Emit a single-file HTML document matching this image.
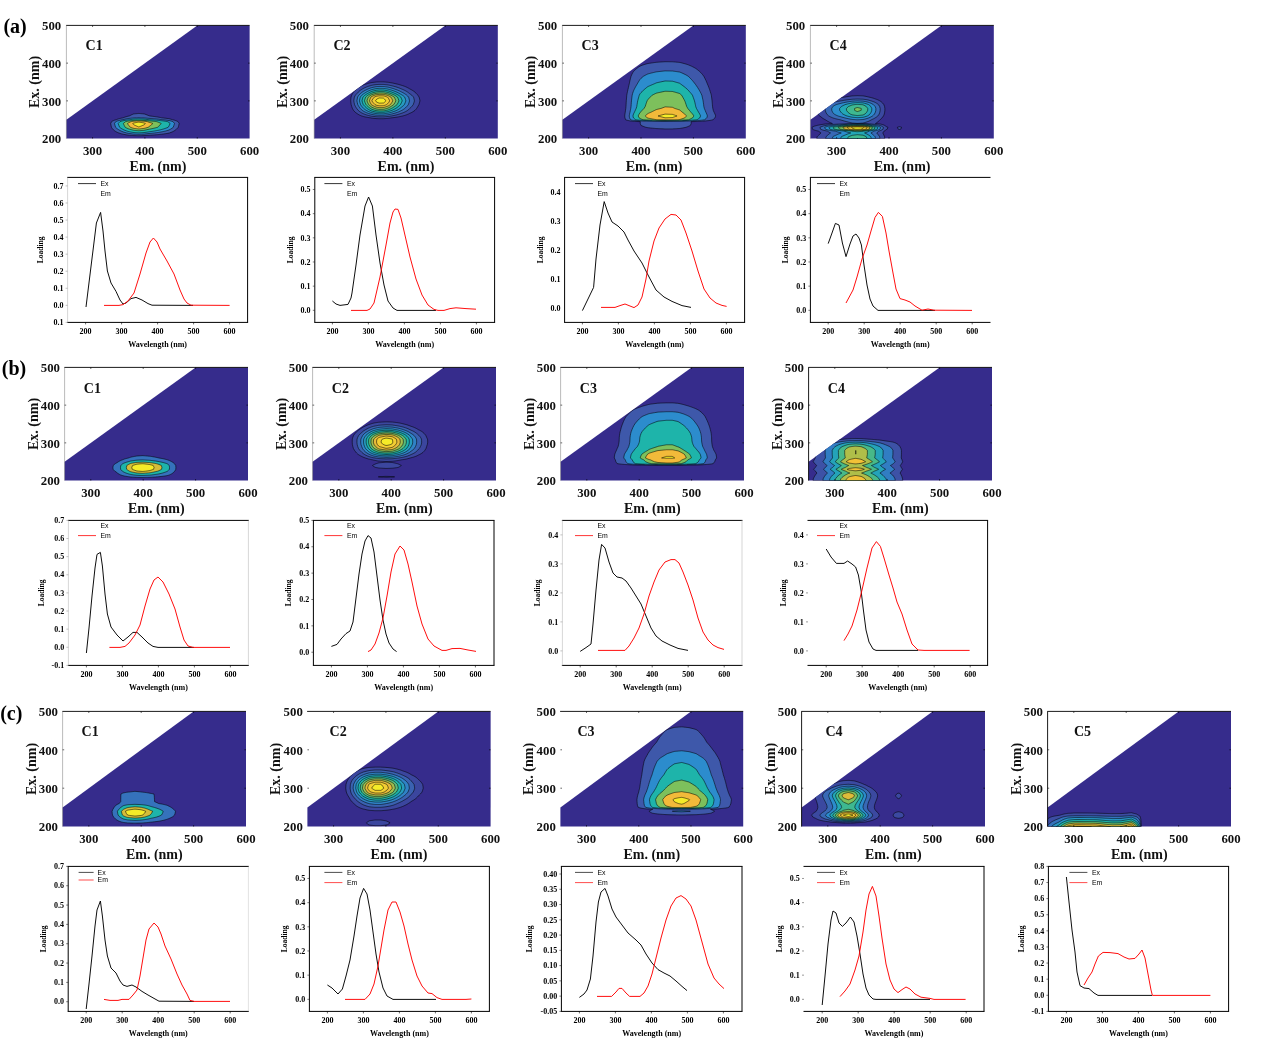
<!DOCTYPE html><html><head><meta charset="utf-8"><title>PARAFAC components</title><style>html,body{margin:0;padding:0;background:#fff}svg{display:block}</style></head><body><svg width="1265" height="1045" viewBox="0 0 1265 1045"><g>
<clipPath id="cca1"><polygon points="66.4,119.73 197.26,25.4 249.6,25.4 249.6,138.6 66.4,138.6"/></clipPath>
<polygon points="66.4,119.73 197.26,25.4 249.6,25.4 249.6,138.6 66.4,138.6" fill="#362c8c"/>
<g clip-path="url(#cca1)">
<path d="M126.35,134.83 L127.12,134.94 L128.16,135.08 L129.21,135.19 L130.26,135.29 L131.31,135.38 L132.35,135.46 L133.4,135.54 L134.45,135.59 L135.49,135.62 L136.54,135.65 L137.59,135.68 L138.63,135.71 L139.68,135.69 L140.73,135.67 L141.77,135.64 L142.82,135.61 L143.87,135.58 L144.91,135.52 L145.96,135.45 L147.01,135.38 L148.05,135.3 L149.1,135.24 L150.15,135.17 L151.2,135.11 L152.24,135.04 L153.29,134.97 L154.34,134.9 L155.26,134.83 L155.38,134.82 L156.43,134.73 L157.48,134.65 L158.52,134.55 L159.57,134.45 L160.62,134.34 L161.66,134.22 L162.71,134.09 L163.76,133.95 L164.8,133.8 L165.85,133.64 L166.9,133.47 L167.95,133.29 L168.99,133.07 L169.41,132.94 L170.04,132.74 L171.09,132.37 L172.13,131.94 L173.18,131.45 L173.9,131.05 L174.23,130.86 L175.27,130.15 L176.32,129.3 L176.46,129.17 L177.37,128.23 L178.24,127.28 L178.41,126.6 L178.71,125.39 L179.15,123.51 L178.41,122.26 L178,121.62 L177.37,121.32 L176.32,120.84 L175.27,120.46 L174.23,120.14 L173.18,119.88 L172.52,119.73 L172.13,119.6 L171.09,119.27 L170.04,118.98 L168.99,118.73 L167.95,118.56 L166.9,118.41 L165.85,118.28 L164.8,118.16 L163.76,118.04 L162.71,117.94 L161.78,117.85 L161.66,117.82 L160.62,117.59 L159.57,117.38 L158.52,117.18 L157.48,117 L156.43,116.84 L155.38,116.68 L154.34,116.53 L153.29,116.39 L152.24,116.26 L151.2,116.13 L150.15,116 L149.76,115.96 L149.1,115.74 L148.05,115.36 L147.01,114.93 L145.96,114.52 L144.91,114.13 L144.73,114.07 L143.87,113.91 L142.82,113.81 L141.77,113.71 L140.73,113.61 L139.68,113.52 L138.63,113.46 L137.59,113.55 L136.54,113.66 L135.49,113.76 L134.45,113.86 L133.4,114.04 L133.27,114.07 L132.35,114.47 L131.31,114.95 L130.26,115.47 L129.32,115.96 L129.21,115.98 L128.16,116.18 L127.12,116.45 L126.07,116.75 L125.02,117.09 L123.98,117.46 L123.03,117.85 L122.93,117.86 L121.88,118.06 L120.84,118.29 L119.79,118.55 L118.74,118.83 L117.7,119.15 L116.65,119.53 L116.16,119.73 L115.6,119.88 L114.56,120.2 L113.51,120.59 L112.46,121.1 L111.62,121.62 L111.41,122.04 L110.71,123.51 L111.06,125.39 L111.41,127.13 L111.44,127.28 L112.46,128.73 L112.84,129.17 L113.51,129.85 L114.56,130.74 L115,131.05 L115.6,131.45 L116.65,132.03 L117.7,132.52 L118.74,132.93 L118.77,132.94 L119.79,133.3 L120.84,133.63 L121.88,133.93 L122.93,134.18 L123.98,134.4 L125.02,134.6 L126.07,134.78 Z" fill="#3e58aa" fill-rule="evenodd" stroke="#000" stroke-width="0.6" stroke-opacity="0.9"/>
<path d="M126.74,132.94 L127.12,133.03 L128.16,133.26 L129.21,133.43 L130.26,133.59 L131.31,133.74 L132.35,133.88 L133.4,134.01 L134.45,134.09 L135.49,134.14 L136.54,134.19 L137.59,134.24 L138.63,134.29 L139.68,134.26 L140.73,134.21 L141.77,134.17 L142.82,134.12 L143.87,134.07 L144.91,133.98 L145.96,133.86 L147.01,133.75 L148.05,133.62 L149.1,133.51 L150.15,133.41 L151.2,133.31 L152.24,133.2 L153.29,133.08 L154.34,132.96 L154.48,132.94 L155.38,132.83 L156.43,132.69 L157.48,132.55 L158.52,132.4 L159.57,132.23 L160.62,132.04 L161.66,131.85 L162.71,131.64 L163.76,131.41 L164.8,131.17 L165.3,131.05 L165.85,130.91 L166.9,130.64 L167.95,130.33 L168.99,129.97 L170.04,129.44 L170.53,129.17 L171.09,128.84 L172.13,128.14 L173.18,127.33 L173.24,127.28 L173.9,125.39 L174.23,124.37 L174.49,123.51 L174.23,123.16 L173.18,121.92 L172.9,121.62 L172.13,121.36 L171.09,121.05 L170.04,120.78 L168.99,120.54 L167.95,120.38 L166.9,120.24 L165.85,120.12 L164.8,120 L163.76,119.89 L162.71,119.79 L162.08,119.73 L161.66,119.67 L160.62,119.52 L159.57,119.38 L158.52,119.24 L157.48,119.13 L156.43,119.02 L155.38,118.91 L154.34,118.81 L153.29,118.72 L152.24,118.63 L151.2,118.54 L150.15,118.46 L149.1,118.38 L148.05,118.3 L147.01,118.2 L145.96,118.11 L144.91,118.02 L143.87,117.95 L142.82,117.91 L141.77,117.87 L140.99,117.85 L140.73,117.83 L139.68,117.74 L138.63,117.69 L137.59,117.77 L136.75,117.85 L136.54,117.85 L135.49,117.89 L134.45,117.93 L133.4,118 L132.35,118.1 L131.31,118.2 L130.26,118.32 L129.21,118.44 L128.16,118.57 L127.12,118.75 L126.07,118.96 L125.02,119.18 L123.98,119.43 L122.93,119.72 L122.87,119.73 L121.88,119.91 L120.84,120.12 L119.79,120.37 L118.74,120.64 L117.7,120.94 L116.65,121.3 L115.84,121.62 L115.6,121.92 L114.56,123.42 L114.5,123.51 L114.56,123.73 L115,125.39 L115.55,127.28 L115.6,127.33 L116.65,128.28 L117.7,129.07 L117.83,129.17 L118.74,129.75 L119.79,130.35 L120.84,130.9 L121.16,131.05 L121.88,131.37 L122.93,131.79 L123.98,132.16 L125.02,132.48 L126.07,132.77 Z" fill="#2c8ccd" fill-rule="evenodd" stroke="#000" stroke-width="0.6" stroke-opacity="0.9"/>
<path d="M126.91,131.05 L127.12,131.12 L128.16,131.44 L129.21,131.68 L130.26,131.9 L131.31,132.11 L132.35,132.3 L133.4,132.48 L134.45,132.59 L135.49,132.66 L136.54,132.73 L137.59,132.8 L138.63,132.86 L139.68,132.82 L140.73,132.76 L141.77,132.7 L142.82,132.63 L143.87,132.56 L144.91,132.43 L145.96,132.28 L147.01,132.11 L148.05,131.94 L149.1,131.79 L150.15,131.65 L151.2,131.5 L152.24,131.35 L153.29,131.19 L154.12,131.05 L154.34,131.02 L155.38,130.84 L156.43,130.65 L157.48,130.45 L158.52,130.25 L159.57,130.01 L160.62,129.75 L161.66,129.48 L162.71,129.19 L162.79,129.17 L163.76,128.88 L164.8,128.54 L165.85,128.19 L166.9,127.8 L167.95,127.38 L168.16,127.28 L168.99,125.99 L169.27,125.39 L170.04,123.64 L170.09,123.51 L170.04,123.45 L168.99,122.51 L167.95,121.86 L167.5,121.62 L166.9,121.51 L165.85,121.34 L164.8,121.18 L163.76,121.03 L162.71,120.89 L161.66,120.76 L160.62,120.64 L159.57,120.52 L158.52,120.42 L157.48,120.32 L156.43,120.23 L155.38,120.15 L154.34,120.07 L153.29,119.99 L152.24,119.92 L151.2,119.85 L150.15,119.79 L149.28,119.73 L149.1,119.72 L148.05,119.6 L147.01,119.47 L145.96,119.34 L144.91,119.22 L143.87,119.12 L142.82,119.06 L141.77,119.01 L140.73,118.96 L139.68,118.91 L138.63,118.88 L137.59,118.93 L136.54,118.99 L135.49,119.04 L134.45,119.09 L133.4,119.18 L132.35,119.32 L131.31,119.47 L130.26,119.63 L129.62,119.73 L129.21,119.77 L128.16,119.88 L127.12,120.02 L126.07,120.18 L125.02,120.37 L123.98,120.57 L122.93,120.8 L121.88,121.05 L120.84,121.35 L119.99,121.62 L119.79,121.82 L118.74,122.91 L118.2,123.51 L118.74,124.99 L118.89,125.39 L119.62,127.28 L119.79,127.4 L120.84,128.16 L121.88,128.82 L122.49,129.17 L122.93,129.4 L123.98,129.91 L125.02,130.36 L126.07,130.76 Z" fill="#1eb4aa" fill-rule="evenodd" stroke="#000" stroke-width="0.6" stroke-opacity="0.9"/>
<path d="M129.6,129.17 L130.26,129.36 L131.31,129.65 L132.35,129.92 L133.4,130.18 L134.45,130.34 L135.49,130.44 L136.54,130.54 L137.59,130.64 L138.63,130.73 L139.68,130.67 L140.73,130.58 L141.77,130.49 L142.82,130.4 L143.87,130.3 L144.91,130.11 L145.96,129.89 L147.01,129.66 L148.05,129.42 L149.1,129.21 L149.31,129.17 L150.15,129.01 L151.2,128.8 L152.24,128.58 L153.29,128.35 L154.34,128.11 L155.38,127.86 L156.43,127.59 L157.48,127.31 L157.59,127.28 L158.52,126.43 L159.53,125.39 L159.57,125.35 L160.62,124.19 L161.2,123.51 L160.62,123.23 L159.57,122.76 L158.52,122.33 L157.48,121.94 L156.54,121.62 L156.43,121.61 L155.38,121.49 L154.34,121.37 L153.29,121.27 L152.24,121.16 L151.2,121.07 L150.15,120.97 L149.1,120.88 L148.05,120.79 L147.01,120.68 L145.96,120.57 L144.91,120.47 L143.87,120.39 L142.82,120.35 L141.77,120.31 L140.73,120.26 L139.68,120.22 L138.63,120.2 L137.59,120.24 L136.54,120.28 L135.49,120.33 L134.45,120.37 L133.4,120.45 L132.35,120.56 L131.31,120.68 L130.26,120.81 L129.21,120.95 L128.16,121.1 L127.12,121.31 L126.07,121.54 L125.72,121.62 L125.02,122.12 L123.98,122.95 L123.33,123.51 L123.98,124.89 L124.22,125.39 L125.02,126.94 L125.21,127.28 L126.07,127.74 L127.12,128.26 L128.16,128.71 L129.21,129.05 Z" fill="#7dc05c" fill-rule="evenodd" stroke="#000" stroke-width="0.6" stroke-opacity="0.9"/>
<path d="M130.36,127.28 L131.31,127.61 L132.35,127.95 L133.4,128.26 L134.45,128.47 L135.49,128.59 L136.54,128.72 L137.59,128.83 L138.63,128.95 L139.68,128.88 L140.73,128.77 L141.77,128.65 L142.82,128.54 L143.87,128.42 L144.91,128.18 L145.96,127.91 L147.01,127.62 L148.05,127.32 L148.2,127.28 L149.1,126.55 L150.15,125.75 L150.61,125.39 L151.2,124.92 L152.24,124.05 L152.87,123.51 L152.24,123.29 L151.2,122.94 L150.15,122.6 L149.1,122.28 L148.05,121.94 L147.22,121.62 L147.01,121.59 L145.96,121.46 L144.91,121.34 L143.87,121.24 L142.82,121.18 L141.77,121.13 L140.73,121.08 L139.68,121.03 L138.63,121 L137.59,121.05 L136.54,121.1 L135.49,121.16 L134.45,121.21 L133.4,121.3 L132.35,121.45 L131.31,121.6 L131.17,121.62 L130.26,122.03 L129.21,122.53 L128.16,123.07 L127.53,123.51 L128.16,124.58 L128.79,125.39 L129.21,125.92 L130.26,127.17 Z" fill="#f2ba3a" fill-rule="evenodd" stroke="#000" stroke-width="0.6" stroke-opacity="0.9"/>
<path d="M135.11,125.39 L135.49,125.57 L136.54,126.03 L137.59,126.48 L138.63,126.92 L139.68,126.65 L140.73,126.23 L141.77,125.8 L142.72,125.39 L142.82,125.35 L143.87,124.9 L144.91,123.99 L145.41,123.51 L144.91,123.31 L143.87,122.95 L142.82,122.76 L141.77,122.58 L140.73,122.41 L139.68,122.24 L138.63,122.13 L137.59,122.3 L136.54,122.49 L135.49,122.68 L134.45,122.87 L133.4,123.19 L132.71,123.51 L133.4,124.3 L134.45,125.09 Z" fill="#f5eb28" fill-rule="evenodd" stroke="#000" stroke-width="0.6" stroke-opacity="0.9"/>
</g>
<line x1="66.1" y1="25.4" x2="249.6" y2="25.4" stroke="#000" stroke-width="0.9"/>
<line x1="66.4" y1="25.4" x2="66.4" y2="138.6" stroke="#777" stroke-width="0.5"/>
<line x1="92.57" y1="25.4" x2="92.57" y2="27" stroke="#000" stroke-width="0.6"/>
<line x1="92.57" y1="138.6" x2="92.57" y2="137" stroke="#000" stroke-width="0.6"/>
<line x1="144.91" y1="25.4" x2="144.91" y2="27" stroke="#000" stroke-width="0.6"/>
<line x1="144.91" y1="138.6" x2="144.91" y2="137" stroke="#000" stroke-width="0.6"/>
<line x1="197.26" y1="25.4" x2="197.26" y2="27" stroke="#000" stroke-width="0.6"/>
<line x1="197.26" y1="138.6" x2="197.26" y2="137" stroke="#000" stroke-width="0.6"/>
<line x1="66.4" y1="100.87" x2="68" y2="100.87" stroke="#000" stroke-width="0.6"/>
<line x1="249.6" y1="100.87" x2="248" y2="100.87" stroke="#000" stroke-width="0.6"/>
<line x1="66.4" y1="63.13" x2="68" y2="63.13" stroke="#000" stroke-width="0.6"/>
<line x1="249.6" y1="63.13" x2="248" y2="63.13" stroke="#000" stroke-width="0.6"/>
<g font-family='"Liberation Serif", serif' font-weight="bold" font-size="12.8" fill="#111">
<text x="92.57" y="154.5" text-anchor="middle">300</text>
<text x="144.91" y="154.5" text-anchor="middle">400</text>
<text x="197.26" y="154.5" text-anchor="middle">500</text>
<text x="249.6" y="154.5" text-anchor="middle">600</text>
<text x="61.2" y="143.3" text-anchor="end">200</text>
<text x="61.2" y="105.57" text-anchor="end">300</text>
<text x="61.2" y="67.83" text-anchor="end">400</text>
<text x="61.2" y="30.1" text-anchor="end">500</text>
<text x="158" y="171" text-anchor="middle" font-size="14">Em. (nm)</text>
<text transform="translate(39.4,82) rotate(-90)" text-anchor="middle" font-size="14">Ex. (nm)</text>
<text x="85.6" y="50" font-size="14">C1</text>
</g>
</g>
<g>
<clipPath id="cca2"><polygon points="314.2,119.73 445.34,25.4 497.8,25.4 497.8,138.6 314.2,138.6"/></clipPath>
<polygon points="314.2,119.73 445.34,25.4 497.8,25.4 497.8,138.6 314.2,138.6" fill="#362c8c"/>
<g clip-path="url(#cca2)">
<path d="M370.61,117.85 L370.85,117.9 L371.9,118.1 L372.95,118.23 L374,118.35 L375.05,118.46 L376.1,118.57 L377.15,118.62 L378.2,118.67 L379.25,118.7 L380.3,118.7 L381.35,118.7 L382.39,118.69 L383.44,118.69 L384.49,118.62 L385.54,118.54 L386.59,118.45 L387.64,118.36 L388.69,118.24 L389.74,118.08 L390.79,117.92 L391.25,117.85 L391.84,117.79 L392.89,117.67 L393.93,117.55 L394.98,117.41 L396.03,117.26 L397.08,117.1 L398.13,116.92 L399.18,116.72 L400.23,116.5 L401.28,116.27 L402.33,116.04 L402.65,115.96 L403.38,115.78 L404.43,115.49 L405.48,115.17 L406.52,114.8 L407.57,114.39 L408.27,114.07 L408.62,113.91 L409.67,113.38 L410.72,112.92 L411.77,112.41 L412.19,112.19 L412.82,111.83 L413.87,111.16 L414.92,110.36 L414.99,110.3 L415.97,109.26 L416.65,108.41 L417.02,107.87 L417.81,106.53 L418.07,106.04 L418.9,104.64 L419.11,103.85 L419.47,102.75 L419.96,100.87 L419.61,98.98 L419.11,97.12 L419.11,97.09 L418.07,95.57 L417.84,95.21 L417.02,94.2 L416.17,93.32 L415.97,93.11 L414.92,92.14 L414.03,91.43 L413.87,91.31 L412.82,90.59 L411.77,89.97 L410.97,89.55 L410.72,89.41 L409.67,88.85 L408.62,88.21 L407.57,87.66 L407.57,87.66 L406.52,87.13 L405.48,86.66 L404.43,86.25 L403.38,85.89 L403.02,85.77 L402.33,85.54 L401.28,85.22 L400.23,84.89 L399.18,84.58 L398.13,84.3 L397.08,84.05 L396.33,83.89 L396.03,83.81 L394.98,83.55 L393.93,83.31 L392.89,83.09 L391.84,82.89 L390.79,82.71 L389.74,82.53 L388.69,82.37 L387.64,82.23 L386.59,82.14 L385.54,82.05 L384.95,82 L384.49,81.96 L383.44,81.88 L382.39,81.87 L381.35,81.87 L380.3,81.87 L379.25,81.86 L378.2,81.91 L377.15,81.95 L376.33,82 L376.1,82.01 L375.05,82.13 L374,82.25 L372.95,82.38 L371.9,82.51 L370.85,82.73 L369.8,82.97 L368.76,83.24 L367.71,83.54 L366.66,83.87 L366.61,83.89 L365.61,84.17 L364.56,84.49 L363.51,84.87 L362.46,85.29 L361.44,85.77 L361.41,85.79 L360.36,86.31 L359.31,86.94 L358.31,87.66 L358.26,87.69 L357.21,88.51 L356.17,89.34 L355.93,89.55 L355.12,90.27 L354.07,91.41 L354.05,91.43 L353.02,92.85 L352.73,93.32 L351.97,94.66 L351.7,95.21 L351.06,97.09 L350.92,98.43 L350.87,98.98 L350.73,100.87 L350.92,102.75 L350.92,102.77 L351.16,104.64 L351.72,106.53 L351.97,107.23 L352.43,108.41 L353.02,109.56 L353.45,110.3 L354.07,111.06 L355.12,112.13 L355.18,112.19 L356.17,112.98 L357.21,113.67 L357.82,114.07 L358.26,114.36 L359.31,114.95 L360.36,115.45 L361.41,115.86 L361.69,115.96 L362.46,116.21 L363.51,116.52 L364.56,116.78 L365.61,117.02 L366.66,117.23 L367.71,117.42 L368.76,117.59 L369.8,117.74 Z" fill="#3b469e" fill-rule="evenodd" stroke="#000" stroke-width="0.6" stroke-opacity="0.9"/>
<path d="M370.58,115.96 L370.85,116.02 L371.9,116.23 L372.95,116.36 L374,116.48 L375.05,116.6 L376.1,116.71 L377.15,116.76 L378.2,116.8 L379.25,116.84 L380.3,116.84 L381.35,116.83 L382.39,116.83 L383.44,116.82 L384.49,116.75 L385.54,116.67 L386.59,116.58 L387.64,116.49 L388.69,116.36 L389.74,116.21 L390.79,116.04 L391.29,115.96 L391.84,115.87 L392.89,115.67 L393.93,115.47 L394.98,115.24 L396.03,114.99 L397.08,114.72 L398.13,114.42 L399.18,114.09 L399.23,114.07 L400.23,113.75 L401.28,113.37 L402.33,113.01 L403.38,112.61 L404.36,112.19 L404.43,112.16 L405.48,111.65 L406.52,111.08 L407.57,110.43 L407.77,110.3 L408.62,109.57 L409.67,108.53 L409.82,108.41 L410.72,107.55 L411.71,106.53 L411.77,106.46 L412.82,105.2 L413.24,104.64 L413.87,102.84 L413.9,102.75 L414.41,100.87 L414.04,98.98 L413.87,98.35 L413.52,97.09 L412.82,96.29 L411.77,95.22 L411.76,95.21 L410.72,94.43 L409.67,93.71 L409.19,93.32 L408.62,92.85 L407.57,92.07 L406.6,91.43 L406.52,91.39 L405.48,90.78 L404.43,90.24 L403.38,89.76 L402.87,89.55 L402.33,89.3 L401.28,88.86 L400.23,88.41 L399.18,88 L398.24,87.66 L398.13,87.62 L397.08,87.24 L396.03,86.89 L394.98,86.58 L393.93,86.29 L392.89,86.02 L391.84,85.78 L391.81,85.77 L390.79,85.53 L389.74,85.3 L388.69,85.08 L387.64,84.9 L386.59,84.77 L385.54,84.65 L384.49,84.54 L383.44,84.44 L382.39,84.43 L381.35,84.43 L380.3,84.42 L379.25,84.42 L378.2,84.47 L377.15,84.53 L376.1,84.6 L375.05,84.76 L374,84.92 L372.95,85.09 L371.9,85.27 L370.85,85.57 L370.17,85.77 L369.8,85.88 L368.76,86.2 L367.71,86.56 L366.66,86.97 L365.61,87.41 L365.07,87.66 L364.56,87.88 L363.51,88.39 L362.46,88.96 L361.54,89.55 L361.41,89.62 L360.36,90.32 L359.31,91.14 L358.98,91.43 L358.26,92.11 L357.21,93.27 L357.17,93.32 L356.17,94.34 L355.45,95.21 L355.12,95.73 L354.36,97.09 L354.07,98.83 L354.04,98.98 L353.81,100.87 L354.07,102.39 L354.13,102.75 L354.53,104.64 L355.12,105.85 L355.48,106.53 L356.17,107.67 L356.66,108.41 L357.21,109.09 L358.17,110.3 L358.26,110.39 L359.31,111.32 L360.36,112.08 L360.52,112.19 L361.41,112.73 L362.46,113.29 L363.51,113.77 L364.27,114.07 L364.56,114.19 L365.61,114.58 L366.66,114.93 L367.71,115.25 L368.76,115.53 L369.8,115.79 Z" fill="#3a62b1" fill-rule="evenodd" stroke="#000" stroke-width="0.6" stroke-opacity="0.9"/>
<path d="M370.57,114.07 L370.85,114.16 L371.9,114.45 L372.95,114.64 L374,114.81 L375.05,114.97 L376.1,115.12 L377.15,115.2 L378.2,115.26 L379.25,115.31 L380.3,115.3 L381.35,115.3 L382.39,115.29 L383.44,115.29 L384.49,115.19 L385.54,115.07 L386.59,114.95 L387.64,114.83 L388.69,114.64 L389.74,114.43 L390.79,114.2 L391.31,114.07 L391.84,113.95 L392.89,113.7 L393.93,113.43 L394.98,113.13 L396.03,112.8 L397.08,112.44 L397.78,112.19 L398.13,112.05 L399.18,111.62 L400.23,111.14 L401.28,110.62 L401.96,110.3 L402.33,110.08 L403.38,109.42 L404.43,108.68 L404.78,108.41 L405.48,107.8 L406.52,106.76 L406.75,106.53 L407.57,105.58 L408.32,104.64 L408.62,103.79 L408.98,102.75 L409.51,100.87 L409.12,98.98 L408.62,97.19 L408.59,97.09 L407.57,95.96 L406.8,95.21 L406.52,94.99 L405.48,94.25 L404.43,93.59 L403.95,93.32 L403.38,92.97 L402.33,92.39 L401.28,91.87 L400.44,91.43 L400.23,91.33 L399.18,90.81 L398.13,90.35 L397.08,89.93 L396.03,89.55 L396.01,89.55 L394.98,89.16 L393.93,88.8 L392.89,88.47 L391.84,88.16 L390.79,87.88 L389.92,87.66 L389.74,87.61 L388.69,87.34 L387.64,87.1 L386.59,86.94 L385.54,86.79 L384.49,86.64 L383.44,86.51 L382.39,86.51 L381.35,86.5 L380.3,86.49 L379.25,86.49 L378.2,86.56 L377.15,86.63 L376.1,86.73 L375.05,86.92 L374,87.13 L372.95,87.35 L371.9,87.58 L371.66,87.66 L370.85,87.92 L369.8,88.29 L368.76,88.69 L367.71,89.14 L366.86,89.55 L366.66,89.64 L365.61,90.13 L364.56,90.67 L363.51,91.3 L363.3,91.43 L362.46,91.99 L361.41,92.79 L360.8,93.32 L360.36,93.69 L359.31,94.69 L358.84,95.21 L358.26,96.03 L357.59,97.09 L357.22,98.98 L357.21,99.01 L356.9,100.87 L357.21,102.22 L357.32,102.75 L357.79,104.64 L358.26,105.51 L358.88,106.53 L359.31,107.19 L360.23,108.41 L360.36,108.56 L361.41,109.63 L362.17,110.3 L362.46,110.5 L363.51,111.17 L364.56,111.75 L365.45,112.19 L365.61,112.26 L366.66,112.72 L367.71,113.14 L368.76,113.51 L369.8,113.85 Z" fill="#3082c6" fill-rule="evenodd" stroke="#000" stroke-width="0.6" stroke-opacity="0.9"/>
<path d="M370.25,112.19 L370.85,112.41 L371.9,112.76 L372.95,112.98 L374,113.19 L375.05,113.39 L376.1,113.57 L377.15,113.66 L378.2,113.73 L379.25,113.8 L380.3,113.79 L381.35,113.78 L382.39,113.78 L383.44,113.77 L384.49,113.65 L385.54,113.51 L386.59,113.36 L387.64,113.21 L388.69,112.99 L389.74,112.73 L390.79,112.45 L391.71,112.19 L391.84,112.15 L392.89,111.82 L393.93,111.47 L394.98,111.09 L396.03,110.68 L396.9,110.3 L397.08,110.2 L398.13,109.61 L399.18,108.96 L399.98,108.41 L400.23,108.21 L401.28,107.35 L402.31,106.53 L402.33,106.51 L403.38,105.58 L404.33,104.64 L404.43,104.43 L405.18,102.75 L405.48,101.95 L405.86,100.87 L405.48,99.38 L405.37,98.98 L404.69,97.09 L404.43,96.86 L403.38,95.97 L402.38,95.21 L402.33,95.17 L401.28,94.57 L400.23,93.95 L399.18,93.38 L399.07,93.32 L398.13,92.81 L397.08,92.28 L396.03,91.81 L395.12,91.43 L394.98,91.38 L393.93,90.97 L392.89,90.59 L391.84,90.25 L390.79,89.93 L389.74,89.63 L389.44,89.55 L388.69,89.32 L387.64,89.06 L386.59,88.87 L385.54,88.7 L384.49,88.53 L383.44,88.38 L382.39,88.37 L381.35,88.37 L380.3,88.36 L379.25,88.35 L378.2,88.43 L377.15,88.52 L376.1,88.62 L375.05,88.85 L374,89.08 L372.95,89.33 L372.11,89.55 L371.9,89.59 L370.85,89.97 L369.8,90.39 L368.76,90.85 L367.71,91.36 L367.57,91.43 L366.66,91.92 L365.61,92.53 L364.56,93.21 L364.4,93.32 L363.51,93.91 L362.46,94.71 L361.88,95.21 L361.41,95.71 L360.36,97 L360.29,97.09 L359.82,98.98 L359.49,100.87 L359.95,102.75 L360.36,104.09 L360.54,104.64 L361.41,105.87 L361.93,106.53 L362.46,107.16 L363.51,108.26 L363.66,108.41 L364.56,109.16 L365.61,109.93 L366.15,110.3 L366.66,110.58 L367.71,111.11 L368.76,111.59 L369.8,112.02 Z" fill="#269cbf" fill-rule="evenodd" stroke="#000" stroke-width="0.6" stroke-opacity="0.9"/>
<path d="M377.1,112.19 L377.15,112.19 L378.2,112.28 L379.25,112.36 L380.3,112.35 L381.35,112.34 L382.39,112.34 L383.44,112.33 L384.45,112.19 L384.49,112.18 L385.54,112.01 L386.59,111.83 L387.64,111.65 L388.69,111.38 L389.74,111.06 L390.79,110.72 L391.84,110.36 L391.99,110.3 L392.89,109.9 L393.93,109.39 L394.98,108.84 L395.75,108.41 L396.03,108.23 L397.08,107.51 L398.13,106.71 L398.36,106.53 L399.18,105.83 L400.23,104.86 L400.46,104.64 L401.28,102.95 L401.38,102.75 L402.22,100.87 L401.61,98.98 L401.28,98.21 L400.84,97.09 L400.23,96.58 L399.18,95.75 L398.43,95.21 L398.13,95.03 L397.08,94.46 L396.03,93.94 L394.98,93.47 L394.64,93.32 L393.93,93 L392.89,92.55 L391.84,92.14 L390.79,91.76 L389.81,91.43 L389.74,91.41 L388.69,91.07 L387.64,90.78 L386.59,90.58 L385.54,90.39 L384.49,90.21 L383.44,90.05 L382.39,90.05 L381.35,90.04 L380.3,90.03 L379.25,90.02 L378.2,90.11 L377.15,90.2 L376.1,90.32 L375.05,90.56 L374,90.81 L372.95,91.08 L371.9,91.37 L371.75,91.43 L370.85,91.82 L369.8,92.31 L368.76,92.86 L367.94,93.32 L367.71,93.45 L366.66,94.05 L365.61,94.73 L364.92,95.21 L364.56,95.52 L363.51,96.53 L362.98,97.09 L362.46,98.79 L362.41,98.98 L361.99,100.87 L362.46,102.42 L362.56,102.75 L363.28,104.64 L363.51,104.92 L364.56,106.1 L364.98,106.53 L365.61,107.14 L366.66,108.07 L367.07,108.41 L367.71,108.87 L368.76,109.56 L369.8,110.17 L370.03,110.3 L370.85,110.67 L371.9,111.1 L372.95,111.37 L374,111.62 L375.05,111.86 L376.1,112.08 Z" fill="#1eb4aa" fill-rule="evenodd" stroke="#000" stroke-width="0.6" stroke-opacity="0.9"/>
<path d="M374.9,110.3 L375.05,110.34 L376.1,110.6 L377.15,110.73 L378.2,110.84 L379.25,110.93 L380.3,110.92 L381.35,110.91 L382.39,110.9 L383.44,110.89 L384.49,110.72 L385.54,110.52 L386.59,110.31 L386.64,110.3 L387.64,110.05 L388.69,109.68 L389.74,109.24 L390.79,108.76 L391.52,108.41 L391.84,108.24 L392.89,107.63 L393.93,106.98 L394.61,106.53 L394.98,106.26 L396.03,105.49 L397.08,104.64 L397.08,104.63 L398.12,102.75 L398.13,102.72 L398.95,100.87 L398.35,98.98 L398.13,98.47 L397.51,97.09 L397.08,96.77 L396.03,96.05 L394.98,95.38 L394.69,95.21 L393.93,94.84 L392.89,94.37 L391.84,93.93 L390.79,93.53 L390.21,93.32 L389.74,93.14 L388.69,92.75 L387.64,92.42 L386.59,92.19 L385.54,91.97 L384.49,91.76 L383.44,91.58 L382.39,91.58 L381.35,91.57 L380.3,91.56 L379.25,91.55 L378.2,91.65 L377.15,91.75 L376.1,91.89 L375.05,92.16 L374,92.45 L372.95,92.76 L371.9,93.09 L371.43,93.32 L370.85,93.59 L369.8,94.11 L368.76,94.69 L367.9,95.21 L367.71,95.35 L366.66,96.2 L365.66,97.09 L365.61,97.25 L364.99,98.98 L364.56,100.63 L364.5,100.87 L364.56,101.04 L365.17,102.75 L365.61,103.74 L366.01,104.64 L366.66,105.3 L367.71,106.3 L367.97,106.53 L368.76,107.19 L369.8,107.99 L370.4,108.41 L370.85,108.69 L371.9,109.29 L372.95,109.66 L374,110.01 Z" fill="#57bb7b" fill-rule="evenodd" stroke="#000" stroke-width="0.6" stroke-opacity="0.9"/>
<path d="M374.65,108.41 L375.05,108.56 L376.1,108.92 L377.15,109.09 L378.2,109.23 L379.25,109.36 L380.3,109.35 L381.35,109.34 L382.39,109.32 L383.44,109.31 L384.49,109.08 L385.54,108.8 L386.59,108.52 L386.96,108.41 L387.64,108.2 L388.69,107.73 L389.74,107.17 L390.79,106.57 L390.86,106.53 L391.84,105.92 L392.89,105.22 L393.7,104.64 L393.93,104.29 L394.91,102.75 L394.98,102.6 L395.87,100.87 L395.17,98.98 L394.98,98.6 L394.21,97.09 L393.93,96.92 L392.89,96.27 L391.84,95.67 L390.95,95.21 L390.79,95.14 L389.74,94.7 L388.69,94.3 L387.64,93.96 L386.59,93.72 L385.54,93.5 L384.68,93.32 L384.49,93.28 L383.44,93.07 L382.39,93.06 L381.35,93.05 L380.3,93.04 L379.25,93.03 L378.2,93.14 L377.15,93.26 L376.76,93.32 L376.1,93.41 L375.05,93.69 L374,94 L372.95,94.32 L371.9,94.65 L370.85,95.2 L370.85,95.21 L369.8,95.92 L368.76,96.71 L368.28,97.09 L367.71,98.51 L367.52,98.98 L366.98,100.87 L367.71,102.69 L367.73,102.75 L368.68,104.64 L368.76,104.71 L369.8,105.64 L370.85,106.47 L370.92,106.53 L371.9,107.24 L372.95,107.71 L374,108.15 Z" fill="#a0be4e" fill-rule="evenodd" stroke="#000" stroke-width="0.6" stroke-opacity="0.9"/>
<path d="M374.87,106.53 L375.05,106.61 L376.1,107.06 L377.15,107.28 L378.2,107.45 L379.25,107.61 L380.3,107.59 L381.35,107.58 L382.39,107.56 L383.44,107.55 L384.49,107.25 L385.54,106.91 L386.59,106.56 L386.68,106.53 L387.64,106.18 L388.69,105.65 L389.74,105.02 L390.33,104.64 L390.79,104.02 L391.69,102.75 L391.84,102.51 L392.78,100.87 L391.99,98.98 L391.84,98.7 L390.9,97.09 L390.79,97.03 L389.74,96.45 L388.69,95.91 L387.64,95.45 L386.84,95.21 L386.59,95.14 L385.54,94.89 L384.49,94.64 L383.44,94.43 L382.39,94.42 L381.35,94.41 L380.3,94.4 L379.25,94.39 L378.2,94.5 L377.15,94.63 L376.1,94.78 L375.05,95.11 L374.74,95.21 L374,95.5 L372.95,95.92 L371.9,96.38 L370.89,97.09 L370.85,97.17 L370.03,98.98 L369.8,99.64 L369.41,100.87 L369.8,101.76 L370.26,102.75 L370.85,103.81 L371.34,104.64 L371.9,105.09 L372.95,105.63 L374,106.13 Z" fill="#e6bb3a" fill-rule="evenodd" stroke="#000" stroke-width="0.6" stroke-opacity="0.9"/>
<path d="M375.05,104.64 L375.05,104.64 L376.1,105.15 L377.15,105.39 L378.2,105.58 L379.25,105.76 L380.3,105.74 L381.35,105.73 L382.39,105.71 L383.44,105.69 L384.49,105.37 L385.54,104.98 L386.45,104.64 L386.59,104.53 L387.64,103.69 L388.46,102.75 L388.69,102.44 L389.7,100.87 L388.82,98.98 L388.69,98.78 L387.64,97.31 L387.42,97.09 L386.59,96.81 L385.54,96.47 L384.49,96.15 L383.44,95.87 L382.39,95.85 L381.35,95.84 L380.3,95.83 L379.25,95.81 L378.2,95.96 L377.15,96.13 L376.1,96.34 L375.05,96.77 L374.29,97.09 L374,97.46 L372.95,98.83 L372.84,98.98 L371.9,100.68 L371.84,100.87 L371.9,101 L372.95,102.38 L373.24,102.75 L374,103.57 Z" fill="#f3ce33" fill-rule="evenodd" stroke="#000" stroke-width="0.6" stroke-opacity="0.9"/>
<path d="M378.15,102.75 L378.2,102.77 L379.25,103.17 L380.3,103.13 L381.35,103.1 L382.39,103.06 L383.44,103.02 L383.83,102.75 L384.49,102.22 L385.54,101.24 L385.93,100.87 L385.54,100.35 L384.49,99.01 L384.46,98.98 L383.44,98.12 L382.39,98.07 L381.35,98.03 L380.3,97.98 L379.25,97.94 L378.2,98.42 L377.15,98.94 L377.09,98.98 L376.1,99.79 L375.45,100.87 L376.1,101.65 L377.15,102.28 Z" fill="#f5eb28" fill-rule="evenodd" stroke="#000" stroke-width="0.6" stroke-opacity="0.9"/>
</g>
<line x1="313.9" y1="25.4" x2="497.8" y2="25.4" stroke="#000" stroke-width="0.9"/>
<line x1="314.2" y1="25.4" x2="314.2" y2="138.6" stroke="#777" stroke-width="0.5"/>
<line x1="340.43" y1="25.4" x2="340.43" y2="27" stroke="#000" stroke-width="0.6"/>
<line x1="340.43" y1="138.6" x2="340.43" y2="137" stroke="#000" stroke-width="0.6"/>
<line x1="392.89" y1="25.4" x2="392.89" y2="27" stroke="#000" stroke-width="0.6"/>
<line x1="392.89" y1="138.6" x2="392.89" y2="137" stroke="#000" stroke-width="0.6"/>
<line x1="445.34" y1="25.4" x2="445.34" y2="27" stroke="#000" stroke-width="0.6"/>
<line x1="445.34" y1="138.6" x2="445.34" y2="137" stroke="#000" stroke-width="0.6"/>
<line x1="314.2" y1="100.87" x2="315.8" y2="100.87" stroke="#000" stroke-width="0.6"/>
<line x1="497.8" y1="100.87" x2="496.2" y2="100.87" stroke="#000" stroke-width="0.6"/>
<line x1="314.2" y1="63.13" x2="315.8" y2="63.13" stroke="#000" stroke-width="0.6"/>
<line x1="497.8" y1="63.13" x2="496.2" y2="63.13" stroke="#000" stroke-width="0.6"/>
<g font-family='"Liberation Serif", serif' font-weight="bold" font-size="12.8" fill="#111">
<text x="340.43" y="154.5" text-anchor="middle">300</text>
<text x="392.89" y="154.5" text-anchor="middle">400</text>
<text x="445.34" y="154.5" text-anchor="middle">500</text>
<text x="497.8" y="154.5" text-anchor="middle">600</text>
<text x="309" y="143.3" text-anchor="end">200</text>
<text x="309" y="105.57" text-anchor="end">300</text>
<text x="309" y="67.83" text-anchor="end">400</text>
<text x="309" y="30.1" text-anchor="end">500</text>
<text x="406" y="171" text-anchor="middle" font-size="14">Em. (nm)</text>
<text transform="translate(287.2,82) rotate(-90)" text-anchor="middle" font-size="14">Ex. (nm)</text>
<text x="333.4" y="50" font-size="14">C2</text>
</g>
</g>
<g>
<clipPath id="cca3"><polygon points="562.4,119.73 693.4,25.4 745.8,25.4 745.8,138.6 562.4,138.6"/></clipPath>
<polygon points="562.4,119.73 693.4,25.4 745.8,25.4 745.8,138.6 562.4,138.6" fill="#362c8c"/>
<g clip-path="url(#cca3)">
<path d="M645.8,127.28 L646.24,127.37 L647.29,127.59 L648.34,127.74 L649.38,127.86 L650.43,127.97 L651.48,128.08 L652.53,128.19 L653.58,128.29 L654.62,128.39 L655.67,128.49 L656.72,128.57 L657.77,128.62 L658.82,128.67 L659.86,128.72 L660.91,128.77 L661.96,128.81 L663.01,128.86 L664.06,128.9 L665.1,128.95 L666.15,128.94 L667.2,128.94 L668.25,128.93 L669.3,128.92 L670.34,128.92 L671.39,128.91 L672.44,128.9 L673.49,128.84 L674.54,128.78 L675.58,128.72 L676.63,128.66 L677.68,128.6 L678.73,128.53 L679.78,128.46 L680.82,128.29 L681.87,128.1 L682.92,127.91 L683.97,127.71 L685.02,127.5 L686.06,127.29 L686.09,127.28 L687.11,126.91 L688.16,126.46 L689.21,125.99 L690.26,125.48 L690.43,125.39 L691.16,123.51 L691.16,121.62 L691.3,121.62 L692.35,121.59 L693.4,121.56 L694.45,121.53 L695.5,121.5 L696.54,121.46 L697.59,121.42 L698.64,121.37 L699.69,121.32 L700.74,121.27 L701.78,121.2 L702.83,121.13 L703.88,121.05 L704.93,120.97 L705.98,120.88 L707.02,120.77 L708.07,120.65 L709.12,120.52 L710.17,120.36 L711.22,120.16 L712.26,119.93 L713.07,119.73 L713.31,119.36 L714.36,118.45 L714.99,117.85 L715.41,116.69 L715.66,115.96 L715.41,115.23 L714.99,114.07 L714.36,112.78 L714.06,112.19 L713.31,110.48 L713.27,110.3 L712.82,108.41 L712.53,106.53 L712.38,104.64 L712.26,103.23 L712.23,102.75 L712.06,100.87 L711.83,98.98 L711.58,97.09 L711.33,95.21 L711.22,94.78 L710.81,93.32 L710.21,91.43 L710.17,91.3 L709.58,89.55 L709.12,88.23 L708.91,87.66 L708.16,85.77 L708.07,85.56 L707.37,83.89 L707.02,83.01 L706.61,82 L705.98,80.56 L705.77,80.11 L704.93,78.41 L704.84,78.23 L703.88,76.39 L703.85,76.34 L702.83,74.94 L702.45,74.45 L701.78,73.68 L700.74,72.57 L700.74,72.57 L699.69,71.56 L698.67,70.68 L698.64,70.66 L697.59,69.8 L696.54,69.03 L696.21,68.79 L695.5,68.31 L694.45,67.7 L693.4,67.13 L692.96,66.91 L692.35,66.6 L691.3,66.11 L690.26,65.64 L689.21,65.21 L688.74,65.02 L688.16,64.8 L687.11,64.41 L686.06,64.09 L685.02,63.79 L683.97,63.5 L682.92,63.22 L682.56,63.13 L681.87,62.95 L680.82,62.68 L679.78,62.43 L678.73,62.33 L677.68,62.23 L676.63,62.14 L675.58,62.05 L674.54,61.96 L673.49,61.87 L672.44,61.79 L671.39,61.78 L670.34,61.77 L669.3,61.75 L668.25,61.74 L667.2,61.73 L666.15,61.72 L665.1,61.72 L664.06,61.78 L663.01,61.85 L661.96,61.92 L660.91,61.98 L659.86,62.05 L658.82,62.12 L657.77,62.19 L656.72,62.26 L655.67,62.39 L654.62,62.53 L653.58,62.68 L652.53,62.83 L651.48,62.99 L650.53,63.13 L650.43,63.15 L649.38,63.3 L648.34,63.46 L647.29,63.67 L646.24,63.97 L645.19,64.28 L644.14,64.6 L643.1,64.95 L642.88,65.02 L642.05,65.31 L641,65.69 L639.95,66.2 L638.9,66.87 L638.85,66.91 L637.86,67.61 L636.81,68.43 L636.38,68.79 L635.76,69.32 L634.71,70.3 L634.33,70.68 L633.66,71.36 L632.82,72.57 L632.62,72.87 L631.83,74.45 L631.57,75.06 L631.05,76.34 L630.53,78.23 L630.52,78.26 L630.06,80.11 L629.64,82 L629.47,82.81 L629.24,83.89 L628.81,85.77 L628.42,87.56 L628.4,87.66 L627.95,89.55 L627.53,91.43 L627.38,92.12 L627.13,93.32 L626.78,95.21 L626.61,97.09 L626.45,98.98 L626.33,100.46 L626.3,100.87 L626.18,102.75 L626.09,104.64 L625.99,106.53 L625.81,108.41 L625.53,110.3 L625.28,111.98 L625.25,112.19 L624.94,114.07 L624.72,115.96 L624.94,117.85 L625.28,118.8 L625.65,119.73 L626.33,119.99 L627.38,120.31 L628.42,120.55 L629.47,120.78 L630.52,120.97 L631.57,121.13 L632.62,121.25 L633.66,121.33 L634.71,121.39 L635.76,121.45 L636.81,121.49 L637.86,121.54 L638.9,121.58 L639.95,121.61 L640.27,121.62 L640.27,123.51 L640.95,125.39 L641,125.42 L642.05,125.87 L643.1,126.29 L644.14,126.69 L645.19,127.07 Z" fill="#3e58aa" fill-rule="evenodd" stroke="#000" stroke-width="0.6" stroke-opacity="0.9"/>
<path d="M630.57,119.73 L631.57,120 L632.62,120.23 L633.66,120.4 L634.71,120.51 L635.76,120.61 L636.81,120.7 L637.86,120.78 L638.9,120.85 L639.95,120.92 L641,120.97 L642.05,121.01 L643.1,121.05 L644.14,121.08 L645.19,121.11 L646.24,121.14 L647.29,121.17 L648.34,121.19 L649.38,121.21 L650.43,121.22 L651.48,121.24 L652.53,121.25 L653.58,121.27 L654.62,121.28 L655.67,121.3 L656.72,121.31 L657.77,121.31 L658.82,121.32 L659.86,121.33 L660.91,121.33 L661.96,121.34 L663.01,121.35 L664.06,121.35 L665.1,121.36 L666.15,121.36 L667.2,121.36 L668.25,121.36 L669.3,121.36 L670.34,121.35 L671.39,121.35 L672.44,121.35 L673.49,121.34 L674.54,121.34 L675.58,121.33 L676.63,121.32 L677.68,121.31 L678.73,121.3 L679.78,121.29 L680.82,121.27 L681.87,121.24 L682.92,121.22 L683.97,121.19 L685.02,121.16 L686.06,121.13 L687.11,121.1 L688.16,121.06 L689.21,121.02 L690.26,120.98 L691.3,120.93 L692.35,120.88 L693.4,120.83 L694.45,120.77 L695.5,120.71 L696.54,120.64 L697.59,120.56 L698.64,120.47 L699.69,120.37 L700.74,120.27 L701.78,120.15 L702.83,120.02 L703.88,119.87 L704.76,119.73 L704.93,119.58 L705.98,118.64 L706.76,117.85 L707.02,117.09 L707.4,115.96 L707.02,114.83 L706.76,114.07 L705.98,112.37 L705.89,112.19 L705.11,110.3 L704.93,109.87 L704.34,108.41 L703.88,106.63 L703.85,106.53 L703.61,104.64 L703.37,102.75 L703.09,100.87 L702.83,99.64 L702.69,98.98 L702.28,97.09 L701.85,95.21 L701.78,95.07 L700.97,93.32 L700.74,92.87 L699.95,91.43 L699.69,90.95 L698.88,89.55 L698.64,89.13 L697.73,87.66 L697.59,87.44 L696.54,85.89 L696.46,85.77 L695.5,84.42 L695.06,83.89 L694.45,83.06 L693.62,82 L693.4,81.72 L692.35,80.47 L692.04,80.11 L691.3,79.3 L690.27,78.23 L690.26,78.21 L689.21,77.18 L688.3,76.34 L688.16,76.24 L687.11,75.54 L686.06,74.96 L685.11,74.45 L685.02,74.41 L683.97,73.9 L682.92,73.41 L681.87,72.95 L680.97,72.57 L680.82,72.51 L679.78,72.08 L678.73,71.91 L677.68,71.75 L676.63,71.6 L675.58,71.45 L674.54,71.3 L673.49,71.16 L672.44,71.01 L671.39,71 L670.34,70.98 L669.3,70.96 L668.25,70.94 L667.2,70.93 L666.15,70.91 L665.1,70.9 L664.06,71.01 L663.01,71.12 L661.96,71.23 L660.91,71.34 L659.86,71.46 L658.82,71.57 L657.77,71.69 L656.72,71.81 L655.67,72.01 L654.62,72.25 L653.58,72.5 L653.29,72.57 L652.53,72.75 L651.48,73.01 L650.43,73.28 L649.38,73.55 L648.34,73.83 L647.29,74.21 L646.78,74.45 L646.24,74.74 L645.19,75.3 L644.14,75.89 L643.39,76.34 L643.1,76.57 L642.05,77.43 L641.11,78.23 L641,78.33 L639.95,79.51 L639.55,80.11 L638.9,81.11 L638.36,82 L637.86,82.86 L637.28,83.89 L636.81,84.67 L636.17,85.77 L635.76,86.48 L635.11,87.66 L634.71,88.42 L634.15,89.55 L633.66,90.56 L633.34,91.43 L632.66,93.32 L632.62,93.46 L632.17,95.21 L631.93,97.09 L631.7,98.98 L631.57,100.08 L631.48,100.87 L631.32,102.75 L631.19,104.64 L631.05,106.53 L630.79,108.41 L630.52,109.68 L630.39,110.3 L630,112.19 L629.56,114.07 L629.47,114.6 L629.22,115.96 L629.47,117.32 L629.56,117.85 L630.52,119.65 Z" fill="#2c8ccd" fill-rule="evenodd" stroke="#000" stroke-width="0.6" stroke-opacity="0.9"/>
<path d="M635.69,119.73 L635.76,119.74 L636.81,119.88 L637.86,120 L638.9,120.11 L639.95,120.21 L641,120.28 L642.05,120.34 L643.1,120.39 L644.14,120.44 L645.19,120.49 L646.24,120.54 L647.29,120.58 L648.34,120.61 L649.38,120.64 L650.43,120.66 L651.48,120.68 L652.53,120.7 L653.58,120.72 L654.62,120.75 L655.67,120.77 L656.72,120.78 L657.77,120.79 L658.82,120.8 L659.86,120.81 L660.91,120.82 L661.96,120.83 L663.01,120.84 L664.06,120.85 L665.1,120.86 L666.15,120.86 L667.2,120.86 L668.25,120.85 L669.3,120.85 L670.34,120.85 L671.39,120.85 L672.44,120.85 L673.49,120.84 L674.54,120.82 L675.58,120.81 L676.63,120.8 L677.68,120.79 L678.73,120.77 L679.78,120.76 L680.82,120.72 L681.87,120.69 L682.92,120.65 L683.97,120.61 L685.02,120.56 L686.06,120.52 L687.11,120.47 L688.16,120.41 L689.21,120.35 L690.26,120.29 L691.3,120.22 L692.35,120.15 L693.4,120.07 L694.45,119.98 L695.5,119.89 L696.54,119.79 L697.03,119.73 L697.59,119.38 L698.64,118.66 L699.69,117.88 L699.72,117.85 L700.58,115.96 L699.72,114.07 L699.69,114.01 L698.64,112.32 L698.55,112.19 L697.59,110.44 L697.51,110.3 L696.54,108.58 L696.44,108.41 L695.73,106.53 L695.5,105.32 L695.35,104.64 L694.95,102.75 L694.48,100.87 L694.45,100.76 L693.83,98.98 L693.4,97.77 L693.15,97.09 L692.44,95.21 L692.35,95.09 L691.3,93.71 L690.99,93.32 L690.26,92.47 L689.31,91.43 L689.21,91.32 L688.16,90.18 L687.54,89.55 L687.11,89.1 L686.06,88.17 L685.45,87.66 L685.02,87.31 L683.97,86.49 L683.02,85.77 L682.92,85.7 L681.87,84.9 L680.82,84.13 L680.48,83.89 L679.78,83.33 L678.73,82.99 L677.68,82.68 L676.63,82.38 L675.58,82.08 L675.31,82 L674.54,81.78 L673.49,81.49 L672.44,81.21 L671.39,81.18 L670.34,81.14 L669.3,81.11 L668.25,81.07 L667.2,81.04 L666.15,81.01 L665.1,80.99 L664.06,81.2 L663.01,81.42 L661.96,81.64 L660.91,81.86 L660.28,82 L659.86,82.09 L658.82,82.32 L657.77,82.55 L656.72,82.78 L655.67,83.19 L654.62,83.66 L654.14,83.89 L653.58,84.12 L652.53,84.56 L651.48,85 L650.43,85.46 L649.74,85.77 L649.38,85.92 L648.34,86.38 L647.29,86.98 L646.45,87.66 L646.24,87.83 L645.19,88.72 L644.26,89.55 L644.14,89.65 L643.1,90.61 L642.23,91.43 L642.05,91.6 L641,92.61 L640.42,93.32 L639.95,93.96 L639.25,95.21 L638.9,96.41 L638.71,97.09 L638.2,98.98 L637.86,100.31 L637.71,100.87 L637.36,102.75 L637.06,104.64 L636.81,106.25 L636.77,106.53 L636.18,108.41 L635.76,109.29 L635.3,110.3 L634.71,111.55 L634.43,112.19 L633.66,113.64 L633.49,114.07 L632.92,115.96 L633.49,117.85 L633.66,118.05 L634.71,118.97 Z" fill="#1eb4aa" fill-rule="evenodd" stroke="#000" stroke-width="0.6" stroke-opacity="0.9"/>
<path d="M643,119.73 L643.1,119.74 L644.14,119.81 L645.19,119.87 L646.24,119.93 L647.29,119.99 L648.34,120.03 L649.38,120.06 L650.43,120.09 L651.48,120.12 L652.53,120.15 L653.58,120.18 L654.62,120.21 L655.67,120.23 L656.72,120.26 L657.77,120.27 L658.82,120.28 L659.86,120.3 L660.91,120.31 L661.96,120.32 L663.01,120.33 L664.06,120.35 L665.1,120.36 L666.15,120.36 L667.2,120.35 L668.25,120.35 L669.3,120.35 L670.34,120.35 L671.39,120.35 L672.44,120.35 L673.49,120.33 L674.54,120.31 L675.58,120.3 L676.63,120.28 L677.68,120.26 L678.73,120.25 L679.78,120.23 L680.82,120.18 L681.87,120.13 L682.92,120.08 L683.97,120.02 L685.02,119.97 L686.06,119.91 L687.11,119.85 L688.16,119.77 L688.64,119.73 L689.21,119.49 L690.26,119.02 L691.3,118.52 L692.35,117.98 L692.6,117.85 L693.4,116.67 L693.86,115.96 L693.4,115.25 L692.6,114.07 L692.35,113.79 L691.3,112.63 L690.88,112.19 L690.26,111.4 L689.34,110.3 L689.21,110.14 L688.16,108.87 L687.77,108.41 L687.11,107.2 L686.69,106.53 L686.1,104.64 L686.06,104.54 L685.48,102.75 L685.02,101.53 L684.76,100.87 L683.97,99.35 L683.77,98.98 L682.92,97.44 L682.72,97.09 L681.87,95.61 L681.63,95.21 L680.82,94.5 L679.78,93.61 L678.92,93.32 L678.73,93.26 L677.68,92.95 L676.63,92.65 L675.58,92.35 L674.54,92.06 L673.49,91.77 L672.44,91.49 L671.39,91.45 L670.74,91.43 L670.34,91.42 L669.3,91.38 L668.25,91.35 L667.2,91.31 L666.15,91.28 L665.1,91.26 L664.29,91.43 L664.06,91.48 L663.01,91.7 L661.96,91.92 L660.91,92.14 L659.86,92.36 L658.82,92.59 L657.77,92.82 L656.72,93.05 L656.02,93.32 L655.67,93.46 L654.62,93.97 L653.58,94.48 L652.53,95.01 L652.14,95.21 L651.48,95.86 L650.43,96.91 L650.25,97.09 L649.38,97.98 L648.44,98.98 L648.34,99.09 L647.29,100.56 L647.13,100.87 L646.42,102.75 L646.24,103.28 L645.8,104.64 L645.19,106.53 L645.19,106.53 L644.14,108.19 L644.01,108.41 L643.1,109.34 L642.19,110.3 L642.05,110.45 L641,111.55 L640.53,112.19 L639.95,112.84 L639.12,114.07 L638.9,114.5 L638.18,115.96 L638.9,117.42 L639.12,117.85 L639.95,118.42 L641,118.96 L642.05,119.38 Z" fill="#7dc05c" fill-rule="evenodd" stroke="#000" stroke-width="0.6" stroke-opacity="0.9"/>
<path d="M656.84,119.73 L657.77,119.75 L658.82,119.76 L659.86,119.78 L660.91,119.8 L661.96,119.81 L663.01,119.83 L664.06,119.84 L665.1,119.86 L666.15,119.86 L667.2,119.85 L668.25,119.85 L669.3,119.85 L670.34,119.85 L671.39,119.84 L672.44,119.84 L673.49,119.82 L674.54,119.8 L675.58,119.78 L676.63,119.76 L677.68,119.74 L677.95,119.73 L678.73,119.64 L679.78,119.51 L680.82,119.19 L681.87,118.85 L682.92,118.5 L683.97,118.13 L684.74,117.85 L685.02,117.57 L686.06,116.48 L686.53,115.96 L686.06,115.44 L685.02,114.35 L684.74,114.07 L683.97,113.47 L682.92,112.67 L682.26,112.19 L681.87,111.85 L680.82,110.95 L680.04,110.3 L679.78,110.07 L678.73,109.69 L677.68,109.35 L676.63,109.02 L675.58,108.69 L674.69,108.41 L674.54,108.33 L673.49,107.81 L672.44,107.3 L671.39,107.23 L670.34,107.17 L669.3,107.11 L668.25,107.05 L667.2,106.99 L666.15,106.93 L665.1,106.89 L664.06,107.28 L663.01,107.68 L661.96,108.08 L661.09,108.41 L660.91,108.45 L659.86,108.7 L658.82,108.96 L657.77,109.21 L656.72,109.47 L655.67,109.91 L654.9,110.3 L654.62,110.43 L653.58,110.93 L652.53,111.44 L651.48,111.97 L651.06,112.19 L650.43,112.45 L649.38,112.9 L648.34,113.36 L647.29,113.97 L647.15,114.07 L646.24,115.01 L645.35,115.96 L646.24,116.91 L647.15,117.85 L647.29,117.9 L648.34,118.18 L649.38,118.39 L650.43,118.6 L651.48,118.81 L652.53,119 L653.58,119.2 L654.62,119.38 L655.67,119.57 L656.72,119.72 Z" fill="#f2ba3a" fill-rule="evenodd" stroke="#000" stroke-width="0.6" stroke-opacity="0.9"/>
<path d="M658.01,115.96 L658.82,116.18 L659.86,116.46 L660.91,116.74 L661.96,117.01 L663.01,117.28 L664.06,117.55 L665.1,117.81 L666.15,117.78 L667.2,117.74 L668.25,117.7 L669.3,117.66 L670.34,117.62 L671.39,117.58 L672.44,117.54 L673.49,117.19 L674.54,116.83 L675.58,116.47 L676.63,116.11 L677.05,115.96 L676.63,115.81 L675.58,115.45 L674.54,115.09 L673.49,114.73 L672.44,114.38 L671.39,114.34 L670.34,114.3 L669.3,114.26 L668.25,114.22 L667.2,114.18 L666.15,114.14 L665.1,114.11 L664.06,114.37 L663.01,114.64 L661.96,114.91 L660.91,115.18 L659.86,115.46 L658.82,115.74 Z" fill="#f5eb28" fill-rule="evenodd" stroke="#000" stroke-width="0.6" stroke-opacity="0.9"/>
</g>
<line x1="562.1" y1="25.4" x2="745.8" y2="25.4" stroke="#000" stroke-width="0.9"/>
<line x1="562.4" y1="25.4" x2="562.4" y2="138.6" stroke="#777" stroke-width="0.5"/>
<line x1="588.6" y1="25.4" x2="588.6" y2="27" stroke="#000" stroke-width="0.6"/>
<line x1="588.6" y1="138.6" x2="588.6" y2="137" stroke="#000" stroke-width="0.6"/>
<line x1="641" y1="25.4" x2="641" y2="27" stroke="#000" stroke-width="0.6"/>
<line x1="641" y1="138.6" x2="641" y2="137" stroke="#000" stroke-width="0.6"/>
<line x1="693.4" y1="25.4" x2="693.4" y2="27" stroke="#000" stroke-width="0.6"/>
<line x1="693.4" y1="138.6" x2="693.4" y2="137" stroke="#000" stroke-width="0.6"/>
<line x1="562.4" y1="100.87" x2="564" y2="100.87" stroke="#000" stroke-width="0.6"/>
<line x1="745.8" y1="100.87" x2="744.2" y2="100.87" stroke="#000" stroke-width="0.6"/>
<line x1="562.4" y1="63.13" x2="564" y2="63.13" stroke="#000" stroke-width="0.6"/>
<line x1="745.8" y1="63.13" x2="744.2" y2="63.13" stroke="#000" stroke-width="0.6"/>
<g font-family='"Liberation Serif", serif' font-weight="bold" font-size="12.8" fill="#111">
<text x="588.6" y="154.5" text-anchor="middle">300</text>
<text x="641" y="154.5" text-anchor="middle">400</text>
<text x="693.4" y="154.5" text-anchor="middle">500</text>
<text x="745.8" y="154.5" text-anchor="middle">600</text>
<text x="557.2" y="143.3" text-anchor="end">200</text>
<text x="557.2" y="105.57" text-anchor="end">300</text>
<text x="557.2" y="67.83" text-anchor="end">400</text>
<text x="557.2" y="30.1" text-anchor="end">500</text>
<text x="654.1" y="171" text-anchor="middle" font-size="14">Em. (nm)</text>
<text transform="translate(535.4,82) rotate(-90)" text-anchor="middle" font-size="14">Ex. (nm)</text>
<text x="581.6" y="50" font-size="14">C3</text>
</g>
</g>
<g>
<clipPath id="cca4"><polygon points="810.4,119.73 941.4,25.4 993.8,25.4 993.8,138.6 810.4,138.6"/></clipPath>
<polygon points="810.4,119.73 941.4,25.4 993.8,25.4 993.8,138.6 810.4,138.6" fill="#362c8c"/>
<g clip-path="url(#cca4)">
<path d="M816.73,138.6 L817.74,138.6 L818.78,138.6 L819.83,138.6 L820.88,138.6 L821.93,138.6 L822.98,138.6 L824.02,138.6 L825.07,138.6 L826.12,138.6 L827.17,138.6 L828.22,138.6 L829.26,138.6 L830.31,138.6 L831.36,138.6 L832.41,138.6 L833.46,138.6 L834.5,138.6 L835.55,138.6 L836.6,138.6 L837.65,138.6 L838.7,138.6 L839.74,138.6 L840.79,138.6 L841.84,138.6 L842.89,138.6 L843.94,138.6 L844.98,138.6 L846.03,138.6 L847.08,138.6 L848.13,138.6 L849.18,138.6 L850.22,138.6 L851.27,138.6 L852.32,138.6 L853.37,138.6 L854.42,138.6 L855.46,138.6 L856.51,138.6 L857.56,138.6 L858.61,138.6 L859.66,138.6 L860.7,138.6 L861.75,138.6 L862.8,138.6 L863.85,138.6 L864.9,138.6 L865.94,138.6 L866.99,138.6 L868.04,138.6 L869.09,138.6 L870.14,138.6 L871.18,138.6 L872.23,138.6 L873.28,138.6 L874.33,138.6 L875.38,138.6 L876.42,138.6 L877.47,138.6 L878.52,138.6 L879.57,138.6 L880.62,138.6 L881.66,138.6 L882.71,138.6 L883.76,138.6 L884.75,138.6 L884.57,136.71 L883.76,134.88 L883.73,134.83 L882.79,132.94 L883.76,131.57 L884.07,131.05 L884.81,130.69 L885.86,129.94 L886.9,129.26 L887.23,129.17 L887.95,127.34 L887.97,127.28 L887.95,127.27 L886.9,126.95 L885.86,126.27 L884.81,125.52 L884.57,125.39 L883.76,125.03 L882.71,124.66 L881.66,124.35 L880.62,124.12 L879.57,123.94 L878.52,123.8 L877.47,123.68 L876.42,123.58 L875.47,123.51 L876.42,122.9 L877.47,122.12 L878.05,121.62 L878.52,121.25 L879.57,120.3 L880.1,119.73 L880.62,119.32 L881.66,118.29 L882.04,117.85 L882.71,117 L883.49,115.96 L883.76,115.36 L884.28,114.07 L884.66,112.19 L884.81,110.87 L884.87,110.3 L884.87,108.41 L884.81,108.01 L884.57,106.53 L883.85,104.64 L883.76,104.51 L882.71,103.18 L882.35,102.75 L881.66,102.11 L880.62,101.33 L879.81,100.87 L879.57,100.71 L878.52,100.15 L877.47,99.67 L876.42,99.28 L875.47,98.98 L875.38,98.94 L874.33,98.54 L873.28,98.2 L872.23,97.89 L871.18,97.61 L870.14,97.36 L869.09,97.14 L868.84,97.09 L868.04,96.85 L866.99,96.61 L865.94,96.39 L864.9,96.19 L863.85,96 L862.8,95.86 L861.75,95.82 L860.7,95.78 L859.66,95.75 L858.61,95.71 L857.56,95.68 L856.51,95.71 L855.46,95.76 L854.42,95.81 L853.37,95.87 L852.32,95.92 L851.27,96.06 L850.22,96.2 L849.18,96.35 L848.13,96.51 L847.08,96.67 L846.03,96.86 L844.98,97.05 L844.77,97.09 L843.94,97.19 L842.89,97.32 L841.84,97.46 L840.79,97.6 L839.74,97.74 L838.7,97.87 L837.65,98.02 L836.6,98.17 L835.55,98.34 L834.5,98.52 L833.46,98.71 L832.41,98.98 L832.4,98.98 L831.36,99.19 L830.31,99.43 L829.26,99.69 L828.22,100 L827.17,100.34 L826.12,100.74 L825.79,100.87 L825.07,101.11 L824.02,101.51 L822.98,101.99 L821.93,102.56 L821.62,102.75 L820.88,103.3 L819.83,104.05 L818.82,104.64 L818.78,104.68 L817.74,105.8 L817.14,106.53 L816.69,107.71 L816.44,108.41 L816.44,110.3 L816.69,111.28 L816.93,112.19 L817.74,113.92 L817.81,114.07 L818.78,115.11 L819.69,115.96 L819.83,116.05 L820.88,116.86 L821.93,117.7 L822.14,117.85 L822.98,118.44 L824.02,119.08 L825.07,119.62 L825.32,119.73 L826.12,120.26 L827.17,120.92 L828.22,121.5 L828.45,121.62 L829.26,122.08 L830.31,122.61 L831.36,123.09 L832.4,123.51 L831.36,123.56 L830.31,123.62 L829.26,123.68 L828.22,123.76 L827.17,123.85 L826.12,123.95 L825.07,124.05 L824.02,124.17 L822.98,124.32 L821.93,124.49 L820.88,124.7 L819.83,124.9 L818.78,125.07 L817.74,125.27 L817.14,125.39 L816.69,125.5 L815.64,125.77 L814.59,126.1 L813.54,126.5 L812.5,127.01 L812.03,127.28 L812.44,129.17 L812.5,129.2 L813.54,129.71 L814.59,130.11 L815.64,130.44 L816.69,130.71 L817.74,130.94 L818.3,131.05 L818.78,131.4 L819.83,132.08 L820.88,132.9 L820.92,132.94 L820.88,133 L819.83,134.17 L819.1,134.83 L818.78,135.1 L817.74,136.08 L817.14,136.71 Z M898.17,129.17 L898.43,129.24 L899.48,129.5 L900.53,129.24 L900.79,129.17 L901.58,127.34 L901.6,127.28 L901.58,127.27 L900.53,126.97 L899.48,126.71 L898.43,126.97 L897.38,127.27 L897.36,127.28 L897.38,127.34 Z" fill="#3b49a0" fill-rule="evenodd" stroke="#000" stroke-width="0.6" stroke-opacity="0.9"/>
<path d="M825.58,138.6 L826.12,138.6 L827.17,138.6 L828.22,138.6 L829.26,138.6 L830.31,138.6 L831.36,138.6 L832.41,138.6 L833.46,138.6 L834.5,138.6 L835.55,138.6 L836.6,138.6 L837.65,138.6 L838.7,138.6 L839.74,138.6 L840.79,138.6 L841.84,138.6 L842.89,138.6 L843.94,138.6 L844.98,138.6 L846.03,138.6 L847.08,138.6 L848.13,138.6 L849.18,138.6 L850.22,138.6 L851.27,138.6 L852.32,138.6 L853.37,138.6 L854.42,138.6 L855.46,138.6 L856.51,138.6 L857.56,138.6 L858.61,138.6 L859.66,138.6 L860.7,138.6 L861.75,138.6 L862.8,138.6 L863.85,138.6 L864.9,138.6 L865.94,138.6 L866.99,138.6 L868.04,138.6 L869.09,138.6 L870.14,138.6 L871.18,138.6 L872.23,138.6 L873.28,138.6 L874.33,138.6 L875.38,138.6 L876.42,138.6 L877.47,138.6 L878.52,138.6 L879.57,138.6 L879.94,138.6 L879.65,136.71 L879.57,136.59 L878.52,135.15 L878.26,134.83 L877.47,133.81 L876.69,132.94 L877.47,132.33 L878.52,131.36 L878.82,131.05 L879.57,130.84 L880.62,130.48 L881.66,130.01 L882.71,129.37 L883.03,129.17 L883.37,127.28 L882.71,126.84 L881.66,126.2 L880.62,125.73 L879.65,125.39 L879.57,125.37 L878.52,125.08 L877.47,124.84 L876.42,124.64 L875.38,124.47 L874.33,124.33 L873.28,124.21 L872.23,124.1 L871.18,124 L870.14,123.91 L869.09,123.83 L868.04,123.76 L866.99,123.71 L865.94,123.67 L864.9,123.63 L863.85,123.59 L862.8,123.56 L861.75,123.55 L860.7,123.55 L859.66,123.54 L858.61,123.53 L857.56,123.52 L856.51,123.53 L855.46,123.54 L854.42,123.55 L853.37,123.56 L852.32,123.57 L851.27,123.6 L850.22,123.63 L849.18,123.66 L848.13,123.69 L847.08,123.73 L846.03,123.76 L844.98,123.8 L843.94,123.85 L842.89,123.89 L841.84,123.94 L840.79,123.99 L839.74,124.04 L838.7,124.09 L837.65,124.14 L836.6,124.2 L835.55,124.26 L834.5,124.32 L833.46,124.39 L832.41,124.48 L831.36,124.59 L830.31,124.71 L829.26,124.85 L828.22,125 L827.17,125.18 L826.12,125.38 L826.06,125.39 L825.07,125.59 L824.02,125.84 L822.98,126.13 L821.93,126.48 L820.88,126.91 L819.94,127.28 L820.52,129.17 L820.88,129.3 L821.93,129.73 L822.98,130.08 L824.02,130.37 L825.07,130.62 L826.12,130.83 L827.17,131.03 L827.29,131.05 L828.22,131.67 L829.26,132.29 L830.31,132.83 L830.54,132.94 L830.31,133.1 L829.26,133.87 L828.22,134.75 L828.13,134.83 L827.17,135.64 L826.12,136.66 L826.06,136.71 Z M846.64,121.62 L847.08,121.74 L848.13,122.02 L849.18,122.27 L850.22,122.52 L851.27,122.75 L852.32,122.97 L853.37,123.06 L854.42,123.15 L855.46,123.24 L856.51,123.32 L857.56,123.37 L858.61,123.31 L859.66,123.25 L860.7,123.19 L861.75,123.13 L862.8,123.07 L863.85,122.84 L864.9,122.54 L865.94,122.2 L866.99,121.84 L867.6,121.62 L868.04,121.48 L869.09,121.04 L870.14,120.52 L871.18,119.93 L871.51,119.73 L872.23,119.42 L873.28,118.92 L874.33,118.38 L875.22,117.85 L875.38,117.76 L876.42,117.09 L877.47,116.29 L877.86,115.96 L878.52,115.06 L879.17,114.07 L879.57,112.91 L879.8,112.19 L880.15,110.3 L880.15,108.41 L879.65,106.53 L879.57,106.38 L878.52,104.74 L878.45,104.64 L877.47,103.82 L876.42,103.1 L875.85,102.75 L875.38,102.51 L874.33,102.04 L873.28,101.63 L872.23,101.26 L871.18,100.92 L870.99,100.87 L870.14,100.58 L869.09,100.27 L868.04,100.01 L866.99,99.81 L865.94,99.63 L864.9,99.47 L863.85,99.31 L862.8,99.2 L861.75,99.17 L860.7,99.14 L859.66,99.11 L858.61,99.08 L857.56,99.05 L856.51,99.07 L855.46,99.12 L854.42,99.16 L853.37,99.2 L852.32,99.25 L851.27,99.36 L850.22,99.47 L849.18,99.6 L848.13,99.73 L847.08,99.86 L846.03,100.01 L844.98,100.17 L843.94,100.34 L842.89,100.52 L841.84,100.72 L841.11,100.87 L840.79,100.92 L839.74,101.08 L838.7,101.24 L837.65,101.41 L836.6,101.6 L835.55,101.79 L834.5,102.01 L833.46,102.24 L832.41,102.56 L831.82,102.75 L831.36,102.93 L830.31,103.37 L829.26,103.86 L828.22,104.42 L827.84,104.64 L827.17,105.3 L826.12,106.46 L826.06,106.53 L825.24,108.41 L825.24,110.3 L825.82,112.19 L826.12,112.77 L826.77,114.07 L827.17,114.49 L828.22,115.5 L828.75,115.96 L829.26,116.25 L830.31,116.79 L831.36,117.28 L832.41,117.71 L832.78,117.85 L833.46,118.12 L834.5,118.42 L835.55,118.71 L836.6,118.97 L837.65,119.22 L838.7,119.45 L839.74,119.66 L840.1,119.73 L840.79,119.94 L841.84,120.29 L842.89,120.62 L843.94,120.92 L844.98,121.21 L846.03,121.47 Z" fill="#3869b6" fill-rule="evenodd" stroke="#000" stroke-width="0.6" stroke-opacity="0.9"/>
<path d="M832.24,138.6 L832.41,138.6 L833.46,138.6 L834.5,138.6 L835.55,138.6 L836.6,138.6 L837.65,138.6 L838.7,138.6 L839.74,138.6 L840.79,138.6 L841.84,138.6 L842.89,138.6 L843.94,138.6 L844.98,138.6 L846.03,138.6 L847.08,138.6 L848.13,138.6 L849.18,138.6 L850.22,138.6 L851.27,138.6 L852.32,138.6 L853.37,138.6 L854.42,138.6 L855.46,138.6 L856.51,138.6 L857.56,138.6 L858.61,138.6 L859.66,138.6 L860.7,138.6 L861.75,138.6 L862.8,138.6 L863.85,138.6 L864.9,138.6 L865.94,138.6 L866.99,138.6 L868.04,138.6 L869.09,138.6 L870.14,138.6 L871.18,138.6 L872.23,138.6 L873.28,138.6 L874.33,138.6 L875.38,138.6 L875.57,138.6 L875.38,137.73 L875.14,136.71 L874.33,135.89 L873.28,134.97 L873.11,134.83 L872.23,134.04 L871.18,133.17 L870.89,132.94 L871.18,132.78 L872.23,132.17 L873.28,131.5 L873.94,131.05 L874.33,130.98 L875.38,130.77 L876.42,130.51 L877.47,130.21 L878.52,129.85 L879.57,129.41 L880.07,129.17 L880.5,127.28 L879.57,126.8 L878.52,126.36 L877.47,126 L876.42,125.7 L875.38,125.44 L875.14,125.39 L874.33,125.23 L873.28,125.04 L872.23,124.88 L871.18,124.73 L870.14,124.59 L869.09,124.47 L868.04,124.37 L866.99,124.3 L865.94,124.23 L864.9,124.17 L863.85,124.11 L862.8,124.07 L861.75,124.06 L860.7,124.05 L859.66,124.04 L858.61,124.02 L857.56,124.01 L856.51,124.02 L855.46,124.04 L854.42,124.05 L853.37,124.07 L852.32,124.09 L851.27,124.13 L850.22,124.17 L849.18,124.22 L848.13,124.27 L847.08,124.32 L846.03,124.38 L844.98,124.44 L843.94,124.5 L842.89,124.57 L841.84,124.64 L840.79,124.72 L839.74,124.79 L838.7,124.87 L837.65,124.95 L836.6,125.03 L835.55,125.12 L834.5,125.22 L833.46,125.32 L832.9,125.39 L832.41,125.46 L831.36,125.63 L830.31,125.81 L829.26,126.01 L828.22,126.24 L827.17,126.51 L826.12,126.82 L825.07,127.14 L824.66,127.28 L825.07,128.41 L825.36,129.17 L826.12,129.39 L827.17,129.7 L828.22,129.97 L829.26,130.2 L830.31,130.4 L831.36,130.58 L832.41,130.75 L833.46,130.89 L834.5,131 L835.12,131.05 L835.55,131.21 L836.6,131.57 L837.65,131.9 L838.7,132.21 L839.74,132.51 L840.79,132.79 L841.28,132.94 L840.79,133.16 L839.74,133.56 L838.7,133.98 L837.65,134.42 L836.76,134.83 L836.6,134.89 L835.55,135.34 L834.5,135.82 L833.46,136.34 L832.9,136.71 L832.41,138.12 Z M856.29,119.73 L856.51,119.76 L857.56,119.81 L858.61,119.74 L858.71,119.73 L859.66,119.69 L860.7,119.64 L861.75,119.59 L862.8,119.54 L863.85,119.35 L864.9,119.09 L865.94,118.81 L866.99,118.51 L868.04,118.18 L868.85,117.85 L869.09,117.75 L870.14,117.28 L871.18,116.75 L872.23,116.14 L872.52,115.96 L873.28,115.26 L874.33,114.2 L874.44,114.07 L875.36,112.19 L875.38,112.13 L875.87,110.3 L875.87,108.41 L875.38,107.11 L875.14,106.53 L874.33,105.59 L873.39,104.64 L873.28,104.57 L872.23,103.97 L871.18,103.41 L870.14,102.93 L869.73,102.75 L869.09,102.52 L868.04,102.19 L866.99,101.94 L865.94,101.72 L864.9,101.51 L863.85,101.31 L862.8,101.17 L861.75,101.13 L860.7,101.09 L859.66,101.06 L858.61,101.02 L857.56,100.98 L856.51,101.01 L855.46,101.07 L854.42,101.12 L853.37,101.18 L852.32,101.23 L851.27,101.37 L850.22,101.52 L849.18,101.67 L848.13,101.83 L847.08,102.01 L846.03,102.19 L844.98,102.39 L843.94,102.61 L843.26,102.75 L842.89,102.85 L841.84,103.12 L840.79,103.41 L839.74,103.66 L838.7,103.93 L837.65,104.21 L836.6,104.52 L836.19,104.64 L835.55,104.96 L834.5,105.51 L833.46,106.1 L832.9,106.53 L832.41,107.33 L831.78,108.41 L831.78,110.3 L832.41,111.82 L832.57,112.19 L833.46,113.4 L834.12,114.07 L834.5,114.28 L835.55,114.83 L836.6,115.35 L837.65,115.82 L837.96,115.96 L838.7,116.18 L839.74,116.47 L840.79,116.75 L841.84,117.07 L842.89,117.37 L843.94,117.64 L844.75,117.85 L844.98,117.91 L846.03,118.18 L847.08,118.42 L848.13,118.65 L849.18,118.87 L850.22,119.08 L851.27,119.27 L852.32,119.45 L853.37,119.53 L854.42,119.6 L855.46,119.68 Z" fill="#2c8ccd" fill-rule="evenodd" stroke="#000" stroke-width="0.6" stroke-opacity="0.9"/>
<path d="M840.4,138.6 L840.79,138.6 L841.84,138.6 L842.89,138.6 L843.94,138.6 L844.98,138.6 L846.03,138.6 L847.08,138.6 L848.13,138.6 L849.18,138.6 L850.22,138.6 L851.27,138.6 L852.32,138.6 L853.37,138.6 L854.42,138.6 L855.46,138.6 L856.51,138.6 L857.56,138.6 L858.61,138.6 L859.66,138.6 L860.7,138.6 L861.75,138.6 L862.8,138.6 L863.85,138.6 L864.9,138.6 L865.94,138.6 L866.99,138.6 L868.04,138.6 L869.09,138.6 L870.14,138.6 L871.18,138.6 L871.36,138.6 L871.18,137.94 L870.84,136.71 L870.14,136.13 L869.09,135.34 L868.29,134.83 L868.04,134.66 L866.99,134.09 L865.94,133.57 L864.9,133.09 L864.55,132.94 L864.9,132.83 L865.94,132.5 L866.99,132.13 L868.04,131.74 L869.09,131.21 L869.36,131.05 L870.14,130.93 L871.18,130.76 L872.23,130.55 L873.28,130.33 L874.33,130.08 L875.38,129.79 L876.42,129.46 L877.2,129.17 L877.47,128.28 L877.76,127.28 L877.47,127.16 L876.42,126.75 L875.38,126.42 L874.33,126.13 L873.28,125.88 L872.23,125.66 L871.18,125.45 L870.84,125.39 L870.14,125.28 L869.09,125.12 L868.04,124.99 L866.99,124.89 L865.94,124.8 L864.9,124.71 L863.85,124.63 L862.8,124.58 L861.75,124.56 L860.7,124.55 L859.66,124.53 L858.61,124.52 L857.56,124.5 L856.51,124.51 L855.46,124.54 L854.42,124.56 L853.37,124.58 L852.32,124.6 L851.27,124.66 L850.22,124.72 L849.18,124.78 L848.13,124.84 L847.08,124.91 L846.03,124.99 L844.98,125.07 L843.94,125.15 L842.89,125.25 L841.84,125.35 L841.37,125.39 L840.79,125.45 L839.74,125.55 L838.7,125.64 L837.65,125.75 L836.6,125.86 L835.55,125.98 L834.5,126.11 L833.46,126.25 L832.41,126.44 L831.36,126.66 L830.31,126.9 L829.26,127.18 L828.9,127.28 L829.26,128.11 L829.75,129.17 L830.31,129.31 L831.36,129.55 L832.41,129.77 L833.46,129.96 L834.5,130.1 L835.55,130.23 L836.6,130.35 L837.65,130.46 L838.7,130.57 L839.74,130.66 L840.79,130.76 L841.84,130.86 L842.89,130.96 L843.9,131.05 L843.94,131.07 L844.98,131.41 L846.03,131.73 L847.08,132.03 L848.13,132.31 L849.18,132.57 L850.22,132.82 L850.77,132.94 L850.22,133.12 L849.18,133.47 L848.13,133.84 L847.08,134.24 L846.03,134.66 L845.65,134.83 L844.98,135.09 L843.94,135.52 L842.89,135.98 L841.84,136.48 L841.37,136.71 L840.79,137.9 Z M846.95,115.96 L847.08,116 L848.13,116.27 L849.18,116.53 L850.22,116.78 L851.27,117.01 L852.32,117.23 L853.37,117.33 L854.42,117.42 L855.46,117.5 L856.51,117.59 L857.56,117.63 L858.61,117.58 L859.66,117.52 L860.7,117.46 L861.75,117.4 L862.8,117.34 L863.85,117.11 L864.9,116.8 L865.94,116.46 L866.99,116.1 L867.37,115.96 L868.04,115.59 L869.09,114.84 L869.98,114.07 L870.14,113.83 L871.11,112.19 L871.18,111.96 L871.74,110.3 L871.74,108.41 L871.18,107.23 L870.84,106.53 L870.14,105.86 L869.09,104.95 L868.67,104.64 L868.04,104.36 L866.99,104 L865.94,103.67 L864.9,103.36 L863.85,103.08 L862.8,102.87 L861.75,102.82 L860.7,102.76 L860.52,102.75 L859.66,102.71 L858.61,102.66 L857.56,102.62 L856.51,102.65 L855.46,102.73 L855.06,102.75 L854.42,102.8 L853.37,102.88 L852.32,102.97 L851.27,103.17 L850.22,103.38 L849.18,103.6 L848.13,103.84 L847.08,104.09 L846.03,104.36 L845.04,104.64 L844.98,104.67 L843.94,105.16 L842.89,105.69 L841.84,106.26 L841.37,106.53 L840.79,107.21 L839.74,108.28 L839.62,108.41 L839.62,110.3 L839.74,110.48 L840.79,111.99 L840.91,112.19 L841.84,113.13 L842.83,114.07 L842.89,114.1 L843.94,114.63 L844.98,115.12 L846.03,115.59 Z" fill="#23a7b6" fill-rule="evenodd" stroke="#000" stroke-width="0.6" stroke-opacity="0.9"/>
<path d="M847.29,138.6 L848.13,138.6 L849.18,138.6 L850.22,138.6 L851.27,138.6 L852.32,138.6 L853.37,138.6 L854.42,138.6 L855.46,138.6 L856.51,138.6 L857.56,138.6 L858.61,138.6 L859.66,138.6 L860.7,138.6 L861.75,138.6 L862.8,138.6 L863.85,138.6 L864.9,138.6 L865.94,138.6 L866.99,138.6 L867.12,138.6 L866.99,138.32 L866.26,136.71 L865.94,136.55 L864.9,136.02 L863.85,135.53 L862.8,135.17 L861.75,135.08 L860.7,134.98 L859.66,134.89 L858.93,134.83 L858.61,134.79 L857.56,134.69 L856.51,134.77 L856.14,134.83 L855.46,134.91 L854.42,135.05 L853.37,135.19 L852.32,135.34 L851.27,135.68 L850.22,136.05 L849.18,136.43 L848.45,136.71 L848.13,137.22 Z M851.71,131.05 L852.32,131.21 L853.37,131.33 L854.42,131.44 L855.46,131.55 L856.51,131.66 L857.56,131.71 L858.61,131.64 L859.66,131.57 L860.7,131.49 L861.75,131.42 L862.8,131.34 L863.85,131.06 L863.85,131.05 L864.9,130.96 L865.94,130.85 L866.99,130.74 L868.04,130.61 L869.09,130.45 L870.14,130.25 L871.18,130.03 L872.23,129.77 L873.28,129.49 L874.33,129.18 L874.38,129.17 L875.08,127.28 L874.33,127.03 L873.28,126.72 L872.23,126.44 L871.18,126.18 L870.14,125.96 L869.09,125.76 L868.04,125.6 L866.99,125.47 L866.26,125.39 L865.94,125.36 L864.9,125.25 L863.85,125.16 L862.8,125.09 L861.75,125.07 L860.7,125.05 L859.66,125.03 L858.61,125.01 L857.56,124.99 L856.51,125.01 L855.46,125.03 L854.42,125.06 L853.37,125.09 L852.32,125.12 L851.27,125.19 L850.22,125.26 L849.18,125.34 L848.45,125.39 L848.13,125.42 L847.08,125.51 L846.03,125.6 L844.98,125.7 L843.94,125.81 L842.89,125.92 L841.84,126.05 L840.79,126.18 L839.74,126.3 L838.7,126.42 L837.65,126.55 L836.6,126.69 L835.55,126.84 L834.5,127 L833.46,127.18 L833,127.28 L833.46,128.09 L834.26,129.17 L834.5,129.21 L835.55,129.37 L836.6,129.52 L837.65,129.66 L838.7,129.79 L839.74,129.91 L840.79,130.03 L841.84,130.16 L842.89,130.29 L843.94,130.4 L844.98,130.51 L846.03,130.61 L847.08,130.71 L848.13,130.79 L849.18,130.87 L850.22,130.95 L851.27,131.02 Z M850.34,114.07 L851.27,114.44 L852.32,114.84 L853.37,115 L854.42,115.16 L855.46,115.32 L856.51,115.48 L857.56,115.56 L858.61,115.45 L859.66,115.35 L860.7,115.24 L861.75,115.13 L862.8,115.02 L863.85,114.62 L864.87,114.07 L864.9,114.05 L865.94,112.99 L866.7,112.19 L866.99,111.66 L867.72,110.3 L867.72,108.41 L866.99,107.44 L866.26,106.53 L865.94,106.34 L864.9,105.73 L863.85,105.18 L862.8,104.77 L861.75,104.66 L861.59,104.64 L860.7,104.58 L859.66,104.51 L858.61,104.45 L857.56,104.38 L856.51,104.43 L855.46,104.53 L854.42,104.63 L854.33,104.64 L853.37,104.79 L852.32,104.95 L851.27,105.35 L850.22,105.76 L849.18,106.21 L848.45,106.53 L848.13,106.82 L847.08,107.81 L846.48,108.41 L846.48,110.3 L847.08,111.15 L847.86,112.19 L848.13,112.4 L849.18,113.22 L850.22,113.99 Z" fill="#3eb890" fill-rule="evenodd" stroke="#000" stroke-width="0.6" stroke-opacity="0.9"/>
<path d="M857.19,138.6 L857.56,138.6 L857.85,138.6 L857.56,138.48 Z M839.8,129.17 L840.79,129.3 L841.84,129.46 L842.89,129.61 L843.94,129.75 L844.98,129.88 L846.03,130 L847.08,130.11 L848.13,130.22 L849.18,130.31 L850.22,130.41 L851.27,130.5 L852.32,130.58 L853.37,130.61 L854.42,130.65 L855.46,130.68 L856.51,130.71 L857.56,130.73 L858.61,130.71 L859.66,130.69 L860.7,130.66 L861.75,130.64 L862.8,130.62 L863.85,130.53 L864.9,130.41 L865.94,130.29 L866.99,130.15 L868.04,130 L869.09,129.8 L870.14,129.57 L871.18,129.3 L871.65,129.17 L872.23,127.76 L872.43,127.28 L872.23,127.22 L871.18,126.91 L870.14,126.64 L869.09,126.41 L868.04,126.21 L866.99,126.06 L865.94,125.92 L864.9,125.8 L863.85,125.68 L862.8,125.59 L861.75,125.57 L860.7,125.55 L859.66,125.53 L858.61,125.5 L857.56,125.48 L856.51,125.5 L855.46,125.53 L854.42,125.56 L853.37,125.6 L852.32,125.63 L851.27,125.72 L850.22,125.8 L849.18,125.9 L848.13,125.99 L847.08,126.1 L846.03,126.21 L844.98,126.33 L843.94,126.46 L842.89,126.6 L841.84,126.75 L840.79,126.91 L839.74,127.05 L838.7,127.2 L838.15,127.28 L838.7,127.92 L839.74,129.1 Z M854.6,110.3 L855.46,110.74 L856.51,111.25 L857.56,111.53 L858.61,111.18 L859.66,110.83 L860.7,110.47 L861.2,110.3 L861.2,108.41 L860.7,108.29 L859.66,108.04 L858.61,107.78 L857.56,107.54 L856.51,107.73 L855.46,108.1 L854.6,108.41 Z" fill="#7dc05c" fill-rule="evenodd" stroke="#000" stroke-width="0.6" stroke-opacity="0.9"/>
<path d="M844.42,129.17 L844.98,129.25 L846.03,129.39 L847.08,129.52 L848.13,129.64 L849.18,129.76 L850.22,129.86 L851.27,129.97 L852.32,130.06 L853.37,130.1 L854.42,130.14 L855.46,130.18 L856.51,130.22 L857.56,130.24 L858.61,130.21 L859.66,130.19 L860.7,130.16 L861.75,130.14 L862.8,130.11 L863.85,130.01 L864.9,129.87 L865.94,129.72 L866.99,129.56 L868.04,129.39 L869.06,129.17 L869.09,129.11 L869.96,127.28 L869.09,127.05 L868.04,126.82 L866.99,126.65 L865.94,126.49 L864.9,126.34 L863.85,126.2 L862.8,126.1 L861.75,126.07 L860.7,126.05 L859.66,126.02 L858.61,126 L857.56,125.97 L856.51,125.99 L855.46,126.03 L854.42,126.07 L853.37,126.11 L852.32,126.15 L851.27,126.24 L850.22,126.35 L849.18,126.45 L848.13,126.57 L847.08,126.69 L846.03,126.82 L844.98,126.96 L843.94,127.12 L842.89,127.28 L842.87,127.28 L842.89,127.3 L843.94,128.6 Z" fill="#debb3a" fill-rule="evenodd" stroke="#000" stroke-width="0.6" stroke-opacity="0.9"/>
<path d="M848.93,129.17 L849.18,129.2 L850.22,129.32 L851.27,129.44 L852.32,129.55 L853.37,129.6 L854.42,129.64 L855.46,129.68 L856.51,129.73 L857.56,129.75 L858.61,129.72 L859.66,129.69 L860.7,129.66 L861.75,129.63 L862.8,129.6 L863.85,129.49 L864.9,129.33 L865.91,129.17 L865.94,129.12 L866.99,127.66 L867.25,127.28 L866.99,127.23 L865.94,127.05 L864.9,126.88 L863.85,126.72 L862.8,126.61 L861.75,126.58 L860.7,126.55 L859.66,126.52 L858.61,126.49 L857.56,126.46 L856.51,126.48 L855.46,126.53 L854.42,126.57 L853.37,126.62 L852.32,126.66 L851.27,126.77 L850.22,126.89 L849.18,127.01 L848.13,127.14 L847.11,127.28 L848.13,128.36 Z" fill="#f3ca34" fill-rule="evenodd" stroke="#000" stroke-width="0.6" stroke-opacity="0.9"/>
<path d="M855.03,129.17 L855.46,129.19 L856.51,129.24 L857.56,129.26 L858.61,129.23 L859.66,129.2 L860.55,129.17 L860.7,129.13 L861.75,128.86 L862.8,128.58 L863.85,127.54 L864.05,127.28 L863.85,127.25 L862.8,127.12 L861.75,127.08 L860.7,127.05 L859.66,127.02 L858.61,126.98 L857.56,126.95 L856.51,126.98 L855.46,127.02 L854.42,127.07 L853.37,127.12 L852.32,127.18 L851.45,127.28 L852.32,128.11 L853.37,128.52 L854.42,128.93 Z" fill="#f5eb28" fill-rule="evenodd" stroke="#000" stroke-width="0.6" stroke-opacity="0.9"/>
</g>
<line x1="810.1" y1="25.4" x2="993.8" y2="25.4" stroke="#000" stroke-width="0.9"/>
<line x1="810.4" y1="25.4" x2="810.4" y2="138.6" stroke="#777" stroke-width="0.5"/>
<line x1="836.6" y1="25.4" x2="836.6" y2="27" stroke="#000" stroke-width="0.6"/>
<line x1="836.6" y1="138.6" x2="836.6" y2="137" stroke="#000" stroke-width="0.6"/>
<line x1="889" y1="25.4" x2="889" y2="27" stroke="#000" stroke-width="0.6"/>
<line x1="889" y1="138.6" x2="889" y2="137" stroke="#000" stroke-width="0.6"/>
<line x1="941.4" y1="25.4" x2="941.4" y2="27" stroke="#000" stroke-width="0.6"/>
<line x1="941.4" y1="138.6" x2="941.4" y2="137" stroke="#000" stroke-width="0.6"/>
<line x1="810.4" y1="100.87" x2="812" y2="100.87" stroke="#000" stroke-width="0.6"/>
<line x1="993.8" y1="100.87" x2="992.2" y2="100.87" stroke="#000" stroke-width="0.6"/>
<line x1="810.4" y1="63.13" x2="812" y2="63.13" stroke="#000" stroke-width="0.6"/>
<line x1="993.8" y1="63.13" x2="992.2" y2="63.13" stroke="#000" stroke-width="0.6"/>
<g font-family='"Liberation Serif", serif' font-weight="bold" font-size="12.8" fill="#111">
<text x="836.6" y="154.5" text-anchor="middle">300</text>
<text x="889" y="154.5" text-anchor="middle">400</text>
<text x="941.4" y="154.5" text-anchor="middle">500</text>
<text x="993.8" y="154.5" text-anchor="middle">600</text>
<text x="805.2" y="143.3" text-anchor="end">200</text>
<text x="805.2" y="105.57" text-anchor="end">300</text>
<text x="805.2" y="67.83" text-anchor="end">400</text>
<text x="805.2" y="30.1" text-anchor="end">500</text>
<text x="902.1" y="171" text-anchor="middle" font-size="14">Em. (nm)</text>
<text transform="translate(783.4,82) rotate(-90)" text-anchor="middle" font-size="14">Ex. (nm)</text>
<text x="829.6" y="50" font-size="14">C4</text>
</g>
</g>
<g>
<clipPath id="ccb1"><polygon points="64.6,461.73 195.6,367.4 248,367.4 248,480.6 64.6,480.6"/></clipPath>
<polygon points="64.6,461.73 195.6,367.4 248,367.4 248,480.6 64.6,480.6" fill="#362c8c"/>
<g clip-path="url(#ccb1)">
<path d="M129.57,476.83 L129.58,476.83 L130.62,476.96 L131.67,477.05 L132.72,477.13 L133.77,477.2 L134.82,477.27 L135.86,477.33 L136.91,477.39 L137.96,477.41 L139.01,477.43 L140.06,477.45 L141.1,477.47 L142.15,477.49 L143.2,477.48 L144.25,477.46 L145.3,477.43 L146.34,477.4 L147.39,477.38 L148.44,477.35 L149.49,477.32 L150.54,477.28 L151.58,477.22 L152.63,477.15 L153.68,477.09 L154.73,477.02 L155.78,476.94 L156.82,476.87 L157.38,476.83 L157.87,476.79 L158.92,476.7 L159.97,476.59 L161.02,476.48 L162.06,476.35 L163.11,476.22 L164.16,476.07 L165.21,475.91 L166.26,475.74 L167.3,475.55 L168.35,475.25 L169.29,474.94 L169.4,474.9 L170.45,474.43 L171.5,473.88 L172.54,473.22 L172.78,473.05 L173.59,472.36 L174.64,471.26 L174.73,471.17 L175.69,469.48 L175.79,469.28 L175.88,467.39 L175.72,465.51 L175.69,465.46 L174.64,463.92 L174.42,463.62 L173.59,462.93 L172.54,462.21 L171.69,461.73 L171.5,461.62 L170.45,461.05 L169.4,460.57 L168.35,460.15 L167.44,459.85 L167.3,459.79 L166.26,459.49 L165.21,459.22 L164.16,458.97 L163.11,458.74 L162.06,458.53 L161.02,458.33 L159.97,458.15 L158.92,457.97 L158.81,457.96 L157.87,457.73 L156.82,457.5 L155.78,457.29 L154.73,457.08 L153.68,456.89 L152.63,456.7 L151.58,456.52 L150.54,456.35 L149.49,456.22 L148.44,456.14 L147.51,456.07 L147.39,456.06 L146.34,455.97 L145.3,455.87 L144.25,455.78 L143.2,455.69 L142.15,455.67 L141.1,455.74 L140.06,455.81 L139.01,455.88 L137.96,455.95 L136.91,456.02 L136.62,456.07 L135.86,456.19 L134.82,456.37 L133.77,456.57 L132.72,456.77 L131.67,456.98 L130.62,457.25 L129.58,457.62 L128.69,457.96 L128.53,457.99 L127.48,458.23 L126.43,458.49 L125.38,458.78 L124.34,459.11 L123.29,459.49 L122.46,459.85 L122.24,459.92 L121.19,460.32 L120.14,460.78 L119.1,461.34 L118.44,461.73 L118.05,461.96 L117,462.65 L115.95,463.33 L115.35,463.62 L114.9,463.97 L113.86,464.88 L113.21,465.51 L112.95,467.39 L113.09,469.28 L113.86,470.17 L114.82,471.17 L114.9,471.22 L115.95,471.87 L117,472.7 L117.41,473.05 L118.05,473.51 L119.1,474.15 L120.14,474.68 L120.72,474.94 L121.19,475.11 L122.24,475.45 L123.29,475.74 L124.34,475.99 L125.38,476.19 L126.43,476.37 L127.48,476.54 L128.53,476.69 Z" fill="#3572bc" fill-rule="evenodd" stroke="#000" stroke-width="0.6" stroke-opacity="0.9"/>
<path d="M134.03,474.94 L134.82,475.03 L135.86,475.15 L136.91,475.25 L137.96,475.29 L139.01,475.32 L140.06,475.36 L141.1,475.39 L142.15,475.43 L143.2,475.42 L144.25,475.37 L145.3,475.32 L146.34,475.28 L147.39,475.23 L148.44,475.18 L149.49,475.13 L150.54,475.04 L151.55,474.94 L151.58,474.94 L152.63,474.81 L153.68,474.68 L154.73,474.54 L155.78,474.39 L156.82,474.23 L157.87,474.07 L158.92,473.89 L159.97,473.66 L161.02,473.41 L162.06,473.15 L162.42,473.05 L163.11,472.85 L164.16,472.51 L165.21,472.15 L166.26,471.76 L167.3,471.32 L167.56,471.17 L168.35,470.41 L169.38,469.28 L169.4,469 L169.53,467.39 L169.4,466.5 L169.25,465.51 L168.35,464.68 L167.3,463.84 L166.87,463.62 L166.26,463.42 L165.21,463.1 L164.16,462.8 L163.11,462.53 L162.06,462.28 L161.02,462.05 L159.97,461.83 L159.47,461.73 L158.92,461.61 L157.87,461.42 L156.82,461.25 L155.78,461.09 L154.73,460.94 L153.68,460.79 L152.63,460.65 L151.58,460.52 L150.54,460.4 L149.49,460.3 L148.44,460.24 L147.39,460.18 L146.34,460.13 L145.3,460.07 L144.25,460.02 L143.2,459.96 L142.15,459.95 L141.1,459.99 L140.06,460.03 L139.01,460.07 L137.96,460.11 L136.91,460.16 L135.86,460.28 L134.82,460.41 L133.77,460.56 L132.72,460.71 L131.67,460.86 L130.62,461.06 L129.58,461.34 L128.53,461.64 L128.21,461.73 L127.48,461.93 L126.43,462.24 L125.38,462.58 L124.34,462.96 L123.29,463.41 L122.87,463.62 L122.24,464.13 L121.19,465.07 L120.75,465.51 L120.49,467.39 L120.64,469.28 L121.19,469.94 L122.24,471.06 L122.35,471.17 L123.29,471.76 L124.34,472.32 L125.38,472.78 L126.04,473.05 L126.43,473.19 L127.48,473.54 L128.53,473.86 L129.58,474.15 L130.62,474.42 L131.67,474.61 L132.72,474.76 L133.77,474.91 Z" fill="#1eb4aa" fill-rule="evenodd" stroke="#000" stroke-width="0.6" stroke-opacity="0.9"/>
<path d="M137.53,473.05 L137.96,473.08 L139.01,473.14 L140.06,473.19 L141.1,473.25 L142.15,473.3 L143.2,473.29 L144.25,473.21 L145.3,473.14 L146.34,473.06 L146.44,473.05 L147.39,472.98 L148.44,472.89 L149.49,472.8 L150.54,472.65 L151.58,472.46 L152.63,472.26 L153.68,472.06 L154.73,471.84 L155.78,471.61 L156.82,471.37 L157.65,471.17 L157.87,471.09 L158.92,470.67 L159.97,470.16 L161.02,469.61 L161.6,469.28 L161.92,467.39 L161.35,465.51 L161.02,465.35 L159.97,464.89 L158.92,464.45 L157.87,464.1 L156.82,463.8 L156.2,463.62 L155.78,463.54 L154.73,463.35 L153.68,463.18 L152.63,463.01 L151.58,462.84 L150.54,462.69 L149.49,462.57 L148.44,462.5 L147.39,462.43 L146.34,462.36 L145.3,462.29 L144.25,462.22 L143.2,462.16 L142.15,462.14 L141.1,462.19 L140.06,462.24 L139.01,462.29 L137.96,462.34 L136.91,462.39 L135.86,462.54 L134.82,462.71 L133.77,462.88 L132.72,463.07 L131.67,463.26 L130.62,463.51 L130.26,463.62 L129.58,463.95 L128.53,464.5 L127.48,465.1 L126.83,465.51 L126.43,467.31 L126.41,467.39 L126.43,467.55 L126.65,469.28 L127.48,469.9 L128.53,470.61 L129.41,471.17 L129.58,471.24 L130.62,471.65 L131.67,471.95 L132.72,472.19 L133.77,472.41 L134.82,472.63 L135.86,472.84 L136.91,473.02 Z" fill="#d4bc3a" fill-rule="evenodd" stroke="#000" stroke-width="0.6" stroke-opacity="0.9"/>
<path d="M138.75,471.17 L139.01,471.19 L140.06,471.26 L141.1,471.34 L142.15,471.41 L143.2,471.39 L144.25,471.29 L145.3,471.19 L145.52,471.17 L146.34,471.05 L147.39,470.9 L148.44,470.74 L149.49,470.58 L150.54,470.32 L151.58,469.98 L152.63,469.62 L153.58,469.28 L153.68,468.91 L154.08,467.39 L153.68,466.54 L153.19,465.51 L152.63,465.34 L151.58,465.04 L150.54,464.75 L149.49,464.53 L148.44,464.4 L147.39,464.26 L146.34,464.14 L145.3,464.01 L144.25,463.89 L143.2,463.77 L142.15,463.74 L141.1,463.83 L140.06,463.92 L139.01,464.01 L137.96,464.11 L136.91,464.2 L135.86,464.48 L134.82,464.79 L133.77,465.11 L132.72,465.46 L132.58,465.51 L131.79,467.39 L132.22,469.28 L132.72,469.48 L133.77,469.89 L134.82,470.28 L135.86,470.64 L136.91,470.97 L137.96,471.08 Z" fill="#f5eb28" fill-rule="evenodd" stroke="#000" stroke-width="0.6" stroke-opacity="0.9"/>
</g>
<line x1="64.3" y1="367.4" x2="248" y2="367.4" stroke="#000" stroke-width="0.9"/>
<line x1="64.6" y1="367.4" x2="64.6" y2="480.6" stroke="#777" stroke-width="0.5"/>
<line x1="90.8" y1="367.4" x2="90.8" y2="369" stroke="#000" stroke-width="0.6"/>
<line x1="90.8" y1="480.6" x2="90.8" y2="479" stroke="#000" stroke-width="0.6"/>
<line x1="143.2" y1="367.4" x2="143.2" y2="369" stroke="#000" stroke-width="0.6"/>
<line x1="143.2" y1="480.6" x2="143.2" y2="479" stroke="#000" stroke-width="0.6"/>
<line x1="195.6" y1="367.4" x2="195.6" y2="369" stroke="#000" stroke-width="0.6"/>
<line x1="195.6" y1="480.6" x2="195.6" y2="479" stroke="#000" stroke-width="0.6"/>
<line x1="64.6" y1="442.87" x2="66.2" y2="442.87" stroke="#000" stroke-width="0.6"/>
<line x1="248" y1="442.87" x2="246.4" y2="442.87" stroke="#000" stroke-width="0.6"/>
<line x1="64.6" y1="405.13" x2="66.2" y2="405.13" stroke="#000" stroke-width="0.6"/>
<line x1="248" y1="405.13" x2="246.4" y2="405.13" stroke="#000" stroke-width="0.6"/>
<g font-family='"Liberation Serif", serif' font-weight="bold" font-size="12.8" fill="#111">
<text x="90.8" y="496.5" text-anchor="middle">300</text>
<text x="143.2" y="496.5" text-anchor="middle">400</text>
<text x="195.6" y="496.5" text-anchor="middle">500</text>
<text x="248" y="496.5" text-anchor="middle">600</text>
<text x="60" y="485.3" text-anchor="end">200</text>
<text x="60" y="447.57" text-anchor="end">300</text>
<text x="60" y="409.83" text-anchor="end">400</text>
<text x="60" y="372.1" text-anchor="end">500</text>
<text x="156.3" y="513" text-anchor="middle" font-size="14">Em. (nm)</text>
<text transform="translate(37.6,424) rotate(-90)" text-anchor="middle" font-size="14">Ex. (nm)</text>
<text x="83.8" y="392.8" font-size="14">C1</text>
</g>
</g>
<g>
<clipPath id="ccb2"><polygon points="312.6,461.73 443.6,367.4 496,367.4 496,480.6 312.6,480.6"/></clipPath>
<polygon points="312.6,461.73 443.6,367.4 496,367.4 496,480.6 312.6,480.6" fill="#362c8c"/>
<g clip-path="url(#ccb2)">
<path d="M378.29,476.83 L378.62,476.88 L379.67,476.96 L380.72,477.02 L381.77,477.07 L382.82,477.12 L383.86,477.17 L384.91,477.22 L385.96,477.27 L387.01,477.26 L388.06,477.23 L389.1,477.2 L390.15,477.17 L391.2,477.14 L392.25,477.09 L393.3,476.98 L394.34,476.86 L394.61,476.83 L394.34,476.8 L393.3,476.68 L392.25,476.56 L391.2,476.52 L390.15,476.49 L389.1,476.46 L388.06,476.43 L387.01,476.4 L385.96,476.39 L384.91,476.43 L383.86,476.48 L382.82,476.53 L381.77,476.58 L380.72,476.64 L379.67,476.69 L378.62,476.78 Z M375.38,467.39 L375.48,467.41 L376.53,467.62 L377.58,467.81 L378.62,468 L379.67,468.09 L380.72,468.15 L381.77,468.21 L382.82,468.27 L383.86,468.32 L384.91,468.37 L385.96,468.43 L387.01,468.42 L388.06,468.39 L389.1,468.35 L390.15,468.32 L391.2,468.28 L392.25,468.23 L393.3,468.11 L394.34,467.97 L395.39,467.83 L396.44,467.69 L397.49,467.53 L398.23,467.39 L398.54,467.24 L399.58,466.65 L400.63,466 L401.39,465.51 L400.63,465.11 L399.58,464.6 L398.54,464.12 L397.49,463.71 L397.19,463.62 L396.44,463.44 L395.39,463.19 L394.34,462.96 L393.3,462.74 L392.25,462.53 L391.2,462.45 L390.15,462.39 L389.1,462.33 L388.06,462.28 L387.01,462.22 L385.96,462.21 L384.91,462.3 L383.86,462.38 L382.82,462.48 L381.77,462.57 L380.72,462.66 L379.67,462.76 L378.62,462.92 L377.58,463.22 L376.53,463.54 L376.29,463.62 L375.48,463.95 L374.43,464.42 L373.38,464.92 L372.48,465.51 L373.38,466.24 L374.43,466.87 Z M372.67,459.85 L373.38,460.06 L374.43,460.29 L375.48,460.5 L376.53,460.7 L377.58,460.88 L378.62,461.05 L379.67,461.14 L380.72,461.2 L381.77,461.25 L382.82,461.31 L383.86,461.36 L384.91,461.41 L385.96,461.46 L387.01,461.45 L388.06,461.42 L389.1,461.39 L390.15,461.36 L391.2,461.33 L392.25,461.28 L393.3,461.16 L394.34,461.03 L395.39,460.9 L396.44,460.76 L397.49,460.61 L398.54,460.42 L399.58,460.21 L400.63,459.97 L401.15,459.85 L401.68,459.78 L402.73,459.64 L403.78,459.49 L404.82,459.31 L405.87,459.11 L406.92,458.88 L407.97,458.63 L409.02,458.35 L410.06,458.03 L410.27,457.96 L411.11,457.73 L412.16,457.48 L413.21,457.19 L414.26,456.87 L415.3,456.5 L416.35,456.08 L416.36,456.07 L417.4,455.58 L418.45,455.02 L419.5,454.55 L420.2,454.19 L420.54,454 L421.59,453.37 L422.64,452.62 L423.05,452.3 L423.69,451.67 L424.74,450.47 L424.78,450.41 L425.78,448.88 L425.99,448.53 L426.63,446.64 L426.83,445.83 L427.28,444.75 L427.67,442.87 L427.68,440.98 L427.51,439.09 L426.83,437.86 L426.62,437.21 L425.78,435.42 L425.73,435.32 L424.74,434.07 L424.14,433.43 L423.69,433 L422.64,432.11 L421.86,431.55 L421.59,431.37 L420.54,430.74 L419.5,430.19 L418.45,429.72 L418.35,429.66 L417.4,429.06 L416.35,428.46 L415.3,427.95 L414.91,427.77 L414.26,427.48 L413.21,427.05 L412.16,426.67 L411.11,426.34 L410.06,425.96 L409.86,425.89 L409.02,425.54 L407.97,425.15 L406.92,424.81 L405.87,424.51 L404.82,424.24 L403.81,424 L403.78,423.99 L402.73,423.72 L401.68,423.47 L400.63,423.24 L399.58,423.02 L398.54,422.83 L397.49,422.66 L396.44,422.53 L395.39,422.4 L394.34,422.28 L393.3,422.17 L392.77,422.11 L392.25,422.05 L391.2,422 L390.15,421.97 L389.1,421.93 L388.06,421.9 L387.01,421.86 L385.96,421.86 L384.91,421.91 L383.86,421.96 L382.82,422.02 L381.77,422.08 L381.09,422.11 L380.72,422.13 L379.67,422.18 L378.62,422.26 L377.58,422.42 L376.53,422.58 L375.48,422.76 L374.43,422.95 L373.38,423.16 L372.34,423.44 L371.29,423.78 L370.65,424 L370.24,424.12 L369.19,424.45 L368.14,424.82 L367.1,425.24 L366.05,425.7 L365.67,425.89 L365,426.16 L363.95,426.66 L362.9,427.25 L362.12,427.77 L361.86,427.95 L360.81,428.58 L359.76,429.23 L359.15,429.66 L358.71,429.95 L357.66,430.74 L356.79,431.55 L356.62,431.73 L355.57,432.95 L355.11,433.43 L354.52,434.13 L353.67,435.32 L353.47,435.74 L352.86,437.21 L352.42,438.72 L352.32,439.09 L352.24,440.98 L352.25,442.87 L352.42,444.6 L352.44,444.75 L352.85,446.64 L353.43,448.53 L353.47,448.6 L354.52,450.39 L354.54,450.41 L355.57,451.72 L355.98,452.3 L356.62,453.01 L357.66,454 L357.89,454.19 L358.71,454.79 L359.76,455.44 L360.81,455.98 L360.98,456.07 L361.86,456.5 L362.9,457.04 L363.95,457.49 L365,457.86 L365.32,457.96 L366.05,458.23 L367.1,458.56 L368.14,458.88 L369.19,459.15 L370.24,459.39 L371.29,459.61 L372.34,459.79 Z" fill="#3b469e" fill-rule="evenodd" stroke="#000" stroke-width="0.6" stroke-opacity="0.9"/>
<path d="M375.03,457.96 L375.48,458.04 L376.53,458.22 L377.58,458.38 L378.62,458.53 L379.67,458.61 L380.72,458.66 L381.77,458.71 L382.82,458.76 L383.86,458.81 L384.91,458.85 L385.96,458.9 L387.01,458.89 L388.06,458.86 L389.1,458.83 L390.15,458.81 L391.2,458.78 L392.25,458.73 L393.3,458.63 L394.34,458.51 L395.39,458.4 L396.44,458.27 L397.49,458.14 L398.54,457.97 L398.61,457.96 L399.58,457.82 L400.63,457.65 L401.68,457.47 L402.73,457.27 L403.78,457.06 L404.82,456.8 L405.87,456.52 L406.92,456.21 L407.35,456.07 L407.97,455.86 L409.02,455.46 L410.06,455.01 L411.11,454.5 L411.88,454.19 L412.16,454.06 L413.21,453.56 L414.26,452.99 L415.3,452.34 L415.37,452.3 L416.35,451.5 L417.4,450.51 L417.5,450.41 L418.45,449.33 L419.29,448.53 L419.5,448.21 L420.43,446.64 L420.54,446.38 L421.23,444.75 L421.59,442.93 L421.6,442.87 L421.62,440.98 L421.59,440.68 L421.45,439.09 L420.54,437.45 L420.4,437.21 L419.5,436.06 L418.84,435.32 L418.45,435.02 L417.4,434.03 L416.71,433.43 L416.35,433.15 L415.3,432.39 L414.26,431.74 L413.91,431.55 L413.21,431.18 L412.16,430.68 L411.11,430.23 L410.06,429.73 L409.92,429.66 L409.02,429.2 L407.97,428.72 L406.92,428.3 L405.87,427.93 L405.41,427.77 L404.82,427.57 L403.78,427.23 L402.73,426.94 L401.68,426.68 L400.63,426.44 L399.58,426.22 L398.54,426.01 L397.79,425.89 L397.49,425.82 L396.44,425.64 L395.39,425.47 L394.34,425.31 L393.3,425.16 L392.25,425.01 L391.2,424.96 L390.15,424.92 L389.1,424.88 L388.06,424.84 L387.01,424.8 L385.96,424.79 L384.91,424.85 L383.86,424.91 L382.82,424.98 L381.77,425.04 L380.72,425.11 L379.67,425.18 L378.62,425.29 L377.58,425.5 L376.53,425.72 L375.78,425.89 L375.48,425.94 L374.43,426.14 L373.38,426.36 L372.34,426.66 L371.29,427.01 L370.24,427.4 L369.37,427.77 L369.19,427.85 L368.14,428.31 L367.1,428.84 L366.05,429.4 L365.62,429.66 L365,430 L363.95,430.65 L362.9,431.44 L362.78,431.55 L361.86,432.4 L360.81,433.32 L360.68,433.43 L359.76,434.28 L358.8,435.32 L358.71,435.46 L357.76,437.21 L357.66,437.45 L357.06,439.09 L356.95,440.98 L356.96,442.87 L357.21,444.75 L357.66,446.38 L357.74,446.64 L358.5,448.53 L358.71,448.84 L359.76,450.22 L359.93,450.41 L360.81,451.3 L361.81,452.3 L361.86,452.34 L362.9,453.3 L363.95,454.08 L364.11,454.19 L365,454.74 L366.05,455.29 L367.1,455.77 L367.82,456.07 L368.14,456.2 L369.19,456.59 L370.24,456.93 L371.29,457.22 L372.34,457.49 L373.38,457.71 L374.43,457.87 Z" fill="#3a62b1" fill-rule="evenodd" stroke="#000" stroke-width="0.6" stroke-opacity="0.9"/>
<path d="M374.24,456.07 L374.43,456.12 L375.48,456.33 L376.53,456.53 L377.58,456.72 L378.62,456.89 L379.67,456.98 L380.72,457.04 L381.77,457.1 L382.82,457.15 L383.86,457.2 L384.91,457.26 L385.96,457.31 L387.01,457.3 L388.06,457.27 L389.1,457.23 L390.15,457.2 L391.2,457.17 L392.25,457.12 L393.3,457 L394.34,456.87 L395.39,456.73 L396.44,456.59 L397.49,456.44 L398.54,456.25 L399.4,456.07 L399.58,456.03 L400.63,455.79 L401.68,455.53 L402.73,455.25 L403.78,454.94 L404.82,454.58 L405.85,454.19 L405.87,454.18 L406.92,453.73 L407.97,453.23 L409.02,452.66 L409.61,452.3 L410.06,451.97 L411.11,451.16 L412.16,450.44 L412.2,450.41 L413.21,449.58 L414.26,448.6 L414.33,448.53 L415.3,446.92 L415.46,446.64 L416.26,444.75 L416.35,444.29 L416.63,442.87 L416.65,440.98 L416.48,439.09 L416.35,438.84 L415.44,437.21 L415.3,437.03 L414.26,435.74 L413.88,435.32 L413.21,434.81 L412.16,434.09 L411.11,433.46 L411.08,433.43 L410.06,432.73 L409.02,432.08 L408.04,431.55 L407.97,431.51 L406.92,431.01 L405.87,430.56 L404.82,430.16 L403.78,429.8 L403.33,429.66 L402.73,429.45 L401.68,429.11 L400.63,428.8 L399.58,428.51 L398.54,428.25 L397.49,428.02 L396.44,427.84 L396.03,427.77 L395.39,427.66 L394.34,427.48 L393.3,427.31 L392.25,427.15 L391.2,427.08 L390.15,427.04 L389.1,427 L388.06,426.95 L387.01,426.91 L385.96,426.9 L384.91,426.97 L383.86,427.04 L382.82,427.11 L381.77,427.18 L380.72,427.25 L379.67,427.33 L378.62,427.45 L377.58,427.68 L377.19,427.77 L376.53,427.92 L375.48,428.16 L374.43,428.41 L373.38,428.69 L372.34,429.08 L371.29,429.53 L371.01,429.66 L370.24,429.98 L369.19,430.46 L368.14,431.02 L367.25,431.55 L367.1,431.65 L366.05,432.33 L365,433.12 L364.63,433.43 L363.95,434.06 L362.9,435.19 L362.79,435.32 L361.86,437.04 L361.76,437.21 L360.88,439.09 L360.81,440.15 L360.74,440.98 L360.75,442.87 L360.81,443.17 L361.07,444.75 L361.73,446.64 L361.86,446.9 L362.5,448.53 L362.9,449.13 L363.9,450.41 L363.95,450.47 L365,451.53 L365.89,452.3 L366.05,452.41 L367.1,453.09 L368.14,453.72 L369.02,454.19 L369.19,454.27 L370.24,454.76 L371.29,455.18 L372.34,455.56 L373.38,455.88 Z" fill="#3082c6" fill-rule="evenodd" stroke="#000" stroke-width="0.6" stroke-opacity="0.9"/>
<path d="M373.83,454.19 L374.43,454.36 L375.48,454.64 L376.53,454.9 L377.58,455.14 L378.62,455.37 L379.67,455.49 L380.72,455.56 L381.77,455.63 L382.82,455.71 L383.86,455.77 L384.91,455.84 L385.96,455.91 L387.01,455.9 L388.06,455.86 L389.1,455.81 L390.15,455.77 L391.2,455.73 L392.25,455.67 L393.3,455.51 L394.34,455.34 L395.39,455.16 L396.44,454.98 L397.49,454.78 L398.54,454.54 L399.58,454.25 L399.8,454.19 L400.63,453.94 L401.68,453.6 L402.73,453.23 L403.78,452.83 L404.82,452.36 L404.94,452.3 L405.87,451.78 L406.92,451.12 L407.92,450.41 L407.97,450.38 L409.02,449.49 L410.01,448.53 L410.06,448.44 L411.11,446.7 L411.15,446.64 L412.16,444.81 L412.19,444.75 L412.68,442.87 L412.7,440.98 L412.48,439.09 L412.16,438.62 L411.12,437.21 L411.11,437.2 L410.06,435.89 L409.57,435.32 L409.02,434.89 L407.97,434.14 L406.92,433.49 L406.83,433.43 L405.87,432.9 L404.82,432.38 L403.78,431.91 L402.84,431.55 L402.73,431.51 L401.68,431.14 L400.63,430.8 L399.58,430.49 L398.54,430.2 L397.49,429.95 L396.44,429.76 L395.89,429.66 L395.39,429.56 L394.34,429.34 L393.3,429.14 L392.25,428.95 L391.2,428.88 L390.15,428.83 L389.1,428.78 L388.06,428.73 L387.01,428.68 L385.96,428.66 L384.91,428.74 L383.86,428.82 L382.82,428.91 L381.77,428.99 L380.72,429.08 L379.67,429.17 L378.62,429.31 L377.58,429.58 L377.3,429.66 L376.53,429.84 L375.48,430.1 L374.43,430.38 L373.38,430.68 L372.34,431.1 L371.38,431.55 L371.29,431.59 L370.24,432.15 L369.19,432.78 L368.24,433.43 L368.14,433.5 L367.1,434.32 L366.05,435.21 L365.93,435.32 L365,436.6 L364.6,437.21 L363.95,438.55 L363.71,439.09 L363.57,440.98 L363.58,442.87 L363.9,444.75 L363.95,444.9 L364.58,446.64 L365,447.5 L365.54,448.53 L366.05,449.1 L367.1,450.17 L367.35,450.41 L368.14,451.1 L369.19,451.91 L369.74,452.3 L370.24,452.59 L371.29,453.14 L372.34,453.64 L373.38,454.05 Z" fill="#269cbf" fill-rule="evenodd" stroke="#000" stroke-width="0.6" stroke-opacity="0.9"/>
<path d="M381.92,454.19 L382.82,454.26 L383.86,454.35 L384.91,454.43 L385.96,454.51 L387.01,454.5 L388.06,454.45 L389.1,454.39 L390.15,454.34 L391.2,454.29 L392.25,454.21 L392.39,454.19 L393.3,454.02 L394.34,453.81 L395.39,453.59 L396.44,453.37 L397.49,453.12 L398.54,452.82 L399.58,452.47 L400.05,452.3 L400.63,452.06 L401.68,451.59 L402.73,451.08 L403.78,450.52 L403.95,450.41 L404.82,449.83 L405.87,449.05 L406.52,448.53 L406.92,448.01 L407.88,446.64 L407.97,446.48 L408.84,444.75 L409.02,444.04 L409.29,442.87 L409.31,440.98 L409.11,439.09 L409.02,438.94 L407.97,437.37 L407.85,437.21 L406.92,436.22 L405.98,435.32 L405.87,435.25 L404.82,434.6 L403.78,434.02 L402.73,433.52 L402.52,433.43 L401.68,433.07 L400.63,432.65 L399.58,432.27 L398.54,431.92 L397.49,431.61 L397.2,431.55 L396.44,431.37 L395.39,431.14 L394.34,430.93 L393.3,430.72 L392.25,430.53 L391.2,430.45 L390.15,430.4 L389.1,430.34 L388.06,430.29 L387.01,430.24 L385.96,430.23 L384.91,430.31 L383.86,430.39 L382.82,430.48 L381.77,430.56 L380.72,430.65 L379.67,430.74 L378.62,430.89 L377.58,431.17 L376.53,431.47 L376.28,431.55 L375.48,431.79 L374.43,432.14 L373.38,432.51 L372.34,433.03 L371.62,433.43 L371.29,433.63 L370.24,434.32 L369.19,435.1 L368.91,435.32 L368.14,436.24 L367.4,437.21 L367.1,437.74 L366.33,439.09 L366.15,440.98 L366.17,442.87 L366.56,444.75 L367.1,445.98 L367.38,446.64 L368.14,447.97 L368.48,448.53 L369.19,449.24 L370.24,450.17 L370.54,450.41 L371.29,450.95 L372.34,451.64 L373.38,452.22 L373.58,452.3 L374.43,452.6 L375.48,452.94 L376.53,453.27 L377.58,453.56 L378.62,453.84 L379.67,453.99 L380.72,454.08 L381.77,454.17 Z" fill="#1eb4aa" fill-rule="evenodd" stroke="#000" stroke-width="0.6" stroke-opacity="0.9"/>
<path d="M378.56,452.3 L378.62,452.32 L379.67,452.5 L380.72,452.61 L381.77,452.71 L382.82,452.82 L383.86,452.92 L384.91,453.02 L385.96,453.11 L387.01,453.1 L388.06,453.04 L389.1,452.97 L390.15,452.91 L391.2,452.85 L392.25,452.76 L393.3,452.53 L394.27,452.3 L394.34,452.28 L395.39,451.99 L396.44,451.68 L397.49,451.36 L398.54,450.96 L399.58,450.48 L399.73,450.41 L400.63,449.94 L401.68,449.34 L402.73,448.7 L402.99,448.53 L403.78,447.7 L404.65,446.64 L404.82,446.37 L405.79,444.75 L405.87,444.48 L406.33,442.87 L406.35,440.98 L406.11,439.09 L405.87,438.77 L404.82,437.45 L404.61,437.21 L403.78,436.45 L402.73,435.63 L402.3,435.32 L401.68,435.01 L400.63,434.51 L399.58,434.05 L398.54,433.63 L397.97,433.43 L397.49,433.27 L396.44,432.99 L395.39,432.71 L394.34,432.46 L393.3,432.21 L392.25,431.98 L391.2,431.89 L390.15,431.82 L389.1,431.76 L388.06,431.7 L387.01,431.64 L385.96,431.62 L384.91,431.72 L383.86,431.82 L382.82,431.92 L381.77,432.02 L380.72,432.13 L379.67,432.24 L378.62,432.42 L377.58,432.75 L376.53,433.1 L375.62,433.43 L375.48,433.49 L374.43,433.9 L373.38,434.34 L372.34,434.95 L371.79,435.32 L371.29,435.81 L370.24,436.94 L370.01,437.21 L369.19,438.46 L368.81,439.09 L368.62,440.98 L368.64,442.87 L369.07,444.75 L369.19,445.03 L369.98,446.64 L370.24,447.05 L371.27,448.53 L371.29,448.54 L372.34,449.41 L373.38,450.14 L373.91,450.41 L374.43,450.66 L375.48,451.12 L376.53,451.55 L377.58,451.95 Z" fill="#57bb7b" fill-rule="evenodd" stroke="#000" stroke-width="0.6" stroke-opacity="0.9"/>
<path d="M378.14,450.41 L378.62,450.61 L379.67,450.84 L380.72,450.98 L381.77,451.12 L382.82,451.26 L383.86,451.39 L384.91,451.52 L385.96,451.64 L387.01,451.62 L388.06,451.54 L389.1,451.46 L390.15,451.38 L391.2,451.3 L392.25,451.18 L393.3,450.88 L394.34,450.56 L394.8,450.41 L395.39,450.21 L396.44,449.83 L397.49,449.43 L398.54,448.93 L399.27,448.53 L399.58,448.25 L400.63,447.27 L401.27,446.64 L401.68,446.11 L402.68,444.75 L402.73,444.61 L403.34,442.87 L403.36,440.98 L403.07,439.09 L402.73,438.72 L401.68,437.65 L401.22,437.21 L400.63,436.77 L399.58,436.04 L398.54,435.36 L398.47,435.32 L397.49,434.93 L396.44,434.6 L395.39,434.28 L394.34,433.99 L393.3,433.7 L392.25,433.43 L392.25,433.43 L391.2,433.33 L390.15,433.25 L389.1,433.18 L388.06,433.11 L387.01,433.04 L385.96,433.02 L384.91,433.13 L383.86,433.25 L382.82,433.37 L382.22,433.43 L381.77,433.49 L380.72,433.61 L379.67,433.73 L378.62,433.94 L377.58,434.33 L376.53,434.74 L375.48,435.18 L375.16,435.32 L374.43,435.78 L373.38,436.49 L372.61,437.21 L372.34,437.54 L371.29,438.98 L371.21,439.09 L370.99,440.98 L371.01,442.87 L371.29,443.94 L371.51,444.75 L372.34,446.25 L372.57,446.64 L373.38,447.64 L374.36,448.53 L374.43,448.57 L375.48,449.14 L376.53,449.67 L377.58,450.16 Z" fill="#a0be4e" fill-rule="evenodd" stroke="#000" stroke-width="0.6" stroke-opacity="0.9"/>
<path d="M378.08,448.53 L378.62,448.79 L379.67,449.08 L380.72,449.25 L381.77,449.41 L382.82,449.58 L383.86,449.74 L384.91,449.89 L385.96,450.05 L387.01,450.02 L388.06,449.93 L389.1,449.83 L390.15,449.73 L391.2,449.63 L392.25,449.49 L393.3,449.12 L394.34,448.73 L394.88,448.53 L395.39,448.22 L396.44,447.56 L397.49,446.86 L397.76,446.64 L398.54,445.83 L399.42,444.75 L399.58,444.36 L400.18,442.87 L400.21,440.98 L399.88,439.09 L399.58,438.81 L398.54,437.86 L397.7,437.21 L397.49,437.08 L396.44,436.56 L395.39,436.06 L394.34,435.59 L393.72,435.32 L393.3,435.19 L392.25,434.89 L391.2,434.77 L390.15,434.68 L389.1,434.6 L388.06,434.52 L387.01,434.44 L385.96,434.42 L384.91,434.55 L383.86,434.68 L382.82,434.81 L381.77,434.95 L380.72,435.09 L379.67,435.23 L379.26,435.32 L378.62,435.52 L377.58,436.13 L376.53,436.77 L375.87,437.21 L375.48,437.53 L374.43,438.46 L373.76,439.09 L373.43,440.98 L373.45,442.87 L374.21,444.75 L374.43,445.03 L375.48,446.27 L375.81,446.64 L376.53,447.27 L377.58,448.13 Z" fill="#e6bb3a" fill-rule="evenodd" stroke="#000" stroke-width="0.6" stroke-opacity="0.9"/>
<path d="M379.77,446.64 L380.72,446.91 L381.77,447.2 L382.82,447.48 L383.86,447.75 L384.91,448.02 L385.96,448.29 L387.01,448.24 L388.06,448.08 L389.1,447.91 L390.15,447.74 L391.2,447.57 L392.25,447.32 L393.3,446.69 L393.37,446.64 L394.34,445.87 L395.39,445 L395.68,444.75 L396.44,443.44 L396.77,442.87 L396.81,440.98 L396.44,439.52 L396.33,439.09 L395.39,438.48 L394.34,437.83 L393.3,437.21 L393.29,437.21 L392.25,436.73 L391.2,436.55 L390.15,436.42 L389.1,436.29 L388.06,436.17 L387.01,436.04 L385.96,436.01 L384.91,436.21 L383.86,436.41 L382.82,436.61 L381.77,436.83 L380.72,437.04 L379.94,437.21 L379.67,437.28 L378.62,437.73 L377.58,438.57 L376.96,439.09 L376.59,440.98 L376.62,442.87 L377.46,444.75 L377.58,444.88 L378.62,446 L379.67,446.6 Z" fill="#f3ce33" fill-rule="evenodd" stroke="#000" stroke-width="0.6" stroke-opacity="0.9"/>
<path d="M383.88,444.75 L384.91,445.12 L385.96,445.48 L387.01,445.42 L388.06,445.19 L389.1,444.96 L390.04,444.75 L390.15,444.71 L391.2,444.25 L392.25,443.59 L392.7,442.87 L392.74,440.98 L392.25,439.2 L392.17,439.09 L391.2,438.86 L390.15,438.68 L389.1,438.51 L388.06,438.33 L387.01,438.16 L385.96,438.12 L384.91,438.39 L383.86,438.67 L382.82,438.95 L382.3,439.09 L381.77,439.95 L381.14,440.98 L381.24,442.87 L381.77,443.25 L382.82,444.01 L383.86,444.74 Z" fill="#f5eb28" fill-rule="evenodd" stroke="#000" stroke-width="0.6" stroke-opacity="0.9"/>
</g>
<line x1="312.3" y1="367.4" x2="496" y2="367.4" stroke="#000" stroke-width="0.9"/>
<line x1="312.6" y1="367.4" x2="312.6" y2="480.6" stroke="#777" stroke-width="0.5"/>
<line x1="338.8" y1="367.4" x2="338.8" y2="369" stroke="#000" stroke-width="0.6"/>
<line x1="338.8" y1="480.6" x2="338.8" y2="479" stroke="#000" stroke-width="0.6"/>
<line x1="391.2" y1="367.4" x2="391.2" y2="369" stroke="#000" stroke-width="0.6"/>
<line x1="391.2" y1="480.6" x2="391.2" y2="479" stroke="#000" stroke-width="0.6"/>
<line x1="443.6" y1="367.4" x2="443.6" y2="369" stroke="#000" stroke-width="0.6"/>
<line x1="443.6" y1="480.6" x2="443.6" y2="479" stroke="#000" stroke-width="0.6"/>
<line x1="312.6" y1="442.87" x2="314.2" y2="442.87" stroke="#000" stroke-width="0.6"/>
<line x1="496" y1="442.87" x2="494.4" y2="442.87" stroke="#000" stroke-width="0.6"/>
<line x1="312.6" y1="405.13" x2="314.2" y2="405.13" stroke="#000" stroke-width="0.6"/>
<line x1="496" y1="405.13" x2="494.4" y2="405.13" stroke="#000" stroke-width="0.6"/>
<g font-family='"Liberation Serif", serif' font-weight="bold" font-size="12.8" fill="#111">
<text x="338.8" y="496.5" text-anchor="middle">300</text>
<text x="391.2" y="496.5" text-anchor="middle">400</text>
<text x="443.6" y="496.5" text-anchor="middle">500</text>
<text x="496" y="496.5" text-anchor="middle">600</text>
<text x="308" y="485.3" text-anchor="end">200</text>
<text x="308" y="447.57" text-anchor="end">300</text>
<text x="308" y="409.83" text-anchor="end">400</text>
<text x="308" y="372.1" text-anchor="end">500</text>
<text x="404.3" y="513" text-anchor="middle" font-size="14">Em. (nm)</text>
<text transform="translate(285.6,424) rotate(-90)" text-anchor="middle" font-size="14">Ex. (nm)</text>
<text x="331.8" y="392.8" font-size="14">C2</text>
</g>
</g>
<g>
<clipPath id="ccb3"><polygon points="560.6,461.73 691.6,367.4 744,367.4 744,480.6 560.6,480.6"/></clipPath>
<polygon points="560.6,461.73 691.6,367.4 744,367.4 744,480.6 560.6,480.6" fill="#362c8c"/>
<g clip-path="url(#ccb3)">
<path d="M617.18,463.62 L617.19,463.62 L618.24,463.77 L619.29,463.9 L620.34,464.02 L621.38,464.16 L622.43,464.27 L623.48,464.37 L624.53,464.46 L625.58,464.53 L626.62,464.6 L627.67,464.67 L628.72,464.74 L629.77,464.79 L630.82,464.85 L631.86,464.89 L632.91,464.94 L633.96,464.97 L635.01,465.01 L636.06,465.03 L637.1,465.05 L638.15,465.08 L639.2,465.1 L640.25,465.12 L641.3,465.13 L642.34,465.15 L643.39,465.16 L644.44,465.18 L645.49,465.19 L646.54,465.2 L647.58,465.21 L648.63,465.22 L649.68,465.23 L650.73,465.24 L651.78,465.24 L652.82,465.25 L653.87,465.25 L654.92,465.26 L655.97,465.26 L657.02,465.27 L658.06,465.27 L659.11,465.28 L660.16,465.28 L661.21,465.28 L662.26,465.28 L663.3,465.28 L664.35,465.28 L665.4,465.28 L666.45,465.29 L667.5,465.29 L668.54,465.29 L669.59,465.29 L670.64,465.29 L671.69,465.29 L672.74,465.28 L673.78,465.28 L674.83,465.28 L675.88,465.28 L676.93,465.27 L677.98,465.27 L679.02,465.26 L680.07,465.25 L681.12,465.24 L682.17,465.23 L683.22,465.22 L684.26,465.21 L685.31,465.2 L686.36,465.19 L687.41,465.17 L688.46,465.16 L689.5,465.14 L690.55,465.13 L691.6,465.11 L692.65,465.09 L693.7,465.07 L694.74,465.04 L695.79,465.02 L696.84,464.99 L697.89,464.96 L698.94,464.92 L699.98,464.88 L701.03,464.83 L702.08,464.78 L703.13,464.71 L704.18,464.64 L705.22,464.56 L706.27,464.48 L707.32,464.39 L708.37,464.3 L709.42,464.19 L710.46,464.06 L711.51,463.91 L712.56,463.72 L713.19,463.62 L713.61,462.97 L714.64,461.73 L714.66,461.69 L715.3,459.85 L715.7,459.31 L716.63,457.96 L716.38,456.07 L715.98,454.19 L715.7,453.6 L715.04,452.3 L714.66,451.61 L713.95,450.41 L713.61,449.72 L713.17,448.53 L712.56,447.01 L712.43,446.64 L712.09,444.75 L711.82,442.87 L711.67,440.98 L711.62,439.09 L711.56,437.21 L711.51,436.68 L711.38,435.32 L711.16,433.43 L710.82,431.55 L710.46,430.1 L710.35,429.66 L709.85,427.77 L709.42,426.4 L709.25,425.89 L708.56,424 L708.37,423.5 L707.81,422.11 L707.32,421 L706.97,420.23 L706.27,418.81 L706.06,418.34 L705.22,416.74 L705.07,416.45 L704.18,415.25 L703.61,414.57 L703.13,414.02 L702.08,412.94 L701.81,412.68 L701.03,411.98 L699.98,411.13 L699.54,410.79 L698.94,410.37 L697.89,409.75 L696.84,409.22 L696.18,408.91 L695.79,408.73 L694.74,408.28 L693.7,407.86 L692.65,407.47 L691.6,407.1 L691.34,407.02 L690.55,406.72 L689.5,406.36 L688.46,406.02 L687.41,405.69 L686.36,405.38 L685.48,405.13 L685.31,405.08 L684.26,404.75 L683.22,404.47 L682.17,404.22 L681.12,403.97 L680.07,403.73 L679.02,403.5 L677.98,403.3 L677.24,403.25 L676.93,403.22 L675.88,403.14 L674.83,403.06 L673.78,402.98 L672.74,402.9 L671.69,402.88 L670.64,402.88 L669.59,402.88 L668.54,402.88 L667.5,402.88 L666.45,402.88 L665.4,402.92 L664.35,402.96 L663.3,402.99 L662.26,403.03 L661.21,403.07 L660.16,403.1 L659.11,403.14 L658.06,403.18 L657.42,403.25 L657.02,403.29 L655.97,403.42 L654.92,403.55 L653.87,403.69 L652.82,403.83 L651.78,403.97 L650.73,404.12 L649.68,404.27 L648.63,404.48 L647.58,404.77 L646.54,405.07 L646.32,405.13 L645.49,405.35 L644.44,405.63 L643.39,405.93 L642.34,406.24 L641.3,406.6 L640.25,407 L640.2,407.02 L639.2,407.34 L638.15,407.7 L637.1,408.08 L636.06,408.49 L635.05,408.91 L635.01,408.92 L633.96,409.47 L632.91,410.14 L631.97,410.79 L631.86,410.88 L630.82,411.7 L629.77,412.62 L629.7,412.68 L628.72,413.66 L627.9,414.57 L627.67,414.84 L626.62,416 L626.2,416.45 L625.58,417.42 L625.02,418.34 L624.53,419.3 L624.08,420.23 L623.48,421.56 L623.24,422.11 L622.49,424 L622.43,424.15 L621.8,425.89 L621.38,427.18 L621.2,427.77 L620.7,429.66 L620.34,431.12 L620.21,431.55 L619.78,433.43 L619.51,435.32 L619.29,437.21 L619.29,437.21 L619.21,439.09 L619.13,440.98 L618.92,442.87 L618.55,444.75 L618.24,445.97 L618.07,446.64 L617.2,448.53 L617.19,448.55 L616.43,450.41 L616.14,451 L615.56,452.3 L615.1,453.43 L614.8,454.19 L614.48,456.07 L614.28,457.96 L615.1,459.43 L615.35,459.85 L615.88,461.73 L616.14,462.15 Z" fill="#3e58aa" fill-rule="evenodd" stroke="#000" stroke-width="0.6" stroke-opacity="0.9"/>
<path d="M627.74,463.62 L628.72,463.75 L629.77,463.86 L630.82,463.97 L631.86,464.06 L632.91,464.15 L633.96,464.23 L635.01,464.29 L636.06,464.34 L637.1,464.39 L638.15,464.43 L639.2,464.47 L640.25,464.51 L641.3,464.54 L642.34,464.58 L643.39,464.6 L644.44,464.63 L645.49,464.66 L646.54,464.68 L647.58,464.7 L648.63,464.72 L649.68,464.74 L650.73,464.75 L651.78,464.76 L652.82,464.77 L653.87,464.78 L654.92,464.8 L655.97,464.81 L657.02,464.82 L658.06,464.82 L659.11,464.83 L660.16,464.83 L661.21,464.83 L662.26,464.84 L663.3,464.84 L664.35,464.84 L665.4,464.84 L666.45,464.85 L667.5,464.85 L668.54,464.85 L669.59,464.85 L670.64,464.85 L671.69,464.85 L672.74,464.84 L673.78,464.84 L674.83,464.83 L675.88,464.83 L676.93,464.82 L677.98,464.81 L679.02,464.8 L680.07,464.78 L681.12,464.76 L682.17,464.74 L683.22,464.72 L684.26,464.7 L685.31,464.68 L686.36,464.65 L687.41,464.62 L688.46,464.6 L689.5,464.57 L690.55,464.53 L691.6,464.5 L692.65,464.46 L693.7,464.41 L694.74,464.36 L695.79,464.31 L696.84,464.25 L697.89,464.19 L698.94,464.12 L699.98,464.04 L701.03,463.94 L702.08,463.83 L703.13,463.7 L703.77,463.62 L704.18,463.13 L705.21,461.73 L705.22,461.7 L705.86,459.85 L706.27,459.28 L707.3,457.96 L707.02,456.07 L706.57,454.19 L706.27,453.65 L705.6,452.3 L705.22,451.6 L704.6,450.41 L704.18,449.45 L703.74,448.53 L703.13,447.3 L702.78,446.64 L702.24,444.75 L702.08,444 L701.83,442.87 L701.6,440.98 L701.51,439.09 L701.43,437.21 L701.15,435.32 L701.03,434.69 L700.8,433.43 L700.26,431.55 L699.98,430.8 L699.54,429.66 L698.94,428.18 L698.74,427.77 L697.89,426.24 L697.67,425.89 L696.84,424.64 L696.39,424 L695.79,423.17 L694.98,422.11 L694.74,421.81 L693.7,420.55 L693.41,420.23 L692.65,419.37 L691.66,418.34 L691.6,418.28 L690.55,417.44 L689.5,416.68 L689.18,416.45 L688.46,416.09 L687.41,415.58 L686.36,415.1 L685.31,414.65 L685.13,414.57 L684.26,414.21 L683.22,413.84 L682.17,413.49 L681.12,413.16 L680.07,412.84 L679.53,412.68 L679.02,412.53 L677.98,412.28 L676.93,412.17 L675.88,412.06 L674.83,411.95 L673.78,411.85 L672.74,411.74 L671.69,411.71 L670.64,411.71 L669.59,411.71 L668.54,411.71 L667.5,411.71 L666.45,411.71 L665.4,411.76 L664.35,411.81 L663.3,411.86 L662.26,411.91 L661.21,411.96 L660.16,412.01 L659.11,412.06 L658.06,412.11 L657.02,412.26 L655.97,412.43 L654.92,412.61 L654.51,412.68 L653.87,412.79 L652.82,412.98 L651.78,413.17 L650.73,413.36 L649.68,413.56 L648.63,413.84 L647.58,414.23 L646.7,414.57 L646.54,414.63 L645.49,415.05 L644.44,415.49 L643.39,415.95 L642.34,416.44 L642.31,416.45 L641.3,417.18 L640.25,418.03 L639.88,418.34 L639.2,419 L638.15,420.07 L638,420.23 L637.1,421.21 L636.33,422.11 L636.06,422.44 L635.01,423.75 L634.84,424 L633.96,425.39 L633.69,425.89 L632.91,427.43 L632.75,427.77 L631.97,429.66 L631.86,429.93 L631.25,431.55 L630.82,433.05 L630.71,433.43 L630.37,435.32 L630.09,437.21 L630,439.09 L629.91,440.98 L629.77,442.14 L629.68,442.87 L629.27,444.75 L628.73,446.64 L628.72,446.67 L627.77,448.53 L627.67,448.73 L626.79,450.41 L626.62,450.68 L625.58,452.29 L625.57,452.3 L624.53,454.1 L624.48,454.19 L624.03,456.07 L623.74,457.96 L624.53,458.98 L625.26,459.85 L625.58,460.65 L626.02,461.73 L626.62,462.39 L627.67,463.54 Z" fill="#2c8ccd" fill-rule="evenodd" stroke="#000" stroke-width="0.6" stroke-opacity="0.9"/>
<path d="M635.39,463.62 L636.06,463.67 L637.1,463.74 L638.15,463.8 L639.2,463.86 L640.25,463.92 L641.3,463.97 L642.34,464.02 L643.39,464.06 L644.44,464.1 L645.49,464.14 L646.54,464.17 L647.58,464.21 L648.63,464.24 L649.68,464.26 L650.73,464.28 L651.78,464.3 L652.82,464.31 L653.87,464.33 L654.92,464.34 L655.97,464.36 L657.02,464.37 L658.06,464.39 L659.11,464.39 L660.16,464.4 L661.21,464.4 L662.26,464.4 L663.3,464.41 L664.35,464.41 L665.4,464.42 L666.45,464.42 L667.5,464.42 L668.54,464.42 L669.59,464.42 L670.64,464.42 L671.69,464.42 L672.74,464.42 L673.78,464.41 L674.83,464.4 L675.88,464.39 L676.93,464.38 L677.98,464.37 L679.02,464.35 L680.07,464.32 L681.12,464.3 L682.17,464.27 L683.22,464.24 L684.26,464.21 L685.31,464.17 L686.36,464.13 L687.41,464.09 L688.46,464.05 L689.5,464 L690.55,463.96 L691.6,463.9 L692.65,463.84 L693.7,463.77 L694.74,463.7 L695.79,463.62 L695.85,463.62 L696.84,462.94 L697.89,462.16 L698.39,461.73 L698.94,460.71 L699.33,459.85 L699.98,459.18 L701.03,458.01 L701.08,457.96 L701.03,457.69 L700.75,456.07 L700.23,454.19 L699.98,453.8 L698.97,452.3 L698.94,452.25 L697.89,451 L697.33,450.41 L696.84,449.78 L695.8,448.53 L695.79,448.52 L694.74,447.34 L694.08,446.64 L693.7,445.87 L693.12,444.75 L692.65,443.51 L692.4,442.87 L691.98,440.98 L691.83,439.09 L691.67,437.21 L691.6,436.94 L691.13,435.32 L690.55,433.72 L690.44,433.43 L689.5,431.82 L689.34,431.55 L688.46,430.41 L687.86,429.66 L687.41,429.12 L686.36,427.89 L686.25,427.77 L685.31,426.83 L684.32,425.89 L684.26,425.84 L683.22,425.01 L682.17,424.24 L681.83,424 L681.12,423.5 L680.07,422.79 L679.04,422.11 L679.02,422.1 L677.98,421.53 L676.93,421.29 L675.88,421.05 L674.83,420.81 L673.78,420.57 L672.74,420.34 L671.69,420.27 L670.64,420.27 L669.59,420.27 L668.54,420.27 L667.5,420.27 L666.45,420.28 L665.4,420.39 L664.35,420.5 L663.3,420.6 L662.26,420.72 L661.21,420.83 L660.16,420.94 L659.11,421.05 L658.06,421.16 L657.02,421.48 L655.97,421.87 L655.33,422.11 L654.92,422.27 L653.87,422.68 L652.82,423.09 L651.78,423.52 L650.73,423.95 L650.62,424 L649.68,424.4 L648.63,425.02 L647.58,425.88 L647.57,425.89 L646.54,426.8 L645.49,427.76 L645.48,427.77 L644.44,428.88 L643.74,429.66 L643.39,430.06 L642.34,431.29 L642.15,431.55 L641.3,433 L641.06,433.43 L640.41,435.32 L640.25,435.87 L639.87,437.21 L639.71,439.09 L639.54,440.98 L639.2,442.41 L639.09,442.87 L638.31,444.75 L638.15,445.05 L637.29,446.64 L637.1,446.82 L636.06,447.88 L635.45,448.53 L635.01,449.01 L633.97,450.41 L633.96,450.43 L632.91,451.78 L632.54,452.3 L631.86,453.29 L631.29,454.19 L630.82,455.88 L630.76,456.07 L630.43,457.96 L630.82,458.4 L631.86,459.53 L632.19,459.85 L632.91,461.42 L633.06,461.73 L633.96,462.57 L635.01,463.38 Z" fill="#1eb4aa" fill-rule="evenodd" stroke="#000" stroke-width="0.6" stroke-opacity="0.9"/>
<path d="M651.48,463.62 L651.78,463.63 L652.82,463.65 L653.87,463.67 L654.92,463.7 L655.97,463.72 L657.02,463.74 L658.06,463.76 L659.11,463.77 L660.16,463.77 L661.21,463.78 L662.26,463.78 L663.3,463.79 L664.35,463.8 L665.4,463.8 L666.45,463.81 L667.5,463.81 L668.54,463.81 L669.59,463.81 L670.64,463.81 L671.69,463.81 L672.74,463.81 L673.78,463.79 L674.83,463.78 L675.88,463.77 L676.93,463.75 L677.98,463.74 L679.02,463.71 L680.07,463.67 L681.12,463.63 L681.33,463.62 L682.17,463.33 L683.22,462.96 L684.26,462.55 L685.31,462.08 L686.05,461.73 L686.36,461.42 L687.41,460.31 L687.84,459.85 L688.46,459.54 L689.5,459.01 L690.55,458.44 L691.37,457.96 L690.72,456.07 L690.55,455.75 L689.66,454.19 L689.5,454.06 L688.46,453.26 L687.41,452.51 L687.11,452.3 L686.36,451.79 L685.31,451.1 L684.26,450.45 L684.2,450.41 L683.22,449.75 L682.17,449.09 L681.23,448.53 L681.12,448.46 L680.07,447.85 L679.02,447.27 L677.98,446.78 L677.28,446.64 L676.93,446.5 L675.88,446.09 L674.83,445.69 L673.78,445.29 L672.74,444.9 L671.69,444.77 L670.64,444.77 L669.59,444.77 L668.54,444.77 L667.5,444.77 L666.45,444.79 L665.4,444.98 L664.35,445.16 L663.3,445.35 L662.26,445.53 L661.21,445.72 L660.16,445.91 L659.11,446.1 L658.06,446.29 L657.39,446.64 L657.02,446.74 L655.97,447.07 L654.92,447.41 L653.87,447.76 L652.82,448.11 L651.78,448.48 L651.64,448.53 L650.73,448.85 L649.68,449.23 L648.63,449.76 L647.7,450.41 L647.58,450.48 L646.54,451.08 L645.49,451.71 L644.54,452.3 L644.44,452.37 L643.39,453.06 L642.34,453.78 L641.83,454.19 L641.3,455.11 L640.8,456.07 L640.25,457.74 L640.18,457.96 L640.25,458.01 L641.3,458.64 L642.34,459.19 L643.39,459.68 L643.76,459.85 L644.44,460.53 L645.49,461.54 L645.7,461.73 L646.54,462.1 L647.58,462.53 L648.63,462.95 L649.68,463.25 L650.73,463.47 Z" fill="#7dc05c" fill-rule="evenodd" stroke="#000" stroke-width="0.6" stroke-opacity="0.9"/>
<path d="M654.39,461.73 L654.92,461.85 L655.97,462.07 L657.02,462.28 L658.06,462.46 L659.11,462.52 L660.16,462.59 L661.21,462.65 L662.26,462.71 L663.3,462.77 L664.35,462.83 L665.4,462.89 L666.45,462.95 L667.5,462.96 L668.54,462.96 L669.59,462.96 L670.64,462.96 L671.69,462.96 L672.74,462.91 L673.78,462.79 L674.83,462.66 L675.88,462.53 L676.93,462.39 L677.98,462.26 L679.02,461.94 L679.6,461.73 L680.07,461.37 L681.12,460.53 L681.95,459.85 L682.17,459.77 L683.22,459.37 L684.26,458.94 L685.31,458.45 L686.29,457.96 L685.52,456.07 L685.31,455.74 L684.31,454.19 L684.26,454.15 L683.22,453.52 L682.17,452.93 L681.12,452.36 L681,452.3 L680.07,451.82 L679.02,451.3 L677.98,450.86 L676.93,450.67 L675.88,450.49 L675.45,450.41 L674.83,450.28 L673.78,450.05 L672.74,449.82 L671.69,449.75 L670.64,449.75 L669.59,449.75 L668.54,449.75 L667.5,449.75 L666.45,449.76 L665.4,449.87 L664.35,449.97 L663.3,450.08 L662.26,450.19 L661.21,450.29 L660.16,450.4 L660.05,450.41 L659.11,450.49 L658.06,450.58 L657.02,450.82 L655.97,451.12 L654.92,451.42 L653.87,451.74 L652.82,452.05 L652.03,452.3 L651.78,452.38 L650.73,452.71 L649.68,453.05 L648.63,453.53 L647.58,454.18 L647.58,454.19 L646.54,455.68 L646.27,456.07 L645.49,457.84 L645.44,457.96 L645.49,457.98 L646.54,458.46 L647.58,458.92 L648.63,459.36 L649.68,459.68 L650.43,459.85 L650.73,459.99 L651.78,460.51 L652.82,461.01 L653.87,461.5 Z" fill="#f2ba3a" fill-rule="evenodd" stroke="#000" stroke-width="0.6" stroke-opacity="0.9"/>
<path d="M661.58,457.96 L662.26,458 L663.3,458.07 L664.35,458.14 L665.4,458.21 L666.45,458.27 L667.5,458.28 L668.54,458.28 L669.59,458.28 L670.64,458.28 L671.69,458.28 L672.74,458.23 L673.78,458.09 L674.73,457.96 L673.78,457.32 L672.74,456.61 L671.69,456.38 L670.64,456.38 L669.59,456.38 L668.54,456.38 L667.5,456.38 L666.45,456.42 L665.4,456.75 L664.35,457.08 L663.3,457.41 L662.26,457.74 Z" fill="#f5eb28" fill-rule="evenodd" stroke="#000" stroke-width="0.6" stroke-opacity="0.9"/>
</g>
<line x1="560.3" y1="367.4" x2="744" y2="367.4" stroke="#000" stroke-width="0.9"/>
<line x1="560.6" y1="367.4" x2="560.6" y2="480.6" stroke="#777" stroke-width="0.5"/>
<line x1="586.8" y1="367.4" x2="586.8" y2="369" stroke="#000" stroke-width="0.6"/>
<line x1="586.8" y1="480.6" x2="586.8" y2="479" stroke="#000" stroke-width="0.6"/>
<line x1="639.2" y1="367.4" x2="639.2" y2="369" stroke="#000" stroke-width="0.6"/>
<line x1="639.2" y1="480.6" x2="639.2" y2="479" stroke="#000" stroke-width="0.6"/>
<line x1="691.6" y1="367.4" x2="691.6" y2="369" stroke="#000" stroke-width="0.6"/>
<line x1="691.6" y1="480.6" x2="691.6" y2="479" stroke="#000" stroke-width="0.6"/>
<line x1="560.6" y1="442.87" x2="562.2" y2="442.87" stroke="#000" stroke-width="0.6"/>
<line x1="744" y1="442.87" x2="742.4" y2="442.87" stroke="#000" stroke-width="0.6"/>
<line x1="560.6" y1="405.13" x2="562.2" y2="405.13" stroke="#000" stroke-width="0.6"/>
<line x1="744" y1="405.13" x2="742.4" y2="405.13" stroke="#000" stroke-width="0.6"/>
<g font-family='"Liberation Serif", serif' font-weight="bold" font-size="12.8" fill="#111">
<text x="586.8" y="496.5" text-anchor="middle">300</text>
<text x="639.2" y="496.5" text-anchor="middle">400</text>
<text x="691.6" y="496.5" text-anchor="middle">500</text>
<text x="744" y="496.5" text-anchor="middle">600</text>
<text x="556" y="485.3" text-anchor="end">200</text>
<text x="556" y="447.57" text-anchor="end">300</text>
<text x="556" y="409.83" text-anchor="end">400</text>
<text x="556" y="372.1" text-anchor="end">500</text>
<text x="652.3" y="513" text-anchor="middle" font-size="14">Em. (nm)</text>
<text transform="translate(533.6,424) rotate(-90)" text-anchor="middle" font-size="14">Ex. (nm)</text>
<text x="579.8" y="392.8" font-size="14">C3</text>
</g>
</g>
<g>
<clipPath id="ccb4"><polygon points="808.6,461.73 939.6,367.4 992,367.4 992,480.6 808.6,480.6"/></clipPath>
<polygon points="808.6,461.73 939.6,367.4 992,367.4 992,480.6 808.6,480.6" fill="#362c8c"/>
<g clip-path="url(#ccb4)">
<path d="M812.97,480.6 L813.84,480.6 L814.89,480.6 L815.94,480.6 L816.98,480.6 L818.03,480.6 L819.08,480.6 L820.13,480.6 L821.18,480.6 L822.22,480.6 L823.27,480.6 L824.32,480.6 L825.37,480.6 L826.42,480.6 L827.46,480.6 L828.51,480.6 L829.56,480.6 L830.61,480.6 L831.66,480.6 L832.7,480.6 L833.75,480.6 L834.8,480.6 L835.85,480.6 L836.9,480.6 L837.94,480.6 L838.99,480.6 L840.04,480.6 L841.09,480.6 L842.14,480.6 L843.18,480.6 L844.23,480.6 L845.28,480.6 L846.33,480.6 L847.38,480.6 L848.42,480.6 L849.47,480.6 L850.52,480.6 L851.57,480.6 L852.62,480.6 L853.66,480.6 L854.71,480.6 L855.76,480.6 L856.81,480.6 L857.86,480.6 L858.9,480.6 L859.95,480.6 L861,480.6 L862.05,480.6 L863.1,480.6 L864.14,480.6 L865.19,480.6 L866.24,480.6 L867.29,480.6 L868.34,480.6 L869.38,480.6 L870.43,480.6 L871.48,480.6 L872.53,480.6 L873.58,480.6 L874.62,480.6 L875.67,480.6 L876.72,480.6 L877.77,480.6 L878.82,480.6 L879.86,480.6 L880.91,480.6 L881.96,480.6 L883.01,480.6 L884.06,480.6 L885.1,480.6 L886.15,480.6 L887.2,480.6 L888.25,480.6 L889.3,480.6 L890.34,480.6 L891.39,480.6 L892.44,480.6 L893.49,480.6 L894.54,480.6 L895.58,480.6 L896.63,480.6 L897.68,480.6 L898.73,480.6 L899.78,480.6 L900.82,480.6 L901.87,480.6 L902.77,480.6 L902.54,478.71 L901.98,476.83 L901.87,476.56 L901.18,474.94 L900.82,474.28 L900.11,473.05 L900.82,471.8 L901.15,471.17 L901.87,470.15 L902.41,469.28 L901.87,468.37 L901.21,467.39 L900.82,466.56 L900.3,465.51 L900.82,464.81 L901.62,463.62 L901.87,463.2 L902.66,461.73 L902.02,459.85 L901.87,459.46 L901.26,457.96 L901.35,456.07 L901.42,454.19 L901.42,452.3 L901.42,450.41 L900.93,448.53 L900.82,448.31 L900,446.64 L899.78,446.37 L898.73,445.13 L898.37,444.75 L897.68,444.24 L896.63,443.56 L895.58,442.99 L895.34,442.87 L894.54,442.58 L893.49,442.26 L892.44,441.99 L891.39,441.79 L890.34,441.61 L889.3,441.45 L888.25,441.3 L887.2,441.16 L886.15,441.03 L885.77,440.98 L885.1,440.88 L884.06,440.69 L883.01,440.51 L881.96,440.36 L880.91,440.21 L879.86,440.08 L878.82,439.96 L877.77,439.86 L876.72,439.76 L875.67,439.67 L874.62,439.58 L873.58,439.5 L872.53,439.42 L871.48,439.35 L870.43,439.28 L869.38,439.21 L868.34,439.15 L867.39,439.09 L867.29,439.08 L866.24,438.99 L865.19,438.91 L864.14,438.82 L863.1,438.75 L862.05,438.67 L861,438.61 L859.95,438.59 L858.9,438.56 L857.86,438.54 L856.81,438.51 L855.76,438.49 L854.71,438.5 L853.66,438.53 L852.62,438.56 L851.57,438.59 L850.52,438.63 L849.47,438.66 L848.42,438.73 L847.38,438.82 L846.33,438.92 L845.28,439.03 L844.69,439.09 L844.23,439.12 L843.18,439.2 L842.14,439.27 L841.09,439.36 L840.04,439.46 L838.99,439.57 L837.94,439.69 L836.9,439.81 L835.85,439.95 L834.8,440.11 L833.75,440.27 L832.7,440.44 L831.66,440.63 L830.61,440.84 L829.99,440.98 L829.56,441.06 L828.51,441.29 L827.46,441.55 L826.42,441.79 L825.37,442.06 L824.32,442.36 L823.27,442.7 L822.8,442.87 L822.22,443.16 L821.18,443.77 L820.13,444.48 L819.61,444.75 L819.08,445.13 L818.03,445.88 L817.1,446.64 L816.98,446.78 L815.94,448.25 L815.76,448.53 L815.06,450.41 L815.06,452.3 L815.06,454.19 L815.17,456.07 L815.28,457.96 L814.89,458.64 L814.2,459.85 L813.84,460.53 L813.17,461.73 L813.84,462.51 L814.78,463.62 L814.89,463.74 L815.94,464.84 L816.65,465.51 L815.94,466.51 L815.36,467.39 L814.89,467.87 L813.84,469.01 L813.58,469.28 L813.84,469.54 L814.89,470.63 L815.44,471.17 L815.94,471.84 L816.93,473.05 L815.94,474.24 L815.41,474.94 L814.89,475.78 L814.26,476.83 L813.84,477.75 L813.37,478.71 Z" fill="#3d52a6" fill-rule="evenodd" stroke="#000" stroke-width="0.6" stroke-opacity="0.9"/>
<path d="M822.8,480.6 L823.27,480.6 L824.32,480.6 L825.37,480.6 L826.42,480.6 L827.46,480.6 L828.51,480.6 L829.56,480.6 L830.61,480.6 L831.66,480.6 L832.7,480.6 L833.75,480.6 L834.8,480.6 L835.85,480.6 L836.9,480.6 L837.94,480.6 L838.99,480.6 L840.04,480.6 L841.09,480.6 L842.14,480.6 L843.18,480.6 L844.23,480.6 L845.28,480.6 L846.33,480.6 L847.38,480.6 L848.42,480.6 L849.47,480.6 L850.52,480.6 L851.57,480.6 L852.62,480.6 L853.66,480.6 L854.71,480.6 L855.76,480.6 L856.81,480.6 L857.86,480.6 L858.9,480.6 L859.95,480.6 L861,480.6 L862.05,480.6 L863.1,480.6 L864.14,480.6 L865.19,480.6 L866.24,480.6 L867.29,480.6 L868.34,480.6 L869.38,480.6 L870.43,480.6 L871.48,480.6 L872.53,480.6 L873.58,480.6 L874.62,480.6 L875.67,480.6 L876.72,480.6 L877.77,480.6 L878.82,480.6 L879.86,480.6 L880.91,480.6 L881.96,480.6 L883.01,480.6 L884.06,480.6 L885.1,480.6 L886.15,480.6 L887.2,480.6 L888.25,480.6 L889.3,480.6 L890.34,480.6 L891.39,480.6 L892.44,480.6 L893.49,480.6 L894.54,480.6 L895.34,480.6 L894.93,478.71 L894.54,477.94 L893.94,476.83 L893.49,476.18 L892.48,474.94 L892.44,474.9 L891.39,474.08 L890.34,473.32 L889.95,473.05 L890.34,472.78 L891.39,472.01 L892.43,471.17 L892.44,471.16 L893.49,470.39 L894.54,469.45 L894.71,469.28 L894.54,469.11 L893.49,468.13 L892.54,467.39 L892.44,467.28 L891.39,466.33 L890.4,465.51 L891.39,464.96 L892.44,464.33 L893.31,463.62 L893.49,463.47 L894.54,462.41 L895.14,461.73 L894.54,460.69 L894.01,459.85 L893.49,459.06 L892.64,457.96 L892.79,456.07 L892.94,454.19 L892.94,452.3 L892.94,450.41 L892.44,449.38 L891.9,448.53 L891.39,448.06 L890.34,447.17 L889.67,446.64 L889.3,446.45 L888.25,445.95 L887.2,445.48 L886.15,445.05 L885.49,444.75 L885.1,444.62 L884.06,444.2 L883.01,443.82 L881.96,443.48 L880.91,443.16 L879.87,442.87 L879.86,442.86 L878.82,442.67 L877.77,442.49 L876.72,442.33 L875.67,442.17 L874.62,442.03 L873.58,441.89 L872.53,441.76 L871.48,441.63 L870.43,441.51 L869.38,441.4 L868.34,441.3 L867.29,441.2 L866.24,441.1 L865.19,441.02 L864.71,440.98 L864.14,440.93 L863.1,440.84 L862.05,440.75 L861,440.68 L859.95,440.65 L858.9,440.62 L857.86,440.59 L856.81,440.56 L855.76,440.53 L854.71,440.55 L853.66,440.58 L852.62,440.62 L851.57,440.66 L850.52,440.69 L849.47,440.73 L848.42,440.81 L847.38,440.93 L846.9,440.98 L846.33,441.04 L845.28,441.14 L844.23,441.26 L843.18,441.38 L842.14,441.51 L841.09,441.66 L840.04,441.83 L838.99,442.01 L837.94,442.2 L836.9,442.42 L835.85,442.65 L834.98,442.87 L834.8,442.93 L833.75,443.28 L832.7,443.66 L831.66,444.08 L830.61,444.55 L830.18,444.75 L829.56,445.16 L828.51,445.91 L827.61,446.64 L827.46,446.83 L826.42,448.06 L826.03,448.53 L825.37,449.95 L825.16,450.41 L825.16,452.3 L825.16,454.19 L825.3,456.07 L825.37,456.96 L825.44,457.96 L825.37,458.06 L824.32,459.55 L824.13,459.85 L823.27,461.26 L823.01,461.73 L823.27,462.04 L824.32,463.14 L824.82,463.62 L825.37,464.11 L826.42,464.96 L827.12,465.51 L826.42,466.33 L825.54,467.39 L825.37,467.53 L824.32,468.42 L823.44,469.28 L824.32,470.1 L825.37,470.96 L825.64,471.17 L826.42,472.01 L827.44,473.05 L826.42,474.08 L825.6,474.94 L825.37,475.23 L824.32,476.65 L824.2,476.83 L823.27,478.6 L823.22,478.71 Z" fill="#317dc3" fill-rule="evenodd" stroke="#000" stroke-width="0.6" stroke-opacity="0.9"/>
<path d="M829.36,480.6 L829.56,480.6 L830.61,480.6 L831.66,480.6 L832.7,480.6 L833.75,480.6 L834.8,480.6 L835.85,480.6 L836.9,480.6 L837.94,480.6 L838.99,480.6 L840.04,480.6 L841.09,480.6 L842.14,480.6 L843.18,480.6 L844.23,480.6 L845.28,480.6 L846.33,480.6 L847.38,480.6 L848.42,480.6 L849.47,480.6 L850.52,480.6 L851.57,480.6 L852.62,480.6 L853.66,480.6 L854.71,480.6 L855.76,480.6 L856.81,480.6 L857.86,480.6 L858.9,480.6 L859.95,480.6 L861,480.6 L862.05,480.6 L863.1,480.6 L864.14,480.6 L865.19,480.6 L866.24,480.6 L867.29,480.6 L868.34,480.6 L869.38,480.6 L870.43,480.6 L871.48,480.6 L872.53,480.6 L873.58,480.6 L874.62,480.6 L875.67,480.6 L876.72,480.6 L877.77,480.6 L878.82,480.6 L879.86,480.6 L880.91,480.6 L881.96,480.6 L883.01,480.6 L884.06,480.6 L885.1,480.6 L886.15,480.6 L886.76,480.6 L886.15,479.21 L885.96,478.71 L885.1,477.74 L884.43,476.83 L884.06,476.43 L883.01,475.39 L882.52,474.94 L881.96,474.5 L880.91,473.73 L879.91,473.05 L880.91,472.36 L881.96,471.57 L882.46,471.17 L883.01,470.86 L884.06,470.24 L885.1,469.55 L885.58,469.28 L885.1,469 L884.06,468.29 L883.01,467.63 L882.6,467.39 L881.96,466.82 L880.91,465.93 L880.38,465.51 L880.91,465.23 L881.96,464.64 L883.01,464 L883.58,463.62 L884.06,463.29 L885.1,462.52 L886.15,461.85 L886.35,461.73 L886.15,461.55 L885.1,460.52 L884.53,459.85 L884.06,459.32 L883.01,458.23 L882.73,457.96 L882.92,456.07 L883.01,455.22 L883.11,454.19 L883.11,452.3 L883.11,450.41 L883.01,450.24 L881.96,448.59 L881.92,448.53 L880.91,447.66 L879.86,446.82 L879.61,446.64 L878.82,446.28 L877.77,445.83 L876.72,445.42 L875.67,445.03 L874.87,444.75 L874.62,444.69 L873.58,444.42 L872.53,444.15 L871.48,443.9 L870.43,443.67 L869.38,443.45 L868.34,443.24 L867.29,443.05 L866.27,442.87 L866.24,442.86 L865.19,442.74 L864.14,442.61 L863.1,442.5 L862.05,442.39 L861,442.3 L859.95,442.26 L858.9,442.22 L857.86,442.18 L856.81,442.15 L855.76,442.11 L854.71,442.13 L853.66,442.18 L852.62,442.22 L851.57,442.27 L850.52,442.32 L849.47,442.36 L848.42,442.47 L847.38,442.61 L846.33,442.76 L845.64,442.87 L845.28,442.94 L844.23,443.17 L843.18,443.41 L842.14,443.66 L841.09,443.96 L840.04,444.29 L838.99,444.64 L838.68,444.75 L837.94,445.11 L836.9,445.64 L835.85,446.23 L835.18,446.64 L834.8,447 L833.75,448.01 L833.24,448.53 L832.7,449.46 L832.19,450.41 L832.19,452.3 L832.19,454.19 L832.36,456.07 L832.53,457.96 L831.66,458.96 L830.95,459.85 L830.61,460.3 L829.6,461.73 L830.61,462.66 L831.66,463.52 L831.78,463.62 L832.7,464.3 L833.75,465 L834.56,465.51 L833.75,466.27 L832.7,467.33 L832.64,467.39 L831.66,468.07 L830.61,468.87 L830.12,469.28 L830.61,469.67 L831.66,470.44 L832.7,471.13 L832.76,471.17 L833.75,472.05 L834.8,472.93 L834.95,473.05 L834.8,473.18 L833.75,474.03 L832.71,474.94 L832.7,474.95 L831.66,476.09 L831.03,476.83 L830.61,477.48 L829.86,478.71 L829.56,479.82 Z" fill="#24a3b9" fill-rule="evenodd" stroke="#000" stroke-width="0.6" stroke-opacity="0.9"/>
<path d="M834.98,480.6 L835.85,480.6 L836.9,480.6 L837.94,480.6 L838.99,480.6 L840.04,480.6 L841.09,480.6 L842.14,480.6 L843.18,480.6 L844.23,480.6 L845.28,480.6 L846.33,480.6 L847.38,480.6 L848.42,480.6 L849.47,480.6 L850.52,480.6 L851.57,480.6 L852.62,480.6 L853.66,480.6 L854.71,480.6 L855.76,480.6 L856.81,480.6 L857.86,480.6 L858.9,480.6 L859.95,480.6 L861,480.6 L862.05,480.6 L863.1,480.6 L864.14,480.6 L865.19,480.6 L866.24,480.6 L867.29,480.6 L868.34,480.6 L869.38,480.6 L870.43,480.6 L871.48,480.6 L872.53,480.6 L873.58,480.6 L874.62,480.6 L875.67,480.6 L876.72,480.6 L877.77,480.6 L878.82,480.6 L879.86,480.6 L879.87,480.6 L879.86,480.58 L879.07,478.71 L878.82,478.45 L877.77,477.42 L877.14,476.83 L876.72,476.52 L875.67,475.78 L874.62,475.09 L874.39,474.94 L873.58,474.49 L872.53,473.92 L871.48,473.39 L870.78,473.05 L871.48,472.71 L872.53,472.16 L873.58,471.58 L874.31,471.17 L874.62,471.05 L875.67,470.63 L876.72,470.18 L877.77,469.7 L878.64,469.28 L877.77,468.84 L876.72,468.34 L875.67,467.88 L874.62,467.44 L874.5,467.39 L873.58,466.8 L872.53,466.15 L871.48,465.54 L871.42,465.51 L871.48,465.49 L872.53,465.08 L873.58,464.65 L874.62,464.2 L875.67,463.73 L875.92,463.62 L876.72,463.23 L877.77,462.7 L878.82,462.12 L879.48,461.73 L878.82,461.13 L877.77,460.24 L877.27,459.85 L876.72,459.42 L875.67,458.64 L874.69,457.96 L874.97,456.07 L875.24,454.19 L875.24,452.3 L875.24,450.41 L874.62,449.71 L873.58,448.57 L873.54,448.53 L872.53,447.88 L871.48,447.26 L870.43,446.66 L870.39,446.64 L869.38,446.28 L868.34,445.93 L867.29,445.6 L866.24,445.29 L865.19,445.01 L864.21,444.75 L864.14,444.74 L863.1,444.54 L862.05,444.34 L861,444.19 L859.95,444.12 L858.9,444.05 L857.86,443.99 L856.81,443.92 L855.76,443.86 L854.71,443.9 L853.66,443.98 L852.62,444.05 L851.57,444.14 L850.52,444.22 L849.47,444.3 L848.42,444.48 L847.38,444.73 L847.29,444.75 L846.33,445.06 L845.28,445.42 L844.23,445.8 L843.18,446.21 L842.15,446.64 L842.14,446.65 L841.09,447.39 L840.04,448.23 L839.68,448.53 L838.99,449.53 L838.41,450.41 L838.41,452.3 L838.41,454.19 L838.62,456.07 L838.82,457.96 L837.94,458.79 L836.91,459.85 L836.9,459.86 L835.85,461.04 L835.28,461.73 L835.85,462.18 L836.9,462.94 L837.92,463.62 L837.94,463.64 L838.99,464.27 L840.04,464.86 L841.09,465.4 L841.32,465.51 L841.09,465.67 L840.04,466.49 L838.99,467.37 L838.96,467.39 L837.94,467.97 L836.9,468.61 L835.9,469.28 L836.9,469.92 L837.94,470.54 L838.99,471.11 L839.1,471.17 L840.04,471.87 L841.09,472.59 L841.83,473.05 L841.09,473.51 L840.04,474.21 L839.05,474.94 L838.99,474.99 L837.94,475.92 L837.01,476.83 L836.9,476.97 L835.85,478.35 L835.58,478.71 Z" fill="#47b989" fill-rule="evenodd" stroke="#000" stroke-width="0.6" stroke-opacity="0.9"/>
<path d="M840.13,480.6 L841.09,480.6 L842.14,480.6 L843.18,480.6 L844.23,480.6 L845.28,480.6 L846.33,480.6 L847.38,480.6 L848.42,480.6 L849.47,480.6 L850.52,480.6 L851.57,480.6 L852.62,480.6 L853.66,480.6 L854.71,480.6 L855.76,480.6 L856.81,480.6 L857.86,480.6 L858.9,480.6 L859.95,480.6 L861,480.6 L862.05,480.6 L863.1,480.6 L864.14,480.6 L865.19,480.6 L866.24,480.6 L867.29,480.6 L868.34,480.6 L869.38,480.6 L870.43,480.6 L871.48,480.6 L872.53,480.6 L872.95,480.6 L872.53,479.77 L871.97,478.71 L871.48,478.29 L870.43,477.43 L869.66,476.83 L869.38,476.65 L868.34,476.03 L867.29,475.43 L866.36,474.94 L866.24,474.88 L865.19,474.43 L864.14,474 L863.1,473.59 L862.05,473.2 L861.56,473.05 L862.05,472.9 L863.1,472.5 L864.14,472.08 L865.19,471.64 L866.24,471.18 L866.27,471.17 L867.29,470.84 L868.34,470.48 L869.38,470.1 L870.43,469.7 L871.46,469.28 L870.43,468.85 L869.38,468.43 L868.34,468.03 L867.29,467.66 L866.5,467.39 L866.24,467.26 L865.19,466.74 L864.14,466.24 L863.1,465.77 L862.49,465.51 L863.1,465.33 L864.14,465.02 L865.19,464.69 L866.24,464.35 L867.29,463.97 L868.2,463.62 L868.34,463.57 L869.38,463.14 L870.43,462.69 L871.48,462.21 L872.47,461.73 L871.48,460.99 L870.43,460.25 L869.83,459.85 L869.38,459.56 L868.34,458.9 L867.29,458.28 L866.73,457.96 L867.06,456.07 L867.29,454.8 L867.39,454.19 L867.39,452.3 L867.39,450.41 L867.29,450.31 L866.24,449.34 L865.28,448.53 L865.19,448.48 L864.14,447.98 L863.1,447.49 L862.05,447.03 L861,446.66 L860.85,446.64 L859.95,446.55 L858.9,446.44 L857.86,446.34 L856.81,446.24 L855.76,446.14 L854.71,446.2 L853.66,446.32 L852.62,446.45 L851.57,446.57 L851.03,446.64 L850.52,446.74 L849.47,446.94 L848.42,447.36 L847.38,447.96 L846.43,448.53 L846.33,448.63 L845.28,449.75 L844.69,450.41 L844.69,452.3 L844.69,454.19 L844.97,456.07 L845.25,457.96 L844.23,458.66 L843.18,459.42 L842.62,459.85 L842.14,460.23 L841.09,461.17 L840.51,461.73 L841.09,462.1 L842.14,462.7 L843.18,463.23 L844,463.62 L844.23,463.72 L845.28,464.19 L846.33,464.62 L847.38,465.03 L848.42,465.42 L848.76,465.51 L848.42,465.64 L847.38,466.23 L846.33,466.84 L845.44,467.39 L845.28,467.46 L844.23,467.89 L843.18,468.34 L842.14,468.83 L841.29,469.28 L842.14,469.71 L843.18,470.18 L844.23,470.62 L845.28,471.03 L845.64,471.17 L846.33,471.55 L847.38,472.1 L848.42,472.61 L849.47,472.99 L849.88,473.05 L849.47,473.12 L848.42,473.48 L847.38,473.99 L846.33,474.52 L845.56,474.94 L845.28,475.11 L844.23,475.8 L843.18,476.52 L842.76,476.83 L842.14,477.4 L841.09,478.49 L840.89,478.71 Z" fill="#afbe49" fill-rule="evenodd" stroke="#000" stroke-width="0.6" stroke-opacity="0.9"/>
<path d="M845.64,480.6 L846.33,480.6 L847.38,480.6 L848.42,480.6 L849.47,480.6 L850.52,480.6 L851.57,480.6 L852.62,480.6 L853.66,480.6 L854.71,480.6 L855.76,480.6 L856.81,480.6 L857.86,480.6 L858.9,480.6 L859.95,480.6 L861,480.6 L862.05,480.6 L863.1,480.6 L864.14,480.6 L865.19,480.6 L866.24,480.6 L866.27,480.6 L866.24,480.55 L865.19,478.96 L865.03,478.71 L864.14,478.12 L863.1,477.44 L862.1,476.83 L862.05,476.8 L861,476.38 L859.95,476.2 L858.9,476.02 L857.86,475.84 L856.81,475.66 L855.76,475.49 L854.71,475.59 L853.66,475.81 L852.62,476.02 L851.57,476.24 L850.52,476.46 L849.47,476.69 L849.18,476.83 L848.42,477.26 L847.38,478.09 L846.64,478.71 L846.33,479.28 Z M847.16,469.28 L847.38,469.37 L848.42,469.78 L849.47,470.08 L850.52,470.21 L851.57,470.35 L852.62,470.48 L853.66,470.61 L854.71,470.74 L855.76,470.8 L856.81,470.7 L857.86,470.59 L858.9,470.49 L859.95,470.38 L861,470.27 L862.05,470.01 L863.1,469.69 L864.14,469.36 L864.38,469.28 L864.14,469.2 L863.1,468.85 L862.05,468.52 L861,468.26 L859.95,468.14 L858.9,468.03 L857.86,467.91 L856.81,467.8 L855.76,467.7 L854.71,467.76 L853.66,467.89 L852.62,468.03 L851.57,468.17 L850.52,468.31 L849.47,468.45 L848.42,468.76 L847.38,469.19 Z M852.96,463.62 L853.66,463.72 L854.71,463.86 L855.76,463.93 L856.81,463.81 L857.86,463.69 L858.51,463.62 L858.9,463.57 L859.95,463.45 L861,463.33 L862.05,463.04 L863.1,462.68 L864.14,462.31 L865.19,461.91 L865.66,461.73 L865.19,461.45 L864.14,460.85 L863.1,460.26 L862.31,459.85 L862.05,459.71 L861,459.27 L859.95,459.08 L858.9,458.89 L857.86,458.7 L856.81,458.52 L855.76,458.34 L854.71,458.45 L853.66,458.67 L852.62,458.89 L851.57,459.12 L850.52,459.36 L849.47,459.6 L848.96,459.85 L848.42,460.11 L847.38,460.83 L846.33,461.58 L846.13,461.73 L846.33,461.83 L847.38,462.32 L848.42,462.78 L849.47,463.11 L850.52,463.27 L851.57,463.42 L852.62,463.57 Z M855.76,454.19 L855.76,454.19 L855.76,454.19 L855.76,452.3 L855.76,450.41 L855.76,450.41 L855.76,450.41 L855.76,452.3 Z" fill="#f2c137" fill-rule="evenodd" stroke="#000" stroke-width="0.6" stroke-opacity="0.9"/>
</g>
<line x1="808.3" y1="367.4" x2="992" y2="367.4" stroke="#000" stroke-width="0.9"/>
<line x1="808.6" y1="367.4" x2="808.6" y2="480.6" stroke="#000" stroke-width="0.9"/>
<line x1="834.8" y1="367.4" x2="834.8" y2="369" stroke="#000" stroke-width="0.6"/>
<line x1="834.8" y1="480.6" x2="834.8" y2="479" stroke="#000" stroke-width="0.6"/>
<line x1="887.2" y1="367.4" x2="887.2" y2="369" stroke="#000" stroke-width="0.6"/>
<line x1="887.2" y1="480.6" x2="887.2" y2="479" stroke="#000" stroke-width="0.6"/>
<line x1="939.6" y1="367.4" x2="939.6" y2="369" stroke="#000" stroke-width="0.6"/>
<line x1="939.6" y1="480.6" x2="939.6" y2="479" stroke="#000" stroke-width="0.6"/>
<line x1="808.6" y1="442.87" x2="810.2" y2="442.87" stroke="#000" stroke-width="0.6"/>
<line x1="992" y1="442.87" x2="990.4" y2="442.87" stroke="#000" stroke-width="0.6"/>
<line x1="808.6" y1="405.13" x2="810.2" y2="405.13" stroke="#000" stroke-width="0.6"/>
<line x1="992" y1="405.13" x2="990.4" y2="405.13" stroke="#000" stroke-width="0.6"/>
<g font-family='"Liberation Serif", serif' font-weight="bold" font-size="12.8" fill="#111">
<text x="834.8" y="496.5" text-anchor="middle">300</text>
<text x="887.2" y="496.5" text-anchor="middle">400</text>
<text x="939.6" y="496.5" text-anchor="middle">500</text>
<text x="992" y="496.5" text-anchor="middle">600</text>
<text x="804" y="485.3" text-anchor="end">200</text>
<text x="804" y="447.57" text-anchor="end">300</text>
<text x="804" y="409.83" text-anchor="end">400</text>
<text x="804" y="372.1" text-anchor="end">500</text>
<text x="900.3" y="513" text-anchor="middle" font-size="14">Em. (nm)</text>
<text transform="translate(781.6,424) rotate(-90)" text-anchor="middle" font-size="14">Ex. (nm)</text>
<text x="827.8" y="392.8" font-size="14">C4</text>
</g>
</g>
<g>
<clipPath id="ccc1"><polygon points="62.6,807.4 193.6,711.4 246,711.4 246,826.6 62.6,826.6"/></clipPath>
<polygon points="62.6,807.4 193.6,711.4 246,711.4 246,826.6 62.6,826.6" fill="#362c8c"/>
<g clip-path="url(#ccc1)">
<path d="M125.96,822.76 L126.53,822.82 L127.58,822.93 L128.62,822.97 L129.67,823.01 L130.72,823.04 L131.77,823.07 L132.82,823.1 L133.86,823.13 L134.91,823.15 L135.96,823.14 L137.01,823.12 L138.06,823.09 L139.1,823.07 L140.15,823.04 L141.2,823.01 L142.25,822.94 L143.3,822.88 L144.34,822.81 L145.04,822.76 L145.39,822.73 L146.44,822.64 L147.49,822.54 L148.54,822.43 L149.58,822.31 L150.63,822.18 L151.68,822.07 L152.73,821.96 L153.78,821.85 L154.82,821.73 L155.87,821.61 L156.92,821.47 L157.97,821.33 L159.02,821.18 L160.06,821.01 L160.93,820.84 L161.11,820.8 L162.16,820.59 L163.21,820.36 L164.26,820.1 L165.3,819.81 L166.35,819.5 L167.4,819.14 L167.99,818.92 L168.45,818.74 L169.5,818.33 L170.54,817.87 L171.59,817.35 L172.23,817 L172.64,816.71 L173.69,815.87 L174.54,815.08 L174.74,814.48 L175.15,813.16 L175.47,811.24 L174.74,810.38 L173.69,809.33 L173.67,809.32 L172.64,808.46 L171.59,807.71 L171.12,807.4 L170.54,807.05 L169.5,806.47 L168.45,805.95 L167.49,805.48 L167.4,805.45 L166.35,805.12 L165.3,804.83 L164.26,804.57 L163.21,804.33 L162.16,804.12 L161.11,803.92 L160.06,803.74 L159.02,803.6 L158.73,803.56 L157.97,803.17 L156.92,802.66 L155.87,802.18 L154.82,801.73 L154.59,801.64 L154.47,799.72 L154.37,797.8 L154.28,795.88 L153.88,793.96 L153.78,793.94 L152.73,793.76 L151.68,793.58 L150.63,793.39 L149.58,793.18 L148.54,792.98 L147.49,792.8 L146.44,792.62 L145.39,792.46 L144.34,792.34 L143.3,792.23 L142.25,792.12 L141.4,792.04 L141.2,791.99 L140.15,791.84 L139.1,791.73 L138.06,791.63 L137.01,791.53 L135.96,791.42 L134.91,791.36 L133.86,791.48 L132.82,791.6 L131.77,791.73 L130.72,791.86 L129.67,791.99 L129.29,792.04 L128.62,792.07 L127.58,792.15 L126.53,792.32 L125.48,792.51 L124.43,792.71 L123.38,792.94 L122.34,793.34 L121.29,793.81 L120.98,793.96 L120.84,795.88 L120.8,797.8 L120.77,799.72 L120.72,801.64 L120.24,802.21 L119.23,803.56 L119.19,803.57 L118.14,803.99 L117.1,804.51 L116.05,805.17 L115.64,805.48 L115,806.27 L114.12,807.4 L113.95,807.64 L112.92,809.32 L112.9,809.36 L112.08,811.24 L112.23,813.16 L112.52,815.08 L112.9,815.84 L113.6,817 L113.95,817.41 L115,818.49 L115.43,818.92 L116.05,819.44 L117.1,820.17 L118.14,820.73 L118.38,820.84 L119.19,821.21 L120.24,821.6 L121.29,821.93 L122.34,822.21 L123.38,822.45 L124.43,822.59 L125.48,822.71 Z" fill="#3572bc" fill-rule="evenodd" stroke="#000" stroke-width="0.6" stroke-opacity="0.9"/>
<path d="M123.35,818.92 L123.38,818.93 L124.43,819.21 L125.48,819.45 L126.53,819.68 L127.58,819.89 L128.62,819.98 L129.67,820.04 L130.72,820.11 L131.77,820.17 L132.82,820.22 L133.86,820.28 L134.91,820.34 L135.96,820.31 L137.01,820.26 L138.06,820.21 L139.1,820.16 L140.15,820.11 L141.2,820.04 L142.25,819.92 L143.3,819.79 L144.34,819.65 L145.39,819.51 L146.44,819.31 L147.49,819.11 L148.37,818.92 L148.54,818.88 L149.58,818.64 L150.63,818.38 L151.68,818.15 L152.73,817.94 L153.78,817.71 L154.82,817.47 L155.87,817.21 L156.7,817 L156.92,816.93 L157.97,816.57 L159.02,816.19 L160.06,815.77 L161.11,815.25 L161.45,815.08 L162.16,813.91 L162.6,813.16 L163.21,811.24 L162.16,810.59 L161.11,809.99 L160.06,809.44 L159.79,809.32 L159.02,809 L157.97,808.6 L156.92,808.23 L155.87,807.89 L154.82,807.56 L154.28,807.4 L153.78,807.26 L152.73,806.97 L151.68,806.7 L150.63,806.4 L149.58,806.07 L148.54,805.77 L147.49,805.48 L147.48,805.48 L146.44,805.29 L145.39,805.11 L144.34,804.98 L143.3,804.85 L142.25,804.73 L141.2,804.62 L140.15,804.56 L139.1,804.51 L138.06,804.47 L137.01,804.42 L135.96,804.38 L134.91,804.35 L133.86,804.4 L132.82,804.46 L131.77,804.51 L130.72,804.56 L129.67,804.62 L128.62,804.68 L127.58,804.77 L126.53,804.96 L125.48,805.16 L124.43,805.39 L124.04,805.48 L123.38,805.7 L122.34,806.33 L121.29,807.05 L120.84,807.4 L120.24,807.91 L119.19,808.93 L118.84,809.32 L118.14,810.19 L117.43,811.24 L117.68,813.16 L118.14,815.02 L118.16,815.08 L119.19,816.26 L119.96,817 L120.24,817.2 L121.29,817.87 L122.34,818.44 Z" fill="#1eb4aa" fill-rule="evenodd" stroke="#000" stroke-width="0.6" stroke-opacity="0.9"/>
<path d="M126.16,817 L126.53,817.11 L127.58,817.42 L128.62,817.56 L129.67,817.65 L130.72,817.74 L131.77,817.82 L132.82,817.91 L133.86,817.99 L134.91,818.08 L135.96,818.03 L137.01,817.96 L138.06,817.89 L139.1,817.82 L140.15,817.75 L141.2,817.65 L142.25,817.47 L143.3,817.28 L144.34,817.08 L144.74,817 L145.39,816.83 L146.44,816.49 L147.49,816.12 L148.54,815.72 L149.58,815.3 L150.09,815.08 L150.63,814.35 L151.63,813.16 L151.68,813.05 L152.64,811.24 L151.68,810.87 L150.63,810.43 L149.58,809.94 L148.54,809.49 L148.13,809.32 L147.49,809.07 L146.44,808.69 L145.39,808.33 L144.34,808.06 L143.3,807.8 L142.25,807.57 L141.5,807.4 L141.2,807.34 L140.15,807.21 L139.1,807.11 L138.06,807.02 L137.01,806.93 L135.96,806.85 L134.91,806.79 L133.86,806.9 L132.82,807 L131.77,807.11 L130.72,807.22 L129.67,807.34 L129.09,807.4 L128.62,807.45 L127.58,807.63 L126.53,808.01 L125.48,808.43 L124.43,808.88 L123.52,809.32 L123.38,809.39 L122.34,810.32 L121.43,811.24 L121.8,813.16 L122.34,814.67 L122.49,815.08 L123.38,815.81 L124.43,816.3 L125.48,816.74 Z" fill="#d4bc3a" fill-rule="evenodd" stroke="#000" stroke-width="0.6" stroke-opacity="0.9"/>
<path d="M127.67,815.08 L128.62,815.27 L129.67,815.41 L130.72,815.55 L131.77,815.68 L132.82,815.81 L133.86,815.94 L134.91,816.06 L135.96,816 L137.01,815.89 L138.06,815.79 L139.1,815.68 L140.15,815.57 L141.2,815.41 L142.25,815.13 L142.45,815.08 L143.3,814.37 L144.34,813.46 L144.67,813.16 L145.39,811.95 L145.73,811.24 L145.39,811.1 L144.34,810.75 L143.3,810.42 L142.25,810.12 L141.2,809.82 L140.15,809.65 L139.1,809.54 L138.06,809.42 L137.14,809.32 L137.01,809.31 L135.96,809.2 L134.91,809.13 L133.86,809.26 L133.37,809.32 L132.82,809.39 L131.77,809.53 L130.72,809.67 L129.67,809.82 L128.62,809.97 L127.58,810.19 L126.53,810.69 L125.48,811.23 L125.45,811.24 L125.48,811.31 L126.21,813.16 L126.53,813.61 L127.58,815.02 Z" fill="#f5eb28" fill-rule="evenodd" stroke="#000" stroke-width="0.6" stroke-opacity="0.9"/>
</g>
<line x1="62.3" y1="711.4" x2="246" y2="711.4" stroke="#000" stroke-width="0.9"/>
<line x1="62.6" y1="711.4" x2="62.6" y2="826.6" stroke="#777" stroke-width="0.5"/>
<line x1="88.8" y1="711.4" x2="88.8" y2="713" stroke="#000" stroke-width="0.6"/>
<line x1="88.8" y1="826.6" x2="88.8" y2="825" stroke="#000" stroke-width="0.6"/>
<line x1="141.2" y1="711.4" x2="141.2" y2="713" stroke="#000" stroke-width="0.6"/>
<line x1="141.2" y1="826.6" x2="141.2" y2="825" stroke="#000" stroke-width="0.6"/>
<line x1="193.6" y1="711.4" x2="193.6" y2="713" stroke="#000" stroke-width="0.6"/>
<line x1="193.6" y1="826.6" x2="193.6" y2="825" stroke="#000" stroke-width="0.6"/>
<line x1="62.6" y1="788.2" x2="64.2" y2="788.2" stroke="#000" stroke-width="0.6"/>
<line x1="246" y1="788.2" x2="244.4" y2="788.2" stroke="#000" stroke-width="0.6"/>
<line x1="62.6" y1="749.8" x2="64.2" y2="749.8" stroke="#000" stroke-width="0.6"/>
<line x1="246" y1="749.8" x2="244.4" y2="749.8" stroke="#000" stroke-width="0.6"/>
<g font-family='"Liberation Serif", serif' font-weight="bold" font-size="12.8" fill="#111">
<text x="88.8" y="842.5" text-anchor="middle">300</text>
<text x="141.2" y="842.5" text-anchor="middle">400</text>
<text x="193.6" y="842.5" text-anchor="middle">500</text>
<text x="246" y="842.5" text-anchor="middle">600</text>
<text x="58" y="831.3" text-anchor="end">200</text>
<text x="58" y="792.9" text-anchor="end">300</text>
<text x="58" y="754.5" text-anchor="end">400</text>
<text x="58" y="716.1" text-anchor="end">500</text>
<text x="154.3" y="859" text-anchor="middle" font-size="14">Em. (nm)</text>
<text transform="translate(35.6,769) rotate(-90)" text-anchor="middle" font-size="14">Ex. (nm)</text>
<text x="81.6" y="736" font-size="14">C1</text>
</g>
</g>
<g>
<clipPath id="ccc2"><polygon points="307.4,807.4 438.26,711.4 490.6,711.4 490.6,826.6 307.4,826.6"/></clipPath>
<polygon points="307.4,807.4 438.26,711.4 490.6,711.4 490.6,826.6 307.4,826.6" fill="#362c8c"/>
<g clip-path="url(#ccc2)">
<path d="M368.22,824.68 L369.16,824.98 L370.21,825.14 L371.26,825.27 L372.31,825.39 L373.35,825.5 L374.4,825.61 L375.45,825.69 L376.49,825.69 L377.54,825.69 L378.59,825.69 L379.63,825.69 L380.68,825.69 L381.73,825.59 L382.77,825.45 L383.82,825.3 L384.87,825.15 L385.91,824.99 L386.96,824.82 L387.55,824.68 L388.01,824.35 L389.05,823.57 L390.09,822.76 L389.05,822.22 L388.01,821.7 L386.96,821.21 L385.91,820.86 L385.87,820.84 L384.87,820.66 L383.82,820.47 L382.77,820.3 L381.73,820.13 L380.68,820.01 L379.63,820.01 L378.59,820.01 L377.54,820.01 L376.49,820.01 L375.45,820.01 L374.4,820.1 L373.35,820.24 L372.31,820.38 L371.26,820.52 L370.21,820.67 L369.27,820.84 L369.16,820.87 L368.12,821.55 L367.07,822.29 L366.45,822.76 L367.07,823.47 L368.12,824.57 Z M364.69,809.32 L364.98,809.39 L366.02,809.65 L367.07,809.88 L368.12,810.1 L369.16,810.29 L370.21,810.39 L371.26,810.46 L372.31,810.53 L373.35,810.59 L374.4,810.66 L375.45,810.7 L376.49,810.7 L377.54,810.7 L378.59,810.7 L379.63,810.7 L380.68,810.7 L381.73,810.65 L382.77,810.56 L383.82,810.48 L384.87,810.39 L385.91,810.3 L386.96,810.2 L388.01,810.05 L389.05,809.9 L390.1,809.74 L391.15,809.57 L392.2,809.39 L392.54,809.32 L393.24,809.2 L394.29,808.99 L395.34,808.75 L396.38,808.5 L397.43,808.21 L398.48,807.89 L399.52,807.58 L400.06,807.4 L400.57,807.24 L401.62,806.86 L402.66,806.44 L403.71,805.97 L404.74,805.48 L404.76,805.47 L405.8,804.99 L406.85,804.44 L407.9,803.81 L408.28,803.56 L408.95,803.17 L409.99,802.47 L411.03,801.64 L411.04,801.64 L412.09,801 L413.13,800.42 L414.18,799.76 L414.23,799.72 L415.23,799.01 L416.27,798.13 L416.62,797.8 L417.32,797.14 L418.37,795.97 L418.47,795.88 L419.41,794.88 L420.38,793.96 L420.46,793.88 L421.51,792.67 L422,792.04 L422.55,790.51 L422.69,790.12 L423.24,788.2 L423.01,786.28 L422.66,784.36 L422.55,784.19 L421.51,782.61 L421.38,782.44 L420.46,781.39 L419.6,780.52 L419.41,780.37 L418.37,779.43 L417.57,778.6 L417.32,778.37 L416.27,777.49 L415.23,776.76 L415.11,776.68 L414.18,776.13 L413.13,775.58 L412.09,775.11 L411.4,774.76 L411.04,774.55 L409.99,773.87 L408.95,773.3 L407.96,772.84 L407.9,772.81 L406.85,772.34 L405.8,771.93 L404.76,771.57 L403.71,771.21 L402.85,770.92 L402.66,770.84 L401.62,770.43 L400.57,770.07 L399.52,769.76 L398.48,769.47 L397.43,769.18 L396.7,769 L396.38,768.92 L395.34,768.67 L394.29,768.45 L393.24,768.25 L392.2,768.08 L391.15,767.95 L390.1,767.82 L389.05,767.7 L388.01,767.59 L386.96,767.49 L385.91,767.41 L384.87,767.34 L383.82,767.28 L382.77,767.22 L381.73,767.16 L380.68,767.11 L379.63,767.11 L378.59,767.11 L377.54,767.11 L376.49,767.11 L375.45,767.11 L374.4,767.15 L373.35,767.2 L372.31,767.25 L371.26,767.3 L370.21,767.35 L369.16,767.42 L368.12,767.56 L367.07,767.72 L366.02,767.89 L364.98,768.08 L363.93,768.29 L362.88,768.55 L361.84,768.86 L361.42,769 L360.79,769.21 L359.74,769.61 L358.7,770.07 L357.65,770.63 L357.17,770.92 L356.6,771.21 L355.56,771.83 L354.51,772.56 L354.09,772.84 L353.46,773.25 L352.41,774.07 L351.69,774.76 L351.37,775.05 L350.32,776.2 L349.97,776.68 L349.27,777.8 L348.69,778.6 L348.23,779.32 L347.43,780.52 L347.18,781.06 L346.6,782.44 L346.13,783.92 L346.01,784.36 L345.85,786.28 L345.74,788.2 L345.99,790.12 L346.13,790.98 L346.32,792.04 L347.07,793.96 L347.18,794.19 L348.09,795.88 L348.23,796.1 L349.27,797.76 L349.29,797.8 L350.32,799.67 L350.35,799.72 L351.37,801.07 L351.9,801.64 L352.41,802.23 L353.46,803.23 L353.86,803.56 L354.51,804.14 L355.56,805.12 L355.98,805.48 L356.6,805.97 L357.65,806.66 L358.7,807.24 L359.03,807.4 L359.74,807.74 L360.79,808.18 L361.84,808.56 L362.88,808.89 L363.93,809.16 Z" fill="#3b469e" fill-rule="evenodd" stroke="#000" stroke-width="0.6" stroke-opacity="0.9"/>
<path d="M364.97,805.48 L364.98,805.48 L366.02,805.84 L367.07,806.17 L368.12,806.47 L369.16,806.74 L370.21,806.87 L371.26,806.97 L372.31,807.07 L373.35,807.16 L374.4,807.25 L375.45,807.31 L376.49,807.31 L377.54,807.31 L378.59,807.31 L379.63,807.31 L380.68,807.31 L381.73,807.23 L382.77,807.12 L383.82,807 L384.87,806.88 L385.91,806.75 L386.96,806.6 L388.01,806.41 L389.05,806.2 L390.1,805.97 L391.15,805.74 L392.2,805.48 L392.2,805.48 L393.24,805.17 L394.29,804.8 L395.34,804.39 L396.38,803.94 L397.18,803.56 L397.43,803.46 L398.48,803 L399.52,802.55 L400.57,802.04 L401.32,801.64 L401.62,801.5 L402.66,800.97 L403.71,800.37 L404.76,799.75 L404.82,799.72 L405.8,799.14 L406.85,798.45 L407.72,797.8 L407.9,797.66 L408.95,796.81 L409.93,795.88 L409.99,795.81 L411.04,794.55 L411.59,793.96 L412.09,793.35 L413.13,792.22 L413.29,792.04 L414.07,790.12 L414.18,789.81 L414.7,788.2 L414.43,786.28 L414.18,785.04 L414.04,784.36 L413.13,783.12 L412.59,782.44 L412.09,781.92 L411.04,780.68 L410.92,780.52 L409.99,779.57 L408.95,778.66 L408.87,778.6 L407.9,777.89 L406.85,777.22 L405.88,776.68 L405.8,776.64 L404.76,776.13 L403.71,775.62 L402.66,775.13 L401.77,774.76 L401.62,774.69 L400.57,774.22 L399.52,773.81 L398.48,773.44 L397.43,773.06 L396.74,772.84 L396.38,772.72 L395.34,772.38 L394.29,772.07 L393.24,771.79 L392.2,771.56 L391.15,771.37 L390.1,771.2 L389.05,771.04 L388.24,770.92 L388.01,770.88 L386.96,770.69 L385.91,770.55 L384.87,770.42 L383.82,770.3 L382.77,770.19 L381.73,770.08 L380.68,770 L379.63,770 L378.59,770 L377.54,770 L376.49,770 L375.45,770 L374.4,770.06 L373.35,770.15 L372.31,770.24 L371.26,770.33 L370.21,770.43 L369.16,770.55 L368.12,770.82 L367.74,770.92 L367.07,771.06 L366.02,771.3 L364.98,771.56 L363.93,771.84 L362.88,772.2 L361.84,772.64 L361.39,772.84 L360.79,773.1 L359.74,773.62 L358.7,774.22 L357.9,774.76 L357.65,774.91 L356.6,775.62 L355.56,776.51 L355.36,776.68 L354.51,777.54 L353.46,778.58 L353.45,778.6 L352.41,779.88 L351.98,780.52 L351.37,781.78 L351.09,782.44 L350.44,784.36 L350.32,785.68 L350.27,786.28 L350.15,788.2 L350.32,789.41 L350.43,790.12 L350.78,792.04 L351.37,793.48 L351.59,793.96 L352.41,795.45 L352.69,795.88 L353.46,796.9 L354.26,797.8 L354.51,798.07 L355.56,799.3 L355.94,799.72 L356.6,800.37 L357.65,801.25 L358.2,801.64 L358.7,802.04 L359.74,802.78 L360.79,803.41 L361.06,803.56 L361.84,804.05 L362.88,804.62 L363.93,805.1 Z" fill="#3a62b1" fill-rule="evenodd" stroke="#000" stroke-width="0.6" stroke-opacity="0.9"/>
<path d="M368.92,803.56 L369.16,803.65 L370.21,803.84 L371.26,803.98 L372.31,804.12 L373.35,804.25 L374.4,804.38 L375.45,804.47 L376.49,804.47 L377.54,804.47 L378.59,804.47 L379.63,804.47 L380.68,804.47 L381.73,804.36 L382.77,804.19 L383.82,804.02 L384.87,803.85 L385.91,803.66 L386.43,803.56 L386.96,803.47 L388.01,803.24 L389.05,802.99 L390.1,802.73 L391.15,802.45 L392.2,802.15 L393.24,801.77 L393.56,801.64 L394.29,801.38 L395.34,800.98 L396.38,800.53 L397.43,800.03 L398.04,799.72 L398.48,799.49 L399.52,798.95 L400.57,798.35 L401.43,797.8 L401.62,797.68 L402.66,796.98 L403.71,796.17 L404.1,795.88 L404.76,795.32 L405.8,794.43 L406.31,793.96 L406.85,793.4 L407.9,792.19 L408.01,792.04 L408.74,790.12 L408.95,789.47 L409.32,788.2 L409.08,786.28 L408.95,785.58 L408.71,784.36 L407.9,783.16 L407.37,782.44 L406.85,781.86 L405.8,780.81 L405.49,780.52 L404.76,780 L403.71,779.24 L402.8,778.6 L402.66,778.51 L401.62,777.87 L400.57,777.31 L399.52,776.8 L399.25,776.68 L398.48,776.35 L397.43,775.9 L396.38,775.49 L395.34,775.13 L394.29,774.8 L394.17,774.76 L393.24,774.44 L392.2,774.13 L391.15,773.89 L390.1,773.66 L389.05,773.44 L388.01,773.24 L386.96,773.05 L385.91,772.92 L385.28,772.84 L384.87,772.79 L383.82,772.65 L382.77,772.52 L381.73,772.4 L380.68,772.31 L379.63,772.31 L378.59,772.31 L377.54,772.31 L376.49,772.31 L375.45,772.31 L374.4,772.38 L373.35,772.48 L372.31,772.58 L371.26,772.69 L370.21,772.79 L369.86,772.84 L369.16,772.92 L368.12,773.19 L367.07,773.47 L366.02,773.78 L364.98,774.13 L363.93,774.51 L363.35,774.76 L362.88,774.94 L361.84,775.41 L360.79,775.95 L359.74,776.57 L359.58,776.68 L358.7,777.31 L357.65,778.18 L357.21,778.6 L356.6,779.24 L355.58,780.52 L355.56,780.56 L354.51,782.44 L354.51,782.44 L353.56,784.36 L353.46,785.04 L353.29,786.28 L353.12,788.2 L353.46,789.81 L353.53,790.12 L354.05,792.04 L354.51,792.82 L355.11,793.96 L355.56,794.66 L356.37,795.88 L356.6,796.17 L357.65,797.34 L358.12,797.8 L358.7,798.35 L359.74,799.22 L360.42,799.72 L360.79,799.98 L361.84,800.64 L362.88,801.21 L363.83,801.64 L363.93,801.69 L364.98,802.15 L366.02,802.58 L367.07,802.96 L368.12,803.31 Z" fill="#3082c6" fill-rule="evenodd" stroke="#000" stroke-width="0.6" stroke-opacity="0.9"/>
<path d="M372.26,801.64 L372.31,801.65 L373.35,801.79 L374.4,801.93 L375.45,802.03 L376.49,802.03 L377.54,802.03 L378.59,802.03 L379.63,802.03 L380.68,802.03 L381.73,801.91 L382.77,801.73 L383.28,801.64 L383.82,801.56 L384.87,801.4 L385.91,801.24 L386.96,801.06 L388.01,800.81 L389.05,800.54 L390.1,800.26 L391.15,799.95 L391.91,799.72 L392.2,799.63 L393.24,799.23 L394.29,798.76 L395.34,798.23 L396.13,797.8 L396.38,797.66 L397.43,797.07 L398.48,796.41 L399.33,795.88 L399.52,795.75 L400.57,794.97 L401.62,794.09 L401.77,793.96 L402.66,793.06 L403.58,792.04 L403.71,791.72 L404.42,790.12 L404.76,789.19 L405.15,788.2 L404.82,786.28 L404.76,786.03 L404.38,784.36 L403.71,783.5 L402.89,782.44 L402.66,782.2 L401.62,781.16 L400.9,780.52 L400.57,780.29 L399.52,779.63 L398.48,779.03 L397.74,778.6 L397.43,778.43 L396.38,777.89 L395.34,777.4 L394.29,776.96 L393.55,776.68 L393.24,776.56 L392.2,776.23 L391.15,775.97 L390.1,775.72 L389.05,775.49 L388.01,775.27 L386.96,775.06 L385.91,774.91 L384.87,774.78 L384.72,774.76 L383.82,774.62 L382.77,774.47 L381.73,774.33 L380.68,774.23 L379.63,774.23 L378.59,774.23 L377.54,774.23 L376.49,774.23 L375.45,774.23 L374.4,774.31 L373.35,774.42 L372.31,774.54 L371.26,774.66 L370.47,774.76 L370.21,774.79 L369.16,774.92 L368.12,775.21 L367.07,775.52 L366.02,775.86 L364.98,776.23 L363.93,776.64 L363.84,776.68 L362.88,777.15 L361.84,777.77 L360.79,778.49 L360.64,778.6 L359.74,779.32 L358.7,780.29 L358.48,780.52 L357.65,781.66 L357.15,782.44 L356.6,783.5 L356.2,784.36 L355.94,786.28 L355.77,788.2 L356.18,790.12 L356.6,791.72 L356.69,792.04 L357.65,793.6 L357.9,793.96 L358.7,794.97 L359.52,795.88 L359.74,796.09 L360.79,797.01 L361.84,797.79 L361.85,797.8 L362.88,798.53 L363.93,799.15 L364.98,799.63 L365.17,799.72 L366.02,800.09 L367.07,800.5 L368.12,800.88 L369.16,801.23 L370.21,801.4 L371.26,801.52 Z" fill="#269cbf" fill-rule="evenodd" stroke="#000" stroke-width="0.6" stroke-opacity="0.9"/>
<path d="M372.35,799.72 L373.35,799.86 L374.4,800.01 L375.45,800.11 L376.49,800.11 L377.54,800.11 L378.59,800.11 L379.63,800.11 L380.68,800.11 L381.73,799.98 L382.77,799.8 L383.22,799.72 L383.82,799.61 L384.87,799.42 L385.91,799.22 L386.96,799 L388.01,798.69 L389.05,798.37 L390.1,798.02 L390.75,797.8 L391.15,797.67 L392.2,797.3 L393.24,796.85 L394.29,796.3 L395.03,795.88 L395.34,795.69 L396.38,794.98 L397.43,794.2 L397.73,793.96 L398.48,793.3 L399.52,792.38 L399.89,792.04 L400.57,790.71 L400.86,790.12 L401.62,788.22 L401.62,788.2 L401.62,788.15 L401.3,786.28 L400.81,784.36 L400.57,784.08 L399.52,782.93 L399.04,782.44 L398.48,781.97 L397.43,781.05 L396.76,780.52 L396.38,780.28 L395.34,779.68 L394.29,779.13 L393.24,778.63 L393.16,778.6 L392.2,778.22 L391.15,777.89 L390.1,777.58 L389.05,777.29 L388.01,777.02 L386.96,776.76 L386.52,776.68 L385.91,776.57 L384.87,776.41 L383.82,776.25 L382.77,776.09 L381.73,775.94 L380.68,775.84 L379.63,775.84 L378.59,775.84 L377.54,775.84 L376.49,775.84 L375.45,775.84 L374.4,775.92 L373.35,776.04 L372.31,776.16 L371.26,776.29 L370.21,776.42 L369.16,776.58 L368.87,776.68 L368.12,776.94 L367.07,777.33 L366.02,777.75 L364.98,778.21 L364.18,778.6 L363.93,778.73 L362.88,779.36 L361.84,780.14 L361.37,780.52 L360.79,781.15 L359.74,782.41 L359.72,782.44 L358.7,784.08 L358.54,784.36 L358.21,786.28 L357.99,788.2 L358.51,790.12 L358.7,790.71 L359.15,792.04 L359.74,792.85 L360.65,793.96 L360.79,794.11 L361.84,795.15 L362.67,795.88 L362.88,796.04 L363.93,796.75 L364.98,797.31 L365.99,797.8 L366.02,797.82 L367.07,798.32 L368.12,798.79 L369.16,799.21 L370.21,799.41 L371.26,799.56 L372.31,799.71 Z" fill="#1eb4aa" fill-rule="evenodd" stroke="#000" stroke-width="0.6" stroke-opacity="0.9"/>
<path d="M372.13,797.8 L372.31,797.83 L373.35,798 L374.4,798.17 L375.45,798.29 L376.49,798.29 L377.54,798.29 L378.59,798.29 L379.63,798.29 L380.68,798.29 L381.73,798.14 L382.77,797.93 L383.39,797.8 L383.82,797.72 L384.87,797.5 L385.91,797.28 L386.96,797.04 L388.01,796.7 L389.05,796.34 L390.1,795.96 L390.32,795.88 L391.15,795.53 L392.2,795.08 L393.24,794.49 L394.06,793.96 L394.29,793.79 L395.34,792.99 L396.38,792.1 L396.45,792.04 L397.43,790.22 L397.48,790.12 L398.3,788.2 L397.95,786.28 L397.43,784.36 L397.43,784.36 L396.38,783.25 L395.54,782.44 L395.34,782.27 L394.29,781.47 L393.24,780.74 L392.87,780.52 L392.2,780.2 L391.15,779.81 L390.1,779.44 L389.05,779.09 L388.01,778.76 L387.45,778.6 L386.96,778.46 L385.91,778.24 L384.87,778.04 L383.82,777.84 L382.77,777.66 L381.73,777.48 L380.68,777.36 L379.63,777.36 L378.59,777.36 L377.54,777.36 L376.49,777.36 L375.45,777.36 L374.4,777.46 L373.35,777.6 L372.31,777.74 L371.26,777.89 L370.21,778.05 L369.16,778.25 L368.29,778.6 L368.12,778.67 L367.07,779.14 L366.02,779.64 L364.98,780.2 L364.42,780.52 L363.93,780.88 L362.88,781.81 L362.29,782.44 L361.84,783.01 L360.87,784.36 L360.79,784.75 L360.48,786.28 L360.22,788.2 L360.79,789.99 L360.83,790.12 L361.6,792.04 L361.84,792.31 L362.88,793.45 L363.44,793.96 L363.93,794.37 L364.98,795.08 L366.02,795.73 L366.29,795.88 L367.07,796.29 L368.12,796.8 L369.16,797.27 L370.21,797.49 L371.26,797.66 Z" fill="#57bb7b" fill-rule="evenodd" stroke="#000" stroke-width="0.6" stroke-opacity="0.9"/>
<path d="M371.17,795.88 L371.26,795.9 L372.31,796.09 L373.35,796.28 L374.4,796.46 L375.45,796.58 L376.49,796.58 L377.54,796.58 L378.59,796.58 L379.63,796.58 L380.68,796.58 L381.73,796.42 L382.77,796.2 L383.82,795.96 L384.16,795.88 L384.87,795.7 L385.91,795.43 L386.96,795.13 L388.01,794.71 L389.05,794.27 L389.75,793.96 L390.1,793.79 L391.15,793.26 L392.2,792.7 L393.17,792.04 L393.24,791.94 L394.29,790.27 L394.38,790.12 L395.33,788.2 L394.92,786.28 L394.32,784.36 L394.29,784.33 L393.24,783.37 L392.2,782.57 L391.98,782.44 L391.15,782 L390.1,781.47 L389.05,780.98 L388.03,780.52 L388.01,780.51 L386.96,780.16 L385.91,779.9 L384.87,779.66 L383.82,779.44 L382.77,779.22 L381.73,779.02 L380.68,778.87 L379.63,778.87 L378.59,778.87 L377.54,778.87 L376.49,778.87 L375.45,778.87 L374.4,778.99 L373.35,779.15 L372.31,779.32 L371.26,779.5 L370.21,779.68 L369.16,779.91 L368.12,780.41 L367.89,780.52 L367.07,781.04 L366.02,781.76 L365.12,782.44 L364.98,782.57 L363.93,783.55 L363.23,784.36 L362.88,785.71 L362.75,786.28 L362.45,788.2 L362.88,789.39 L363.18,790.12 L363.93,791.64 L364.17,792.04 L364.98,792.71 L366.02,793.5 L366.68,793.96 L367.07,794.21 L368.12,794.84 L369.16,795.42 L370.21,795.69 Z" fill="#a0be4e" fill-rule="evenodd" stroke="#000" stroke-width="0.6" stroke-opacity="0.9"/>
<path d="M370.95,793.96 L371.26,794.03 L372.31,794.26 L373.35,794.49 L374.4,794.7 L375.45,794.86 L376.49,794.86 L377.54,794.86 L378.59,794.86 L379.63,794.86 L380.68,794.86 L381.73,794.67 L382.77,794.39 L383.82,794.1 L384.33,793.96 L384.87,793.8 L385.91,793.47 L386.96,793.11 L388.01,792.61 L389.05,792.08 L389.13,792.04 L390.1,791.01 L390.89,790.12 L391.15,789.78 L392.2,788.34 L392.28,788.2 L392.2,787.89 L391.69,786.28 L391.15,785.08 L390.81,784.36 L390.1,783.91 L389.05,783.27 L388.01,782.68 L387.58,782.44 L386.96,782.15 L385.91,781.79 L384.87,781.46 L383.82,781.15 L382.77,780.85 L381.73,780.56 L381.51,780.52 L380.68,780.39 L379.63,780.39 L378.59,780.39 L377.54,780.39 L376.49,780.39 L375.45,780.39 L374.4,780.52 L374.4,780.52 L373.35,780.75 L372.31,780.99 L371.26,781.23 L370.21,781.48 L369.16,781.81 L368.21,782.44 L368.12,782.51 L367.07,783.36 L366.02,784.28 L365.94,784.36 L365.32,786.28 L364.98,787.86 L364.91,788.2 L364.98,788.35 L365.88,790.12 L366.02,790.35 L367.07,791.98 L367.11,792.04 L368.12,792.76 L369.16,793.45 L370.21,793.78 Z" fill="#e6bb3a" fill-rule="evenodd" stroke="#000" stroke-width="0.6" stroke-opacity="0.9"/>
<path d="M371.14,792.04 L371.26,792.07 L372.31,792.34 L373.35,792.61 L374.4,792.87 L375.45,793.05 L376.49,793.05 L377.54,793.05 L378.59,793.05 L379.63,793.05 L380.68,793.05 L381.73,792.82 L382.77,792.5 L383.82,792.16 L384.18,792.04 L384.87,791.58 L385.91,790.86 L386.88,790.12 L386.96,790.05 L388.01,788.78 L388.47,788.2 L388.01,786.87 L387.8,786.28 L386.96,784.65 L386.76,784.36 L385.91,783.99 L384.87,783.58 L383.82,783.19 L382.77,782.81 L381.73,782.44 L381.73,782.44 L380.68,782.21 L379.63,782.21 L378.59,782.21 L377.54,782.21 L376.49,782.21 L375.45,782.21 L374.4,782.39 L374.21,782.44 L373.35,782.68 L372.31,782.98 L371.26,783.29 L370.21,783.6 L369.16,784.02 L368.74,784.36 L368.12,786.08 L368.05,786.28 L367.58,788.2 L368.12,789.16 L368.68,790.12 L369.16,790.82 L370.21,791.54 Z" fill="#f3ce33" fill-rule="evenodd" stroke="#000" stroke-width="0.6" stroke-opacity="0.9"/>
<path d="M374.78,790.12 L375.45,790.37 L376.49,790.37 L377.54,790.37 L378.59,790.37 L379.63,790.37 L380.68,790.37 L381.21,790.12 L381.73,789.84 L382.77,789.03 L383.8,788.2 L382.77,786.31 L382.76,786.28 L381.73,784.99 L381.02,784.36 L380.68,784.27 L379.63,784.27 L378.59,784.27 L377.54,784.27 L376.49,784.27 L375.45,784.27 L375.02,784.36 L374.4,784.8 L373.35,785.84 L372.92,786.28 L372.31,787.18 L371.62,788.2 L372.31,788.65 L373.35,789.31 L374.4,789.95 Z" fill="#f5eb28" fill-rule="evenodd" stroke="#000" stroke-width="0.6" stroke-opacity="0.9"/>
</g>
<line x1="307.1" y1="711.4" x2="490.6" y2="711.4" stroke="#000" stroke-width="0.9"/>
<line x1="333.57" y1="711.4" x2="333.57" y2="713" stroke="#000" stroke-width="0.6"/>
<line x1="333.57" y1="826.6" x2="333.57" y2="825" stroke="#000" stroke-width="0.6"/>
<line x1="385.91" y1="711.4" x2="385.91" y2="713" stroke="#000" stroke-width="0.6"/>
<line x1="385.91" y1="826.6" x2="385.91" y2="825" stroke="#000" stroke-width="0.6"/>
<line x1="438.26" y1="711.4" x2="438.26" y2="713" stroke="#000" stroke-width="0.6"/>
<line x1="438.26" y1="826.6" x2="438.26" y2="825" stroke="#000" stroke-width="0.6"/>
<line x1="307.4" y1="788.2" x2="309" y2="788.2" stroke="#000" stroke-width="0.6"/>
<line x1="490.6" y1="788.2" x2="489" y2="788.2" stroke="#000" stroke-width="0.6"/>
<line x1="307.4" y1="749.8" x2="309" y2="749.8" stroke="#000" stroke-width="0.6"/>
<line x1="490.6" y1="749.8" x2="489" y2="749.8" stroke="#000" stroke-width="0.6"/>
<g font-family='"Liberation Serif", serif' font-weight="bold" font-size="12.8" fill="#111">
<text x="333.57" y="842.5" text-anchor="middle">300</text>
<text x="385.91" y="842.5" text-anchor="middle">400</text>
<text x="438.26" y="842.5" text-anchor="middle">500</text>
<text x="490.6" y="842.5" text-anchor="middle">600</text>
<text x="302.8" y="831.3" text-anchor="end">200</text>
<text x="302.8" y="792.9" text-anchor="end">300</text>
<text x="302.8" y="754.5" text-anchor="end">400</text>
<text x="302.8" y="716.1" text-anchor="end">500</text>
<text x="399" y="859" text-anchor="middle" font-size="14">Em. (nm)</text>
<text transform="translate(280.4,769) rotate(-90)" text-anchor="middle" font-size="14">Ex. (nm)</text>
<text x="329.6" y="736" font-size="14">C2</text>
</g>
</g>
<g>
<clipPath id="ccc3"><polygon points="560.4,807.4 690.97,711.4 743.2,711.4 743.2,826.6 560.4,826.6"/></clipPath>
<polygon points="560.4,807.4 690.97,711.4 743.2,711.4 743.2,826.6 560.4,826.6" fill="#362c8c"/>
<g clip-path="url(#ccc3)">
<path d="M652.22,813.16 L652.32,813.18 L653.37,813.36 L654.41,813.52 L655.46,813.67 L656.5,813.8 L657.55,813.93 L658.59,814.05 L659.63,814.16 L660.68,814.24 L661.72,814.32 L662.77,814.39 L663.81,814.46 L664.86,814.52 L665.9,814.58 L666.95,814.64 L667.99,814.68 L669.04,814.71 L670.08,814.74 L671.12,814.77 L672.17,814.8 L673.21,814.83 L674.26,814.86 L675.3,814.87 L676.35,814.88 L677.39,814.89 L678.44,814.9 L679.48,814.9 L680.53,814.91 L681.57,814.92 L682.61,814.91 L683.66,814.9 L684.7,814.89 L685.75,814.88 L686.79,814.87 L687.84,814.85 L688.88,814.84 L689.93,814.82 L690.97,814.79 L692.02,814.77 L693.06,814.74 L694.11,814.71 L695.15,814.68 L696.19,814.66 L697.24,814.6 L698.28,814.54 L699.33,814.47 L700.37,814.4 L701.42,814.33 L702.46,814.26 L703.51,814.18 L704.55,814.07 L705.6,813.95 L706.64,813.83 L707.68,813.69 L708.73,813.54 L709.77,813.38 L710.82,813.2 L711.06,813.16 L711.86,812.78 L712.91,812.25 L713.95,811.66 L714.62,811.24 L713.95,810.87 L712.91,810.35 L711.86,809.88 L710.82,809.45 L710.49,809.32 L710.82,809.31 L711.86,809.26 L712.91,809.21 L713.95,809.15 L715,809.09 L716.04,809.02 L717.09,808.94 L718.13,808.85 L719.17,808.74 L720.22,808.62 L721.26,808.5 L722.31,808.4 L723.35,808.29 L724.4,808.16 L725.44,808.02 L726.49,807.85 L727.53,807.66 L728.58,807.44 L728.76,807.4 L729.62,805.96 L730.12,805.48 L730.67,803.99 L730.82,803.56 L731.13,801.64 L731.44,799.72 L730.83,797.8 L730.67,797.47 L729.85,795.88 L729.62,795.53 L729.03,793.96 L728.58,792.86 L728.23,792.04 L727.65,790.12 L727.53,789.72 L727.06,788.2 L726.56,786.28 L726.49,785.96 L726.11,784.36 L725.62,782.44 L725.44,781.77 L725.1,780.52 L724.54,778.6 L724.4,778.12 L723.95,776.68 L723.35,774.9 L723.3,774.76 L722.86,772.84 L722.38,770.92 L722.31,770.62 L721.89,769 L721.36,767.08 L721.26,766.76 L720.89,765.16 L720.39,763.24 L720.22,762.62 L719.9,761.32 L719.17,759.61 L719.08,759.4 L718.13,757.62 L718.05,757.48 L717.09,755.91 L716.85,755.56 L716.04,754.17 L715.71,753.64 L715,752.56 L714.4,751.72 L713.95,751.13 L712.91,749.84 L712.87,749.8 L711.86,748.43 L711.43,747.88 L710.82,747.05 L709.96,745.96 L709.77,745.73 L708.73,744.53 L708.28,744.04 L707.68,743.3 L706.68,742.12 L706.64,742.05 L705.6,740.21 L705.59,740.2 L704.55,738.5 L704.41,738.28 L703.51,736.91 L703.01,736.36 L702.46,735.67 L701.42,734.45 L701.41,734.44 L700.37,733.28 L699.66,732.52 L699.33,732.17 L698.28,731.12 L697.76,730.6 L697.24,730.26 L696.19,729.59 L695.15,729.27 L694.11,728.95 L693.18,728.68 L693.06,728.65 L692.02,728.39 L690.97,728.13 L689.93,727.88 L688.88,727.64 L687.84,727.52 L686.79,727.41 L685.75,727.29 L684.7,727.18 L683.66,727.06 L682.61,726.95 L681.57,726.86 L680.53,726.94 L679.48,727.02 L678.44,727.1 L677.39,727.18 L676.35,727.26 L675.3,727.34 L674.26,727.45 L673.21,727.73 L672.17,728.01 L671.12,728.31 L670.08,728.6 L669.81,728.68 L669.04,728.94 L667.99,729.3 L666.95,729.74 L665.9,730.41 L665.62,730.6 L664.86,731.35 L663.81,732.42 L663.71,732.52 L662.77,733.54 L661.96,734.44 L661.72,734.72 L660.68,735.96 L660.37,736.36 L659.63,737.25 L658.95,738.28 L658.59,738.83 L657.74,740.2 L657.55,740.53 L656.63,742.12 L656.5,742.27 L655.46,743.48 L655,744.04 L654.41,744.67 L653.37,745.87 L653.29,745.96 L652.32,747.22 L651.88,747.88 L651.28,748.72 L650.56,749.8 L650.23,750.22 L649.19,751.68 L649.16,751.72 L648.14,753.33 L647.96,753.64 L647.1,755.2 L646.91,755.56 L646.05,757.04 L645.82,757.48 L645.01,759.09 L644.87,759.4 L644.12,761.32 L643.97,761.98 L643.69,763.24 L643.3,765.16 L642.95,767.08 L642.92,767.24 L642.64,769 L642.35,770.92 L642.07,772.84 L641.88,774.28 L641.81,774.76 L641.44,776.68 L641.09,778.6 L640.83,780.12 L640.77,780.52 L640.46,782.44 L640.18,784.36 L639.91,786.28 L639.79,787.1 L639.58,788.2 L639.14,790.12 L638.74,791.92 L638.72,792.04 L638.1,793.96 L637.7,795.38 L637.56,795.88 L637.17,797.8 L636.93,799.72 L637.05,801.64 L637.18,803.56 L637.46,805.48 L637.7,806.06 L638.31,807.4 L638.74,807.53 L639.79,807.8 L640.83,808.08 L641.88,808.31 L642.92,808.49 L643.97,808.64 L645.01,808.77 L646.05,808.88 L647.1,808.97 L648.14,809.05 L649.19,809.13 L650.23,809.19 L651.28,809.25 L652.32,809.3 L652.77,809.32 L652.32,809.5 L651.28,809.97 L650.23,810.5 L649.19,811.1 L648.95,811.24 L649.19,811.4 L650.23,812.07 L651.28,812.67 Z" fill="#3e58aa" fill-rule="evenodd" stroke="#000" stroke-width="0.6" stroke-opacity="0.9"/>
<path d="M672.3,811.24 L673.21,811.37 L674.26,811.51 L675.3,811.57 L676.35,811.61 L677.39,811.65 L678.44,811.69 L679.48,811.73 L680.53,811.77 L681.57,811.81 L682.61,811.76 L683.66,811.71 L684.7,811.65 L685.75,811.59 L686.79,811.53 L687.84,811.47 L688.88,811.41 L689.93,811.29 L690.35,811.24 L689.93,811.19 L688.88,811.09 L687.84,811.03 L686.79,810.98 L685.75,810.93 L684.7,810.88 L683.66,810.83 L682.61,810.78 L681.57,810.74 L680.53,810.77 L679.48,810.81 L678.44,810.84 L677.39,810.88 L676.35,810.92 L675.3,810.95 L674.26,811 L673.21,811.13 Z M645.69,807.4 L646.05,807.47 L647.1,807.66 L648.14,807.83 L649.19,807.97 L650.23,808.1 L651.28,808.22 L652.32,808.32 L653.37,808.41 L654.41,808.49 L655.46,808.56 L656.5,808.62 L657.55,808.69 L658.59,808.74 L659.63,808.8 L660.68,808.84 L661.72,808.87 L662.77,808.91 L663.81,808.94 L664.86,808.97 L665.9,809 L666.95,809.03 L667.99,809.05 L669.04,809.07 L670.08,809.08 L671.12,809.09 L672.17,809.11 L673.21,809.12 L674.26,809.14 L675.3,809.14 L676.35,809.15 L677.39,809.15 L678.44,809.15 L679.48,809.16 L680.53,809.16 L681.57,809.17 L682.61,809.16 L683.66,809.16 L684.7,809.15 L685.75,809.14 L686.79,809.14 L687.84,809.13 L688.88,809.13 L689.93,809.12 L690.97,809.1 L692.02,809.09 L693.06,809.08 L694.11,809.06 L695.15,809.05 L696.19,809.04 L697.24,809.01 L698.28,808.98 L699.33,808.95 L700.37,808.92 L701.42,808.88 L702.46,808.84 L703.51,808.81 L704.55,808.75 L705.6,808.7 L706.64,808.63 L707.68,808.57 L708.73,808.5 L709.77,808.42 L710.82,808.33 L711.86,808.24 L712.91,808.14 L713.95,808.02 L715,807.89 L716.04,807.75 L717.09,807.59 L718.13,807.41 L718.19,807.4 L719.17,806.08 L719.59,805.48 L720.04,803.56 L720.22,801.93 L720.26,801.64 L720.49,799.72 L720.22,798.6 L720.05,797.8 L719.41,795.88 L719.17,795.35 L718.53,793.96 L718.13,793.17 L717.52,792.04 L717.09,790.88 L716.79,790.12 L716.04,788.22 L716.03,788.2 L715.4,786.28 L715,784.93 L714.82,784.36 L714.2,782.44 L713.95,781.7 L713.54,780.52 L712.91,778.8 L712.83,778.6 L712.07,776.68 L711.86,776.17 L711.26,774.76 L710.82,773.28 L710.69,772.84 L710.08,770.92 L709.77,769.97 L709.45,769 L708.78,767.08 L708.73,766.94 L708.02,765.16 L707.68,764.4 L707.16,763.24 L706.64,762.15 L706.23,761.32 L705.6,760.55 L704.59,759.4 L704.55,759.36 L703.51,758.36 L702.46,757.63 L702.24,757.48 L701.42,756.95 L700.37,756.3 L699.33,755.69 L699.11,755.56 L698.28,755.01 L697.24,754.33 L696.19,753.69 L696.03,753.64 L695.15,753.38 L694.11,753.08 L693.06,752.78 L692.02,752.49 L690.97,752.2 L689.93,751.92 L689.13,751.72 L688.88,751.66 L687.84,751.53 L686.79,751.4 L685.75,751.27 L684.7,751.14 L683.66,751.02 L682.61,750.89 L681.57,750.79 L680.53,750.88 L679.48,750.97 L678.44,751.06 L677.39,751.15 L676.35,751.23 L675.3,751.32 L674.26,751.45 L673.34,751.72 L673.21,751.76 L672.17,752.07 L671.12,752.4 L670.08,752.73 L669.04,753.07 L667.99,753.41 L667.42,753.64 L666.95,753.83 L665.9,754.48 L664.86,755.16 L664.26,755.56 L663.81,755.82 L662.77,756.44 L661.72,757.1 L661.14,757.48 L660.68,757.79 L659.63,758.57 L658.76,759.4 L658.59,759.59 L657.55,760.77 L657.09,761.32 L656.5,762.5 L656.15,763.24 L655.46,764.74 L655.27,765.16 L654.49,767.08 L654.41,767.3 L653.81,769 L653.37,770.31 L653.17,770.92 L652.58,772.84 L652.32,773.72 L652.04,774.76 L651.29,776.68 L651.28,776.72 L650.6,778.6 L650.23,779.66 L649.95,780.52 L649.34,782.44 L649.19,782.95 L648.77,784.36 L648.24,786.28 L648.14,786.6 L647.66,788.2 L647.1,789.75 L646.97,790.12 L646.3,792.04 L646.05,792.52 L645.38,793.96 L645.01,794.8 L644.57,795.88 L643.98,797.8 L643.97,797.88 L643.61,799.72 L643.8,801.64 L643.97,803.34 L643.99,803.56 L644.41,805.48 L645.01,806.43 Z" fill="#2c8ccd" fill-rule="evenodd" stroke="#000" stroke-width="0.6" stroke-opacity="0.9"/>
<path d="M652.54,807.4 L653.37,807.5 L654.41,807.62 L655.46,807.72 L656.5,807.82 L657.55,807.91 L658.59,808 L659.63,808.08 L660.68,808.14 L661.72,808.19 L662.77,808.24 L663.81,808.29 L664.86,808.34 L665.9,808.38 L666.95,808.43 L667.99,808.45 L669.04,808.48 L670.08,808.5 L671.12,808.52 L672.17,808.54 L673.21,808.56 L674.26,808.58 L675.3,808.59 L676.35,808.6 L677.39,808.6 L678.44,808.61 L679.48,808.61 L680.53,808.62 L681.57,808.63 L682.61,808.62 L683.66,808.61 L684.7,808.6 L685.75,808.59 L686.79,808.59 L687.84,808.58 L688.88,808.57 L689.93,808.55 L690.97,808.53 L692.02,808.51 L693.06,808.5 L694.11,808.48 L695.15,808.46 L696.19,808.44 L697.24,808.39 L698.28,808.35 L699.33,808.3 L700.37,808.25 L701.42,808.2 L702.46,808.15 L703.51,808.09 L704.55,808.01 L705.6,807.93 L706.64,807.84 L707.68,807.74 L708.73,807.63 L709.77,807.52 L710.73,807.4 L710.82,807.32 L711.86,806.4 L712.8,805.48 L712.91,805.2 L713.48,803.56 L713.79,801.64 L713.95,800.61 L714.09,799.72 L713.95,799.27 L713.49,797.8 L712.91,796.59 L712.54,795.88 L711.86,794.86 L711.23,793.96 L710.82,793.4 L709.77,792.08 L709.74,792.04 L708.73,790.26 L708.65,790.12 L707.68,788.45 L707.53,788.2 L706.64,786.38 L706.59,786.28 L705.73,784.36 L705.6,784.07 L704.81,782.44 L704.55,781.92 L703.83,780.52 L703.51,779.92 L702.57,778.6 L702.46,778.45 L701.42,777.09 L701.09,776.68 L700.37,775.79 L699.5,774.76 L699.33,774.45 L698.39,772.84 L698.28,772.65 L697.24,770.94 L697.23,770.92 L696.19,769.31 L695.79,769 L695.15,768.52 L694.11,767.74 L693.19,767.08 L693.06,766.99 L692.02,766.31 L690.97,765.63 L690.22,765.16 L689.93,764.99 L688.88,764.4 L687.84,764.1 L686.79,763.82 L685.75,763.53 L684.7,763.25 L684.67,763.24 L683.66,762.97 L682.61,762.69 L681.57,762.47 L680.53,762.66 L679.48,762.86 L678.44,763.05 L677.46,763.24 L677.39,763.25 L676.35,763.45 L675.3,763.65 L674.26,763.93 L673.21,764.62 L672.41,765.16 L672.17,765.33 L671.12,766.09 L670.08,766.87 L669.8,767.08 L669.04,767.72 L667.99,768.6 L667.6,769 L666.95,769.66 L666.15,770.92 L665.9,771.32 L664.98,772.84 L664.86,773.05 L663.87,774.76 L663.81,774.83 L662.77,776.07 L662.28,776.68 L661.72,777.39 L660.8,778.6 L660.68,778.77 L659.63,780.34 L659.54,780.52 L658.59,782.34 L658.54,782.44 L657.6,784.36 L657.55,784.48 L656.72,786.28 L656.5,786.72 L655.77,788.2 L655.46,788.71 L654.63,790.12 L654.41,790.48 L653.52,792.04 L653.37,792.22 L652.32,793.58 L652.07,793.96 L651.28,795.19 L650.86,795.88 L650.23,797.25 L649.99,797.8 L649.45,799.72 L649.72,801.64 L650,803.56 L650.23,804.29 L650.62,805.48 L651.28,806.18 L652.32,807.21 Z" fill="#1eb4aa" fill-rule="evenodd" stroke="#000" stroke-width="0.6" stroke-opacity="0.9"/>
<path d="M660.2,807.4 L660.68,807.44 L661.72,807.51 L662.77,807.58 L663.81,807.64 L664.86,807.7 L665.9,807.76 L666.95,807.82 L667.99,807.86 L669.04,807.89 L670.08,807.92 L671.12,807.95 L672.17,807.97 L673.21,808 L674.26,808.03 L675.3,808.04 L676.35,808.05 L677.39,808.05 L678.44,808.06 L679.48,808.07 L680.53,808.08 L681.57,808.09 L682.61,808.08 L683.66,808.07 L684.7,808.05 L685.75,808.04 L686.79,808.03 L687.84,808.02 L688.88,808.01 L689.93,807.99 L690.97,807.96 L692.02,807.94 L693.06,807.91 L694.11,807.89 L695.15,807.86 L696.19,807.83 L697.24,807.78 L698.28,807.72 L699.33,807.66 L700.37,807.59 L701.42,807.52 L702.46,807.45 L703.2,807.4 L703.51,807.25 L704.55,806.55 L705.6,805.8 L706.02,805.48 L706.64,804.18 L706.92,803.56 L707.33,801.64 L707.68,799.93 L707.73,799.72 L707.68,799.62 L706.94,797.8 L706.64,797.33 L705.68,795.88 L705.6,795.79 L704.55,794.61 L703.93,793.96 L703.51,793.52 L702.46,792.73 L701.5,792.04 L701.42,791.95 L700.37,790.88 L699.6,790.12 L699.33,789.84 L698.28,788.8 L697.66,788.2 L697.24,787.69 L696.19,786.47 L695.86,786.28 L695.15,785.82 L694.11,785.14 L693.06,784.48 L692.86,784.36 L692.02,783.84 L690.97,783.21 L689.93,782.59 L689.66,782.44 L688.88,782 L687.84,781.71 L686.79,781.43 L685.75,781.14 L684.7,780.86 L683.66,780.58 L683.42,780.52 L682.61,780.31 L681.57,780.09 L680.53,780.28 L679.48,780.47 L679.23,780.52 L678.44,780.67 L677.39,780.87 L676.35,781.06 L675.3,781.26 L674.26,781.54 L673.21,782.22 L672.89,782.44 L672.17,782.92 L671.12,783.64 L670.1,784.36 L670.08,784.37 L669.04,785.12 L667.99,785.89 L667.55,786.28 L666.95,786.74 L665.9,787.97 L665.71,788.2 L664.86,789.03 L663.81,790.08 L663.77,790.12 L662.77,791.12 L661.87,792.04 L661.72,792.15 L660.68,792.9 L659.63,793.75 L659.43,793.96 L658.59,794.84 L657.65,795.88 L657.55,796.04 L656.5,797.6 L656.37,797.8 L655.57,799.72 L655.97,801.64 L656.39,803.56 L656.5,803.81 L657.3,805.48 L657.55,805.66 L658.59,806.41 L659.63,807.1 Z" fill="#7dc05c" fill-rule="evenodd" stroke="#000" stroke-width="0.6" stroke-opacity="0.9"/>
<path d="M671.99,807.4 L672.17,807.41 L673.21,807.44 L674.26,807.47 L675.3,807.49 L676.35,807.5 L677.39,807.51 L678.44,807.52 L679.48,807.53 L680.53,807.54 L681.57,807.54 L682.61,807.53 L683.66,807.52 L684.7,807.51 L685.75,807.49 L686.79,807.48 L687.84,807.47 L688.88,807.45 L689.93,807.42 L690.69,807.4 L690.97,807.35 L692.02,807.14 L693.06,806.93 L694.11,806.71 L695.15,806.49 L696.19,806.27 L697.24,805.8 L697.94,805.48 L698.28,805.04 L699.33,803.67 L699.41,803.56 L700.07,801.64 L700.37,800.76 L700.72,799.72 L700.37,799.19 L699.43,797.8 L699.33,797.7 L698.28,796.71 L697.37,795.88 L697.24,795.78 L696.19,795.06 L695.15,794.7 L694.11,794.36 L693.06,794.02 L692.87,793.96 L692.02,793.69 L690.97,793.37 L689.93,793.05 L688.88,792.75 L687.84,792.61 L686.79,792.46 L685.75,792.31 L684.7,792.17 L683.75,792.04 L683.66,792.02 L682.61,791.81 L681.57,791.64 L680.53,791.78 L679.48,791.94 L678.76,792.04 L678.44,792.07 L677.39,792.17 L676.35,792.27 L675.3,792.38 L674.26,792.52 L673.21,792.87 L672.17,793.22 L671.12,793.59 L670.09,793.96 L670.08,793.96 L669.04,794.35 L667.99,794.74 L666.95,795.21 L666,795.88 L665.9,795.97 L664.86,796.92 L663.94,797.8 L663.81,797.99 L662.77,799.54 L662.65,799.72 L662.77,800.06 L663.3,801.64 L663.81,803.12 L663.97,803.56 L664.86,804.74 L665.43,805.48 L665.9,805.7 L666.95,806.17 L667.99,806.47 L669.04,806.72 L670.08,806.97 L671.12,807.21 Z" fill="#f2ba3a" fill-rule="evenodd" stroke="#000" stroke-width="0.6" stroke-opacity="0.9"/>
<path d="M678.49,803.56 L679.48,803.75 L680.53,803.95 L681.57,804.16 L682.61,803.93 L683.66,803.64 L683.94,803.56 L684.7,803.11 L685.75,802.5 L686.79,801.88 L687.19,801.64 L687.84,801.25 L688.88,800.62 L689.61,799.72 L688.88,799.26 L687.84,798.94 L686.79,798.62 L685.75,798.31 L684.7,797.99 L684.05,797.8 L683.66,797.72 L682.61,797.51 L681.57,797.35 L680.53,797.49 L679.48,797.64 L678.44,797.79 L678.34,797.8 L677.39,798 L676.35,798.22 L675.3,798.44 L674.26,798.75 L673.21,799.51 L672.93,799.72 L673.21,800.13 L674.26,801.63 L674.28,801.64 L675.3,802.24 L676.35,802.67 L677.39,803.11 L678.44,803.54 Z" fill="#f5eb28" fill-rule="evenodd" stroke="#000" stroke-width="0.6" stroke-opacity="0.9"/>
</g>
<line x1="560.1" y1="711.4" x2="743.2" y2="711.4" stroke="#000" stroke-width="0.9"/>
<line x1="586.51" y1="711.4" x2="586.51" y2="713" stroke="#000" stroke-width="0.6"/>
<line x1="586.51" y1="826.6" x2="586.51" y2="825" stroke="#000" stroke-width="0.6"/>
<line x1="638.74" y1="711.4" x2="638.74" y2="713" stroke="#000" stroke-width="0.6"/>
<line x1="638.74" y1="826.6" x2="638.74" y2="825" stroke="#000" stroke-width="0.6"/>
<line x1="690.97" y1="711.4" x2="690.97" y2="713" stroke="#000" stroke-width="0.6"/>
<line x1="690.97" y1="826.6" x2="690.97" y2="825" stroke="#000" stroke-width="0.6"/>
<line x1="560.4" y1="788.2" x2="562" y2="788.2" stroke="#000" stroke-width="0.6"/>
<line x1="743.2" y1="788.2" x2="741.6" y2="788.2" stroke="#000" stroke-width="0.6"/>
<line x1="560.4" y1="749.8" x2="562" y2="749.8" stroke="#000" stroke-width="0.6"/>
<line x1="743.2" y1="749.8" x2="741.6" y2="749.8" stroke="#000" stroke-width="0.6"/>
<g font-family='"Liberation Serif", serif' font-weight="bold" font-size="12.8" fill="#111">
<text x="586.51" y="842.5" text-anchor="middle">300</text>
<text x="638.74" y="842.5" text-anchor="middle">400</text>
<text x="690.97" y="842.5" text-anchor="middle">500</text>
<text x="743.2" y="842.5" text-anchor="middle">600</text>
<text x="555.8" y="831.3" text-anchor="end">200</text>
<text x="555.8" y="792.9" text-anchor="end">300</text>
<text x="555.8" y="754.5" text-anchor="end">400</text>
<text x="555.8" y="716.1" text-anchor="end">500</text>
<text x="651.8" y="859" text-anchor="middle" font-size="14">Em. (nm)</text>
<text transform="translate(533.4,769) rotate(-90)" text-anchor="middle" font-size="14">Ex. (nm)</text>
<text x="577.4" y="736" font-size="14">C3</text>
</g>
</g>
<g>
<clipPath id="ccc4"><polygon points="801.6,807.4 932.6,711.4 985,711.4 985,826.6 801.6,826.6"/></clipPath>
<polygon points="801.6,807.4 932.6,711.4 985,711.4 985,826.6 801.6,826.6" fill="#362c8c"/>
<g clip-path="url(#ccc4)">
<path d="M839.57,822.76 L840.38,822.83 L841.42,822.92 L842.47,823 L843.52,823.08 L844.57,823.11 L845.62,823.14 L846.66,823.16 L847.71,823.19 L848.76,823.2 L849.81,823.17 L850.86,823.14 L851.9,823.1 L852.95,823.06 L854,823.01 L855.05,822.91 L856.1,822.8 L856.43,822.76 L857.14,822.73 L858.19,822.67 L859.24,822.61 L860.29,822.53 L861.34,822.44 L862.38,822.34 L863.43,822.23 L864.48,822.1 L865.53,821.95 L866.58,821.77 L867.62,821.54 L868.67,821.29 L869.72,821.08 L870.68,820.84 L870.77,820.82 L871.82,820.51 L872.86,820.12 L873.91,819.63 L874.96,819.23 L875.73,818.92 L876.01,818.78 L877.06,818.17 L878.1,817.4 L878.57,817 L879.15,815.53 L879.34,815.08 L879.15,814.74 L878.29,813.16 L878.1,812.95 L877.06,811.92 L876.21,811.24 L876.01,810.93 L874.96,809.48 L874.84,809.32 L874.3,807.4 L874.49,805.48 L874.96,803.77 L875.02,803.56 L875.73,801.64 L876.01,800.99 L876.51,799.72 L877.06,798.18 L877.18,797.8 L877.66,795.88 L877.3,793.96 L877.06,793.49 L876.21,792.04 L876.01,791.83 L874.96,790.87 L874.1,790.12 L873.91,789.99 L872.86,789.03 L871.82,788.29 L871.67,788.2 L870.77,787.61 L869.72,787.05 L868.67,786.58 L868.11,786.28 L867.62,786 L866.58,785.4 L865.53,784.92 L864.48,784.53 L863.97,784.36 L863.43,784.09 L862.38,783.62 L861.34,783.18 L860.29,782.79 L859.24,782.46 L859.16,782.44 L858.19,782.04 L857.14,781.69 L856.1,781.38 L855.05,781.1 L854,780.85 L852.95,780.72 L851.9,780.63 L850.86,780.54 L850.6,780.52 L849.81,780.46 L848.76,780.38 L847.71,780.4 L846.66,780.47 L845.93,780.52 L845.62,780.54 L844.57,780.61 L843.52,780.69 L842.47,780.88 L841.42,781.08 L840.38,781.3 L839.33,781.54 L838.28,781.88 L837.23,782.29 L836.88,782.44 L836.18,782.65 L835.14,783.01 L834.09,783.37 L833.04,783.76 L831.99,784.21 L831.68,784.36 L830.94,784.59 L829.9,784.96 L828.85,785.38 L827.8,785.69 L826.75,786.03 L826.06,786.28 L825.7,786.4 L824.66,786.77 L823.61,787.21 L822.56,787.67 L821.51,788.14 L821.39,788.2 L820.46,788.63 L819.42,789.19 L818.37,789.87 L818.02,790.12 L817.32,790.79 L816.27,791.99 L816.22,792.04 L815.22,793.52 L814.85,793.96 L814.29,795.88 L815.05,797.8 L815.22,798.12 L815.88,799.72 L816.27,800.6 L816.62,801.64 L817.19,803.56 L817.32,804.09 L817.67,805.48 L817.84,807.4 L817.35,809.32 L817.32,809.36 L816.27,811.17 L816.22,811.24 L815.22,811.94 L814.18,812.55 L813.27,813.16 L813.13,813.31 L812.08,814.5 L811.62,815.08 L812.08,815.86 L812.82,817 L813.13,817.17 L814.18,817.7 L815.22,818.16 L816.27,818.69 L816.62,818.92 L817.32,819.26 L818.37,819.69 L819.42,820.04 L820.46,820.33 L821.51,820.58 L822.56,820.79 L822.79,820.84 L823.61,821 L824.66,821.2 L825.7,821.38 L826.75,821.53 L827.8,821.66 L828.85,821.78 L829.9,821.94 L830.94,822.08 L831.99,822.2 L833.04,822.31 L834.09,822.4 L835.14,822.48 L836.18,822.56 L837.23,822.64 L838.28,822.7 L839.33,822.75 Z M893.94,817 L894.87,817.62 L895.92,817.85 L896.97,818.07 L898.02,818.27 L899.06,818.27 L900.11,818.07 L901.16,817.85 L902.21,817.62 L903.14,817 L903.26,816.78 L904.07,815.08 L903.26,813.8 L902.78,813.16 L902.21,812.66 L901.16,812.34 L900.11,812.05 L899.06,811.78 L898.02,811.78 L896.97,812.05 L895.92,812.34 L894.87,812.66 L894.3,813.16 L893.82,813.8 L893.01,815.08 L893.82,816.78 Z M897.04,797.8 L898.02,798.66 L899.06,798.66 L900.04,797.8 L900.11,797.71 L901.16,796.47 L901.63,795.88 L901.16,795.09 L900.45,793.96 L900.11,793.76 L899.06,793.18 L898.02,793.18 L896.97,793.76 L896.63,793.96 L895.92,795.09 L895.45,795.88 L895.92,796.47 L896.97,797.71 Z" fill="#3b49a0" fill-rule="evenodd" stroke="#000" stroke-width="0.6" stroke-opacity="0.9"/>
<path d="M832.64,820.84 L833.04,820.92 L834.09,821.1 L835.14,821.27 L836.18,821.44 L837.23,821.59 L838.28,821.71 L839.33,821.82 L840.38,821.9 L841.42,821.97 L842.47,822.03 L843.52,822.09 L844.57,822.11 L845.62,822.13 L846.66,822.16 L847.71,822.18 L848.76,822.19 L849.81,822.16 L850.86,822.14 L851.9,822.11 L852.95,822.08 L854,822.04 L855.05,821.96 L856.1,821.87 L857.14,821.77 L858.19,821.66 L859.24,821.53 L860.29,821.37 L861.34,821.19 L862.38,820.98 L863.09,820.84 L863.43,820.77 L864.48,820.52 L865.53,820.22 L866.58,819.86 L867.62,819.4 L868.67,818.92 L868.68,818.92 L869.72,818.43 L870.77,817.83 L871.82,817.09 L871.93,817 L872.78,815.08 L871.82,813.47 L871.61,813.16 L870.77,812.38 L869.72,811.57 L869.23,811.24 L868.67,810.51 L867.93,809.32 L867.62,808.16 L867.45,807.4 L867.6,805.48 L867.62,805.36 L868.09,803.56 L868.67,801.66 L868.68,801.64 L869.57,799.72 L869.72,799.37 L870.34,797.8 L870.77,796.31 L870.88,795.88 L870.77,795.31 L870.48,793.96 L869.72,792.74 L869.23,792.04 L868.67,791.55 L867.62,790.47 L867.29,790.12 L866.58,789.55 L865.53,788.85 L864.48,788.27 L864.33,788.2 L863.43,787.73 L862.38,787.25 L861.34,786.79 L860.29,786.4 L859.92,786.28 L859.24,786.03 L858.19,785.67 L857.14,785.39 L856.1,785.14 L855.05,784.91 L854,784.7 L852.95,784.59 L851.9,784.52 L850.86,784.45 L849.81,784.38 L849.48,784.36 L848.76,784.28 L847.71,784.32 L847.26,784.36 L846.66,784.39 L845.62,784.45 L844.57,784.51 L843.52,784.57 L842.47,784.72 L841.42,784.89 L840.38,785.07 L839.33,785.26 L838.28,785.54 L837.23,785.87 L836.18,786.26 L836.12,786.28 L835.14,786.62 L834.09,787 L833.04,787.39 L831.99,787.85 L831.29,788.2 L830.94,788.36 L829.9,788.9 L828.85,789.52 L827.8,789.96 L827.44,790.12 L826.75,790.51 L825.7,791.18 L824.66,791.94 L824.53,792.04 L823.61,793.23 L823.04,793.96 L822.56,795.73 L822.52,795.88 L822.56,795.99 L823.22,797.8 L823.61,798.58 L824.15,799.72 L824.66,800.72 L825.16,801.64 L825.7,802.79 L826.09,803.56 L826.75,805.19 L826.88,805.48 L827.16,807.4 L826.75,808.33 L826.35,809.32 L825.7,809.95 L824.66,811.09 L824.53,811.24 L823.61,811.8 L822.56,812.46 L821.51,813.14 L821.49,813.16 L820.46,814.27 L819.81,815.08 L820.46,816.16 L821.02,817 L821.51,817.26 L822.56,817.77 L823.61,818.25 L824.66,818.72 L825.16,818.92 L825.7,819.09 L826.75,819.39 L827.8,819.64 L828.85,819.87 L829.9,820.19 L830.94,820.47 L831.99,820.71 Z" fill="#3869b6" fill-rule="evenodd" stroke="#000" stroke-width="0.6" stroke-opacity="0.9"/>
<path d="M838.97,820.84 L839.33,820.89 L840.38,821.01 L841.42,821.11 L842.47,821.21 L843.52,821.3 L844.57,821.33 L845.62,821.37 L846.66,821.4 L847.71,821.43 L848.76,821.44 L849.81,821.41 L850.86,821.37 L851.9,821.32 L852.95,821.28 L854,821.22 L855.05,821.1 L856.1,820.97 L857.01,820.84 L857.14,820.82 L858.19,820.66 L859.24,820.46 L860.29,820.24 L861.34,819.98 L862.38,819.67 L863.43,819.35 L864.48,818.98 L864.62,818.92 L865.53,818.46 L866.58,817.82 L867.62,817.02 L867.65,817 L868.58,815.08 L867.62,813.61 L867.34,813.16 L866.58,812.39 L865.53,811.52 L865.13,811.24 L864.48,810.33 L863.66,809.32 L863.43,808.63 L863.01,807.4 L863.23,805.48 L863.43,804.89 L863.87,803.56 L864.48,802.03 L864.62,801.64 L865.45,799.72 L865.53,799.52 L866.16,797.8 L866.58,796.26 L866.67,795.88 L866.58,795.38 L866.3,793.96 L865.53,792.64 L865.13,792.04 L864.48,791.43 L863.43,790.59 L862.77,790.12 L862.38,789.9 L861.34,789.31 L860.29,788.81 L859.24,788.38 L858.77,788.2 L858.19,787.96 L857.14,787.6 L856.1,787.29 L855.05,787 L854,786.74 L852.95,786.6 L851.9,786.51 L850.86,786.42 L849.81,786.34 L849.11,786.28 L848.76,786.25 L847.71,786.28 L847.7,786.28 L846.66,786.35 L845.62,786.42 L844.57,786.5 L843.52,786.57 L842.47,786.77 L841.42,786.97 L840.38,787.2 L839.33,787.44 L838.28,787.8 L837.27,788.2 L837.23,788.21 L836.18,788.62 L835.14,789.1 L834.09,789.57 L833.04,790.09 L832.98,790.12 L831.99,790.77 L830.94,791.58 L830.41,792.04 L829.9,792.78 L829.12,793.96 L828.85,795.17 L828.6,795.88 L828.85,796.41 L829.27,797.8 L829.9,799.3 L830.07,799.72 L830.94,801.59 L830.97,801.64 L831.79,803.56 L831.99,804.15 L832.48,805.48 L832.72,807.4 L832.01,809.32 L831.99,809.34 L830.94,810.55 L830.41,811.24 L829.9,811.59 L828.85,812.36 L827.8,812.9 L827.35,813.16 L826.75,813.68 L825.7,814.68 L825.32,815.08 L825.7,815.62 L826.75,816.95 L826.79,817 L827.8,817.44 L828.85,817.84 L829.9,818.41 L830.94,818.91 L830.97,818.92 L831.99,819.27 L833.04,819.58 L834.09,819.84 L835.14,820.09 L836.18,820.34 L837.23,820.55 L838.28,820.74 Z" fill="#2c8ccd" fill-rule="evenodd" stroke="#000" stroke-width="0.6" stroke-opacity="0.9"/>
<path d="M835.11,818.92 L835.14,818.93 L836.18,819.25 L837.23,819.54 L838.28,819.79 L839.33,820 L840.38,820.14 L841.42,820.28 L842.47,820.4 L843.52,820.52 L844.57,820.56 L845.62,820.6 L846.66,820.65 L847.71,820.69 L848.76,820.71 L849.81,820.66 L850.86,820.61 L851.9,820.55 L852.95,820.5 L854,820.42 L855.05,820.26 L856.1,820.09 L857.14,819.9 L858.19,819.69 L859.24,819.43 L860.29,819.12 L860.92,818.92 L861.34,818.75 L862.38,818.27 L863.43,817.77 L864.48,817.18 L864.76,817 L865.53,815.65 L865.82,815.08 L865.53,814.65 L864.48,813.3 L864.36,813.16 L863.43,812.46 L862.38,811.78 L861.53,811.24 L861.34,811.01 L860.29,809.83 L859.78,809.32 L859.24,807.97 L859,807.4 L859.24,805.7 L859.27,805.48 L860.03,803.56 L860.29,803.02 L860.92,801.64 L861.34,800.86 L861.9,799.72 L862.38,798.66 L862.79,797.8 L863.43,795.98 L863.47,795.88 L863.43,795.75 L862.97,793.96 L862.38,793.18 L861.53,792.04 L861.34,791.88 L860.29,791.1 L859.24,790.42 L858.72,790.12 L858.19,789.87 L857.14,789.46 L856.1,789.1 L855.05,788.77 L854,788.47 L852.95,788.31 L851.9,788.21 L851.84,788.2 L850.86,788.09 L849.81,787.97 L848.76,787.86 L847.71,787.9 L846.66,787.99 L845.62,788.09 L844.57,788.19 L844.45,788.2 L843.52,788.28 L842.47,788.5 L841.42,788.74 L840.38,788.99 L839.33,789.27 L838.28,789.68 L837.32,790.12 L837.23,790.17 L836.18,790.81 L835.14,791.54 L834.42,792.04 L834.09,792.42 L833.04,793.62 L832.77,793.96 L832.22,795.88 L832.96,797.8 L833.04,797.96 L833.99,799.72 L834.09,799.88 L835.11,801.64 L835.14,801.69 L836.01,803.56 L836.18,804.01 L836.77,805.48 L837.04,807.4 L836.26,809.32 L836.18,809.39 L835.14,810.5 L834.42,811.24 L834.09,811.42 L833.04,811.98 L831.99,812.63 L831.25,813.16 L830.94,813.49 L829.9,814.77 L829.66,815.08 L829.9,815.49 L830.81,817 L830.94,817.08 L831.99,817.64 L833.04,818.12 L834.09,818.54 Z" fill="#23a7b6" fill-rule="evenodd" stroke="#000" stroke-width="0.6" stroke-opacity="0.9"/>
<path d="M838.58,818.92 L839.33,819.1 L840.38,819.29 L841.42,819.45 L842.47,819.61 L843.52,819.75 L844.57,819.81 L845.62,819.86 L846.66,819.92 L847.71,819.97 L848.76,819.99 L849.81,819.93 L850.86,819.86 L851.9,819.8 L852.95,819.73 L854,819.63 L855.05,819.43 L856.1,819.22 L857.14,818.98 L857.41,818.92 L858.19,818.68 L859.24,818.3 L860.29,817.85 L861.34,817.34 L861.95,817 L862.38,816.33 L863.21,815.08 L862.38,814.14 L861.5,813.16 L861.34,813.04 L860.29,812.35 L859.24,811.75 L858.23,811.24 L858.19,811.21 L857.14,810.3 L856.1,809.5 L855.84,809.32 L855.05,807.89 L854.76,807.4 L855.05,805.92 L855.13,805.48 L856.1,803.71 L856.17,803.56 L857.14,802.07 L857.41,801.64 L858.19,800.54 L858.69,799.72 L859.24,798.77 L859.76,797.8 L860.29,796.46 L860.51,795.88 L860.29,795.11 L859.95,793.96 L859.24,793.12 L858.23,792.04 L858.19,792.02 L857.14,791.42 L856.1,790.88 L855.05,790.4 L854.38,790.12 L854,789.99 L852.95,789.79 L851.9,789.66 L850.86,789.53 L849.81,789.41 L848.76,789.29 L847.71,789.33 L846.66,789.43 L845.62,789.53 L844.57,789.64 L843.52,789.75 L842.47,790.03 L842.14,790.12 L841.42,790.36 L840.38,790.74 L839.33,791.15 L838.28,791.74 L837.81,792.04 L837.23,792.64 L836.18,793.84 L836.09,793.96 L835.53,795.88 L836.18,797.56 L836.28,797.8 L837.23,799.53 L837.34,799.72 L838.28,801.21 L838.58,801.64 L839.33,802.88 L839.9,803.56 L840.38,804.29 L841.19,805.48 L841.42,806.44 L841.66,807.4 L841.42,807.72 L840.38,809.23 L840.31,809.32 L839.33,809.9 L838.28,810.79 L837.81,811.24 L837.23,811.52 L836.18,812.09 L835.14,812.74 L834.45,813.16 L834.09,813.5 L833.04,814.5 L832.5,815.08 L833.04,815.85 L833.93,817 L834.09,817.07 L835.14,817.56 L836.18,818.04 L837.23,818.46 L838.28,818.83 Z" fill="#3eb890" fill-rule="evenodd" stroke="#000" stroke-width="0.6" stroke-opacity="0.9"/>
<path d="M843.1,818.92 L843.52,818.99 L844.57,819.06 L845.62,819.12 L846.66,819.19 L847.71,819.25 L848.76,819.27 L849.81,819.2 L850.86,819.12 L851.9,819.04 L852.95,818.96 L853.31,818.92 L854,818.82 L855.05,818.55 L856.1,818.25 L857.14,817.92 L858.19,817.54 L859.24,817.08 L859.4,817 L860.29,815.83 L860.81,815.08 L860.29,814.51 L859.24,813.49 L858.86,813.16 L858.19,812.77 L857.14,812.26 L856.1,811.81 L855.05,811.4 L854.61,811.24 L854,810.79 L852.95,810.38 L851.9,810.1 L850.86,809.83 L849.81,809.57 L848.76,809.32 L847.71,809.41 L846.66,809.62 L845.62,809.84 L844.57,810.06 L843.52,810.29 L842.47,810.87 L841.85,811.24 L841.42,811.36 L840.38,811.68 L839.33,812.03 L838.28,812.53 L837.23,813.13 L837.18,813.16 L836.18,814.07 L835.23,815.08 L836.18,816.42 L836.64,817 L837.23,817.28 L838.28,817.72 L839.33,818.09 L840.38,818.34 L841.42,818.58 L842.47,818.8 Z M846.94,803.56 L847.71,803.97 L848.76,804.19 L849.75,803.56 L849.81,803.53 L850.86,803.01 L851.9,802.47 L852.95,801.92 L853.31,801.64 L854,801.2 L855.05,799.95 L855.23,799.72 L856.1,798.56 L856.63,797.8 L857.14,796.83 L857.62,795.88 L857.14,794.61 L856.89,793.96 L856.1,793.24 L855.05,792.38 L854.61,792.04 L854,791.74 L852.95,791.47 L851.9,791.28 L850.86,791.1 L849.81,790.93 L848.76,790.76 L847.71,790.82 L846.66,790.96 L845.62,791.1 L844.57,791.25 L843.52,791.41 L842.47,791.8 L841.85,792.04 L841.42,792.3 L840.38,792.98 L839.33,793.72 L839.08,793.96 L838.38,795.88 L839.32,797.8 L839.33,797.81 L840.38,798.99 L841.08,799.72 L841.42,800.07 L842.47,801.08 L843.1,801.64 L843.52,802.1 L844.57,802.56 L845.62,803.01 L846.66,803.45 Z" fill="#7dc05c" fill-rule="evenodd" stroke="#000" stroke-width="0.6" stroke-opacity="0.9"/>
<path d="M839.23,817 L839.33,817.04 L840.38,817.34 L841.42,817.61 L842.47,817.87 L843.52,818.1 L844.57,818.2 L845.62,818.29 L846.66,818.38 L847.71,818.46 L848.76,818.5 L849.81,818.39 L850.86,818.29 L851.9,818.18 L852.95,818.07 L854,817.9 L855.05,817.58 L856.1,817.23 L856.73,817 L857.14,816.59 L858.19,815.46 L858.5,815.08 L858.19,814.79 L857.14,813.95 L856.1,813.2 L856.04,813.16 L855.05,812.71 L854,812.28 L852.95,812.06 L851.9,811.9 L850.86,811.76 L849.81,811.61 L848.76,811.48 L847.71,811.52 L846.66,811.64 L845.62,811.76 L844.57,811.88 L843.52,812.01 L842.47,812.33 L841.42,812.67 L840.38,813.04 L840.07,813.16 L839.33,813.57 L838.28,814.4 L837.54,815.08 L838.28,815.99 Z M843.44,797.8 L843.52,797.88 L844.57,798.31 L845.62,798.73 L846.66,799.14 L847.71,799.54 L848.76,799.69 L849.81,799.22 L850.86,798.74 L851.9,798.23 L852.78,797.8 L852.95,797.69 L854,796.73 L854.5,795.88 L854,794.75 L853.36,793.96 L852.95,793.77 L851.9,793.45 L850.86,793.13 L849.81,792.83 L848.76,792.54 L847.71,792.63 L846.66,792.88 L845.62,793.14 L844.57,793.4 L843.52,793.67 L843.06,793.96 L842.47,794.99 L841.99,795.88 L842.47,796.54 Z" fill="#debb3a" fill-rule="evenodd" stroke="#000" stroke-width="0.6" stroke-opacity="0.9"/>
<path d="M842.71,817 L843.52,817.21 L844.57,817.31 L845.62,817.42 L846.66,817.52 L847.71,817.62 L848.76,817.66 L849.81,817.54 L850.86,817.42 L851.9,817.29 L852.95,817.16 L853.86,817 L854,816.93 L855.05,816 L855.99,815.08 L855.05,814.39 L854,813.69 L852.95,813.32 L852.26,813.16 L851.9,813.1 L850.86,812.93 L849.81,812.77 L848.76,812.61 L847.71,812.66 L846.66,812.8 L845.62,812.93 L844.57,813.07 L843.94,813.16 L843.52,813.24 L842.47,813.76 L841.42,814.32 L840.38,814.92 L840.12,815.08 L840.38,815.29 L841.42,816.09 L842.47,816.84 Z" fill="#f3ca34" fill-rule="evenodd" stroke="#000" stroke-width="0.6" stroke-opacity="0.9"/>
<path d="M843.3,815.08 L843.52,815.24 L844.57,815.55 L845.62,815.85 L846.66,816.14 L847.71,816.42 L848.76,816.53 L849.81,816.19 L850.86,815.85 L851.9,815.49 L852.95,815.12 L853.02,815.08 L852.95,815.05 L851.9,814.77 L850.86,814.5 L849.81,814.24 L848.76,813.99 L847.71,814.07 L846.66,814.29 L845.62,814.51 L844.57,814.73 L843.52,814.96 Z" fill="#f5eb28" fill-rule="evenodd" stroke="#000" stroke-width="0.6" stroke-opacity="0.9"/>
</g>
<line x1="801.3" y1="711.4" x2="985" y2="711.4" stroke="#000" stroke-width="0.9"/>
<line x1="801.6" y1="711.4" x2="801.6" y2="826.6" stroke="#000" stroke-width="0.9"/>
<line x1="827.8" y1="711.4" x2="827.8" y2="713" stroke="#000" stroke-width="0.6"/>
<line x1="827.8" y1="826.6" x2="827.8" y2="825" stroke="#000" stroke-width="0.6"/>
<line x1="880.2" y1="711.4" x2="880.2" y2="713" stroke="#000" stroke-width="0.6"/>
<line x1="880.2" y1="826.6" x2="880.2" y2="825" stroke="#000" stroke-width="0.6"/>
<line x1="932.6" y1="711.4" x2="932.6" y2="713" stroke="#000" stroke-width="0.6"/>
<line x1="932.6" y1="826.6" x2="932.6" y2="825" stroke="#000" stroke-width="0.6"/>
<line x1="801.6" y1="788.2" x2="803.2" y2="788.2" stroke="#000" stroke-width="0.6"/>
<line x1="985" y1="788.2" x2="983.4" y2="788.2" stroke="#000" stroke-width="0.6"/>
<line x1="801.6" y1="749.8" x2="803.2" y2="749.8" stroke="#000" stroke-width="0.6"/>
<line x1="985" y1="749.8" x2="983.4" y2="749.8" stroke="#000" stroke-width="0.6"/>
<g font-family='"Liberation Serif", serif' font-weight="bold" font-size="12.8" fill="#111">
<text x="827.8" y="842.5" text-anchor="middle">300</text>
<text x="880.2" y="842.5" text-anchor="middle">400</text>
<text x="932.6" y="842.5" text-anchor="middle">500</text>
<text x="985" y="842.5" text-anchor="middle">600</text>
<text x="797" y="831.3" text-anchor="end">200</text>
<text x="797" y="792.9" text-anchor="end">300</text>
<text x="797" y="754.5" text-anchor="end">400</text>
<text x="797" y="716.1" text-anchor="end">500</text>
<text x="893.3" y="859" text-anchor="middle" font-size="14">Em. (nm)</text>
<text transform="translate(774.6,769) rotate(-90)" text-anchor="middle" font-size="14">Ex. (nm)</text>
<text x="825.4" y="736" font-size="14">C4</text>
</g>
</g>
<g>
<clipPath id="ccc5"><polygon points="1047.6,807.4 1178.6,711.4 1231,711.4 1231,826.6 1047.6,826.6"/></clipPath>
<polygon points="1047.6,807.4 1178.6,711.4 1231,711.4 1231,826.6 1047.6,826.6" fill="#362c8c"/>
<g clip-path="url(#ccc5)">
<path d="M1047.6,826.6 L1048.65,826.6 L1049.7,826.6 L1050.74,826.6 L1051.79,826.6 L1052.84,826.6 L1053.89,826.6 L1054.94,826.6 L1055.98,826.6 L1057.03,826.6 L1058.08,826.6 L1059.13,826.6 L1060.18,826.6 L1061.22,826.6 L1062.27,826.6 L1063.32,826.6 L1064.37,826.6 L1065.42,826.6 L1066.46,826.6 L1067.51,826.6 L1068.56,826.6 L1069.61,826.6 L1070.66,826.6 L1071.7,826.6 L1072.75,826.6 L1073.8,826.6 L1074.85,826.6 L1075.9,826.6 L1076.94,826.6 L1077.99,826.6 L1079.04,826.6 L1080.09,826.6 L1081.14,826.6 L1082.18,826.6 L1083.23,826.6 L1084.28,826.6 L1085.33,826.6 L1086.38,826.6 L1087.42,826.6 L1088.47,826.6 L1089.52,826.6 L1090.57,826.6 L1091.62,826.6 L1092.66,826.6 L1093.71,826.6 L1094.76,826.6 L1095.81,826.6 L1096.86,826.6 L1097.9,826.6 L1098.95,826.6 L1100,826.6 L1101.05,826.6 L1102.1,826.6 L1103.14,826.6 L1104.19,826.6 L1105.24,826.6 L1106.29,826.6 L1107.34,826.6 L1108.38,826.6 L1109.43,826.6 L1110.48,826.6 L1111.53,826.6 L1112.58,826.6 L1113.62,826.6 L1114.67,826.6 L1115.72,826.6 L1116.77,826.6 L1117.82,826.6 L1118.86,826.6 L1119.91,826.6 L1120.96,826.6 L1122.01,826.6 L1123.06,826.6 L1124.1,826.6 L1125.15,826.6 L1126.2,826.6 L1127.25,826.6 L1128.3,826.6 L1129.34,826.6 L1130.39,826.6 L1131.44,826.6 L1132.49,826.6 L1133.54,826.6 L1134.58,826.6 L1135.63,826.6 L1136.68,826.6 L1137.73,826.6 L1138.78,826.6 L1139.82,826.6 L1140.87,826.6 L1141.38,826.6 L1141.29,824.68 L1141.16,822.76 L1140.97,820.84 L1140.87,819.97 L1140.73,818.92 L1140.29,817 L1139.82,816 L1138.78,815.37 L1138.12,815.08 L1137.73,814.78 L1136.68,814.12 L1135.63,813.79 L1134.58,813.52 L1133.54,813.27 L1132.99,813.16 L1132.49,813 L1131.44,812.7 L1130.39,812.8 L1129.34,812.92 L1128.3,813.03 L1127.25,813.16 L1127.23,813.16 L1126.2,813.23 L1125.15,813.29 L1124.1,813.36 L1123.06,813.44 L1122.01,813.51 L1120.96,813.57 L1119.91,813.58 L1118.86,813.59 L1117.82,813.6 L1116.77,813.6 L1115.72,813.61 L1114.67,813.62 L1113.62,813.63 L1112.58,813.63 L1111.53,813.61 L1110.48,813.58 L1109.43,813.55 L1108.38,813.52 L1107.34,813.49 L1106.29,813.46 L1105.24,813.43 L1104.19,813.4 L1103.14,813.36 L1102.1,813.32 L1101.05,813.29 L1100,813.25 L1098.95,813.22 L1097.9,813.18 L1097.16,813.16 L1096.86,813.14 L1095.81,813.12 L1094.76,813.11 L1093.71,813.1 L1092.66,813.08 L1091.62,813.07 L1090.57,813.06 L1089.52,813.05 L1088.47,813.04 L1087.42,813.03 L1086.38,813.02 L1085.33,813 L1084.28,813 L1083.23,813 L1082.18,812.99 L1081.14,812.99 L1080.09,812.99 L1079.04,812.99 L1077.99,812.98 L1076.94,812.98 L1075.9,812.98 L1074.85,812.98 L1073.8,813.03 L1072.75,813.11 L1071.97,813.16 L1071.7,813.17 L1070.66,813.22 L1069.61,813.27 L1068.56,813.31 L1067.51,813.41 L1066.46,813.58 L1065.42,813.76 L1064.37,813.96 L1063.32,814.18 L1062.27,814.45 L1061.22,814.77 L1060.32,815.08 L1060.18,815.11 L1059.13,815.31 L1058.08,815.49 L1057.03,815.64 L1055.98,815.8 L1054.94,815.98 L1053.89,816.18 L1052.84,816.41 L1051.79,816.71 L1050.94,817 L1050.74,817.08 L1049.7,817.58 L1048.65,818.19 L1047.61,818.92 L1047.6,818.93 L1047.6,820.84 L1047.6,822.76 L1047.6,824.68 Z" fill="#3c4da2" fill-rule="evenodd" stroke="#000" stroke-width="0.6" stroke-opacity="0.9"/>
<path d="M1047.6,826.6 L1048.65,826.6 L1049.7,826.6 L1050.74,826.6 L1051.79,826.6 L1052.84,826.6 L1053.89,826.6 L1054.94,826.6 L1055.98,826.6 L1057.03,826.6 L1058.08,826.6 L1059.13,826.6 L1060.18,826.6 L1061.22,826.6 L1062.27,826.6 L1063.32,826.6 L1064.37,826.6 L1065.42,826.6 L1066.46,826.6 L1067.51,826.6 L1068.56,826.6 L1069.61,826.6 L1070.66,826.6 L1071.7,826.6 L1072.75,826.6 L1073.8,826.6 L1074.85,826.6 L1075.9,826.6 L1076.94,826.6 L1077.99,826.6 L1079.04,826.6 L1080.09,826.6 L1081.14,826.6 L1082.18,826.6 L1083.23,826.6 L1084.28,826.6 L1085.33,826.6 L1086.38,826.6 L1087.42,826.6 L1088.47,826.6 L1089.52,826.6 L1090.57,826.6 L1091.62,826.6 L1092.66,826.6 L1093.71,826.6 L1094.76,826.6 L1095.81,826.6 L1096.86,826.6 L1097.9,826.6 L1098.95,826.6 L1100,826.6 L1101.05,826.6 L1102.1,826.6 L1103.14,826.6 L1104.19,826.6 L1105.24,826.6 L1106.29,826.6 L1107.34,826.6 L1108.38,826.6 L1109.43,826.6 L1110.48,826.6 L1111.53,826.6 L1112.58,826.6 L1113.62,826.6 L1114.67,826.6 L1115.72,826.6 L1116.77,826.6 L1117.82,826.6 L1118.86,826.6 L1119.91,826.6 L1120.96,826.6 L1122.01,826.6 L1123.06,826.6 L1124.1,826.6 L1125.15,826.6 L1126.2,826.6 L1127.25,826.6 L1128.3,826.6 L1129.34,826.6 L1130.39,826.6 L1131.44,826.6 L1132.49,826.6 L1133.54,826.6 L1134.58,826.6 L1135.63,826.6 L1136.68,826.6 L1137.73,826.6 L1138.78,826.6 L1139.82,826.6 L1140.8,826.6 L1140.61,824.68 L1140.35,822.76 L1139.96,820.84 L1139.82,820.24 L1139,818.92 L1138.78,818.64 L1137.73,817.58 L1136.99,817 L1136.68,816.83 L1135.63,816.51 L1134.58,816.23 L1133.54,815.99 L1132.49,815.78 L1131.44,815.59 L1130.39,815.66 L1129.34,815.72 L1128.3,815.8 L1127.25,815.87 L1126.2,815.94 L1125.15,816.01 L1124.1,816.08 L1123.06,816.15 L1122.01,816.23 L1120.96,816.29 L1119.91,816.29 L1118.86,816.3 L1117.82,816.31 L1116.77,816.32 L1115.72,816.32 L1114.67,816.33 L1113.62,816.34 L1112.58,816.35 L1111.53,816.32 L1110.48,816.29 L1109.43,816.26 L1108.38,816.23 L1107.34,816.2 L1106.29,816.17 L1105.24,816.15 L1104.19,816.11 L1103.14,816.07 L1102.1,816.04 L1101.05,816 L1100,815.96 L1098.95,815.93 L1097.9,815.9 L1096.86,815.86 L1095.81,815.85 L1094.76,815.84 L1093.71,815.83 L1092.66,815.83 L1091.62,815.82 L1090.57,815.81 L1089.52,815.81 L1088.47,815.8 L1087.42,815.79 L1086.38,815.79 L1085.33,815.78 L1084.28,815.77 L1083.23,815.77 L1082.18,815.77 L1081.14,815.77 L1080.09,815.77 L1079.04,815.77 L1077.99,815.77 L1076.94,815.76 L1075.9,815.76 L1074.85,815.76 L1073.8,815.8 L1072.75,815.84 L1071.7,815.88 L1070.66,815.93 L1069.61,815.98 L1068.56,816.03 L1067.51,816.12 L1066.46,816.29 L1065.42,816.47 L1064.37,816.67 L1063.32,816.89 L1062.88,817 L1062.27,817.19 L1061.22,817.56 L1060.18,818 L1059.13,818.5 L1058.1,818.92 L1058.08,818.93 L1057.03,819.31 L1055.98,819.73 L1054.94,820.19 L1053.89,820.71 L1053.65,820.84 L1052.84,821.21 L1051.79,821.84 L1050.74,822.58 L1050.52,822.76 L1049.7,823.45 L1048.65,824.5 L1048.48,824.68 L1047.6,825.76 Z" fill="#3572bc" fill-rule="evenodd" stroke="#000" stroke-width="0.6" stroke-opacity="0.9"/>
<path d="M1051.43,826.6 L1051.79,826.6 L1052.84,826.6 L1053.89,826.6 L1054.94,826.6 L1055.98,826.6 L1057.03,826.6 L1058.08,826.6 L1059.13,826.6 L1060.18,826.6 L1061.22,826.6 L1062.27,826.6 L1063.32,826.6 L1064.37,826.6 L1065.42,826.6 L1066.46,826.6 L1067.51,826.6 L1068.56,826.6 L1069.61,826.6 L1070.66,826.6 L1071.7,826.6 L1072.75,826.6 L1073.8,826.6 L1074.85,826.6 L1075.9,826.6 L1076.94,826.6 L1077.99,826.6 L1079.04,826.6 L1080.09,826.6 L1081.14,826.6 L1082.18,826.6 L1083.23,826.6 L1084.28,826.6 L1085.33,826.6 L1086.38,826.6 L1087.42,826.6 L1088.47,826.6 L1089.52,826.6 L1090.57,826.6 L1091.62,826.6 L1092.66,826.6 L1093.71,826.6 L1094.76,826.6 L1095.81,826.6 L1096.86,826.6 L1097.9,826.6 L1098.95,826.6 L1100,826.6 L1101.05,826.6 L1102.1,826.6 L1103.14,826.6 L1104.19,826.6 L1105.24,826.6 L1106.29,826.6 L1107.34,826.6 L1108.38,826.6 L1109.43,826.6 L1110.48,826.6 L1111.53,826.6 L1112.58,826.6 L1113.62,826.6 L1114.67,826.6 L1115.72,826.6 L1116.77,826.6 L1117.82,826.6 L1118.86,826.6 L1119.91,826.6 L1120.96,826.6 L1122.01,826.6 L1123.06,826.6 L1124.1,826.6 L1125.15,826.6 L1126.2,826.6 L1127.25,826.6 L1128.3,826.6 L1129.34,826.6 L1130.39,826.6 L1131.44,826.6 L1132.49,826.6 L1133.54,826.6 L1134.58,826.6 L1135.63,826.6 L1136.68,826.6 L1137.73,826.6 L1138.78,826.6 L1139.82,826.6 L1140.23,826.6 L1139.94,824.68 L1139.82,824.05 L1139.18,822.76 L1138.78,822.09 L1137.84,820.84 L1137.73,820.68 L1136.68,819.44 L1135.79,818.92 L1135.63,818.84 L1134.58,818.34 L1133.54,817.91 L1132.49,817.53 L1131.44,817.19 L1130.39,817.31 L1129.34,817.44 L1128.3,817.57 L1127.25,817.7 L1126.2,817.82 L1125.15,817.94 L1124.1,818.07 L1123.06,818.2 L1122.01,818.34 L1120.96,818.44 L1119.91,818.46 L1118.86,818.47 L1117.82,818.48 L1116.77,818.5 L1115.72,818.51 L1114.67,818.52 L1113.62,818.54 L1112.58,818.55 L1111.53,818.5 L1110.48,818.45 L1109.43,818.4 L1108.38,818.34 L1107.34,818.29 L1106.29,818.24 L1105.24,818.2 L1104.19,818.13 L1103.14,818.06 L1102.1,817.99 L1101.05,817.93 L1100,817.87 L1098.95,817.81 L1097.9,817.75 L1096.86,817.69 L1095.81,817.66 L1094.76,817.65 L1093.71,817.63 L1092.66,817.62 L1091.62,817.61 L1090.57,817.59 L1089.52,817.58 L1088.47,817.57 L1087.42,817.56 L1086.38,817.54 L1085.33,817.53 L1084.28,817.53 L1083.23,817.52 L1082.18,817.52 L1081.14,817.52 L1080.09,817.51 L1079.04,817.51 L1077.99,817.51 L1076.94,817.51 L1075.9,817.5 L1074.85,817.5 L1073.8,817.56 L1072.75,817.64 L1071.7,817.72 L1070.66,817.81 L1069.61,817.89 L1068.56,817.98 L1067.51,818.15 L1066.46,818.45 L1065.42,818.77 L1064.98,818.92 L1064.37,819.14 L1063.32,819.56 L1062.27,820.07 L1061.22,820.66 L1060.94,820.84 L1060.18,821.25 L1059.13,821.9 L1058.08,822.46 L1057.38,822.76 L1057.03,822.92 L1055.98,823.42 L1054.94,823.99 L1053.89,824.62 L1053.79,824.68 L1052.84,825.31 L1051.79,826.24 Z" fill="#2896c4" fill-rule="evenodd" stroke="#000" stroke-width="0.6" stroke-opacity="0.9"/>
<path d="M1056.34,826.6 L1057.03,826.6 L1058.08,826.6 L1059.13,826.6 L1060.18,826.6 L1061.22,826.6 L1062.27,826.6 L1063.32,826.6 L1064.37,826.6 L1065.42,826.6 L1066.46,826.6 L1067.51,826.6 L1068.56,826.6 L1069.61,826.6 L1070.66,826.6 L1071.7,826.6 L1072.75,826.6 L1073.8,826.6 L1074.85,826.6 L1075.9,826.6 L1076.94,826.6 L1077.99,826.6 L1079.04,826.6 L1080.09,826.6 L1081.14,826.6 L1082.18,826.6 L1083.23,826.6 L1084.28,826.6 L1085.33,826.6 L1086.38,826.6 L1087.42,826.6 L1088.47,826.6 L1089.52,826.6 L1090.57,826.6 L1091.62,826.6 L1092.66,826.6 L1093.71,826.6 L1094.76,826.6 L1095.81,826.6 L1096.86,826.6 L1097.9,826.6 L1098.95,826.6 L1100,826.6 L1101.05,826.6 L1102.1,826.6 L1103.14,826.6 L1104.19,826.6 L1105.24,826.6 L1106.29,826.6 L1107.34,826.6 L1108.38,826.6 L1109.43,826.6 L1110.48,826.6 L1111.53,826.6 L1112.58,826.6 L1113.62,826.6 L1114.67,826.6 L1115.72,826.6 L1116.77,826.6 L1117.82,826.6 L1118.86,826.6 L1119.91,826.6 L1120.96,826.6 L1122.01,826.6 L1123.06,826.6 L1124.1,826.6 L1125.15,826.6 L1126.2,826.6 L1127.25,826.6 L1128.3,826.6 L1129.34,826.6 L1130.39,826.6 L1131.44,826.6 L1132.49,826.6 L1133.54,826.6 L1134.58,826.6 L1135.63,826.6 L1136.68,826.6 L1137.73,826.6 L1138.78,826.6 L1139.44,826.6 L1138.78,825.08 L1138.57,824.68 L1137.73,823.27 L1137.36,822.76 L1136.68,821.93 L1135.63,821.27 L1134.84,820.84 L1134.58,820.68 L1133.54,820.07 L1132.49,819.54 L1131.44,819.06 L1130.39,819.23 L1129.34,819.41 L1128.3,819.59 L1127.25,819.78 L1126.2,819.95 L1125.15,820.12 L1124.1,820.3 L1123.06,820.48 L1122.01,820.68 L1120.96,820.82 L1120.09,820.84 L1119.91,820.84 L1118.86,820.86 L1117.82,820.87 L1116.77,820.89 L1115.72,820.9 L1114.67,820.92 L1113.62,820.93 L1112.58,820.95 L1111.53,820.89 L1110.62,820.84 L1110.48,820.83 L1109.43,820.76 L1108.38,820.68 L1107.34,820.61 L1106.29,820.54 L1105.24,820.47 L1104.19,820.38 L1103.14,820.28 L1102.1,820.19 L1101.05,820.1 L1100,820.01 L1098.95,819.93 L1097.9,819.84 L1096.86,819.76 L1095.81,819.72 L1094.76,819.7 L1093.71,819.68 L1092.66,819.66 L1091.62,819.65 L1090.57,819.63 L1089.52,819.61 L1088.47,819.59 L1087.42,819.58 L1086.38,819.56 L1085.33,819.54 L1084.28,819.53 L1083.23,819.53 L1082.18,819.52 L1081.14,819.52 L1080.09,819.52 L1079.04,819.51 L1077.99,819.51 L1076.94,819.5 L1075.9,819.5 L1074.85,819.5 L1073.8,819.59 L1072.75,819.7 L1071.7,819.81 L1070.66,819.93 L1069.61,820.05 L1068.56,820.17 L1067.51,820.42 L1066.46,820.83 L1066.44,820.84 L1065.42,821.2 L1064.37,821.61 L1063.32,822.06 L1062.27,822.61 L1062.02,822.76 L1061.22,823.25 L1060.18,823.99 L1059.31,824.68 L1059.13,824.84 L1058.08,825.56 L1057.03,826.17 Z" fill="#1eb4aa" fill-rule="evenodd" stroke="#000" stroke-width="0.6" stroke-opacity="0.9"/>
<path d="M1060.25,826.6 L1061.22,826.6 L1062.27,826.6 L1063.32,826.6 L1064.37,826.6 L1065.42,826.6 L1066.46,826.6 L1067.51,826.6 L1068.56,826.6 L1069.61,826.6 L1070.66,826.6 L1071.7,826.6 L1072.75,826.6 L1073.8,826.6 L1074.85,826.6 L1075.9,826.6 L1076.94,826.6 L1077.99,826.6 L1079.04,826.6 L1080.09,826.6 L1081.14,826.6 L1082.18,826.6 L1083.23,826.6 L1084.28,826.6 L1085.33,826.6 L1086.38,826.6 L1087.42,826.6 L1088.47,826.6 L1089.52,826.6 L1090.57,826.6 L1091.62,826.6 L1092.66,826.6 L1093.71,826.6 L1094.76,826.6 L1095.81,826.6 L1096.86,826.6 L1097.9,826.6 L1098.95,826.6 L1100,826.6 L1101.05,826.6 L1102.1,826.6 L1103.14,826.6 L1104.19,826.6 L1105.24,826.6 L1106.29,826.6 L1107.34,826.6 L1108.38,826.6 L1109.43,826.6 L1110.48,826.6 L1111.53,826.6 L1112.58,826.6 L1113.62,826.6 L1114.67,826.6 L1115.72,826.6 L1116.77,826.6 L1117.82,826.6 L1118.86,826.6 L1119.91,826.6 L1120.96,826.6 L1122.01,826.6 L1123.06,826.6 L1124.1,826.6 L1125.15,826.6 L1126.2,826.6 L1127.25,826.6 L1128.3,826.6 L1129.34,826.6 L1130.39,826.6 L1131.44,826.6 L1132.49,826.6 L1133.54,826.6 L1134.58,826.6 L1135.63,826.6 L1136.68,826.6 L1137.73,826.6 L1138.15,826.6 L1137.73,825.79 L1137.05,824.68 L1136.68,824.14 L1135.63,823.33 L1134.8,822.76 L1134.58,822.62 L1133.54,822.01 L1132.49,821.47 L1131.44,820.99 L1130.39,821.16 L1129.34,821.33 L1128.3,821.52 L1127.25,821.71 L1126.2,821.88 L1125.15,822.06 L1124.1,822.24 L1123.06,822.43 L1122.01,822.62 L1121.05,822.76 L1120.96,822.77 L1119.91,822.79 L1118.86,822.81 L1117.82,822.83 L1116.77,822.85 L1115.72,822.87 L1114.67,822.89 L1113.62,822.9 L1112.58,822.92 L1111.53,822.85 L1110.48,822.78 L1110.23,822.76 L1109.43,822.7 L1108.38,822.63 L1107.34,822.56 L1106.29,822.49 L1105.24,822.42 L1104.19,822.32 L1103.14,822.22 L1102.1,822.13 L1101.05,822.04 L1100,821.95 L1098.95,821.86 L1097.9,821.77 L1096.86,821.69 L1095.81,821.65 L1094.76,821.63 L1093.71,821.61 L1092.66,821.6 L1091.62,821.58 L1090.57,821.56 L1089.52,821.54 L1088.47,821.52 L1087.42,821.51 L1086.38,821.49 L1085.33,821.47 L1084.28,821.46 L1083.23,821.46 L1082.18,821.45 L1081.14,821.45 L1080.09,821.44 L1079.04,821.44 L1077.99,821.44 L1076.94,821.43 L1075.9,821.43 L1074.85,821.42 L1073.8,821.52 L1072.75,821.63 L1071.7,821.74 L1070.66,821.86 L1069.61,821.98 L1068.56,822.11 L1067.51,822.36 L1066.51,822.76 L1066.46,822.78 L1065.42,823.24 L1064.37,823.74 L1063.32,824.3 L1062.72,824.68 L1062.27,824.98 L1061.22,825.77 Z" fill="#65bd6f" fill-rule="evenodd" stroke="#000" stroke-width="0.6" stroke-opacity="0.9"/>
<path d="M1063.18,826.6 L1063.32,826.6 L1064.37,826.6 L1065.42,826.6 L1066.46,826.6 L1067.51,826.6 L1068.56,826.6 L1069.61,826.6 L1070.66,826.6 L1071.7,826.6 L1072.75,826.6 L1073.8,826.6 L1074.85,826.6 L1075.9,826.6 L1076.94,826.6 L1077.99,826.6 L1079.04,826.6 L1080.09,826.6 L1081.14,826.6 L1082.18,826.6 L1083.23,826.6 L1084.28,826.6 L1085.33,826.6 L1086.38,826.6 L1087.42,826.6 L1088.47,826.6 L1089.52,826.6 L1090.57,826.6 L1091.62,826.6 L1092.66,826.6 L1093.71,826.6 L1094.76,826.6 L1095.81,826.6 L1096.86,826.6 L1097.9,826.6 L1098.95,826.6 L1100,826.6 L1101.05,826.6 L1102.1,826.6 L1103.14,826.6 L1104.19,826.6 L1105.24,826.6 L1106.29,826.6 L1107.34,826.6 L1108.38,826.6 L1109.43,826.6 L1110.48,826.6 L1111.53,826.6 L1112.58,826.6 L1113.62,826.6 L1114.67,826.6 L1115.72,826.6 L1116.77,826.6 L1117.82,826.6 L1118.86,826.6 L1119.91,826.6 L1120.96,826.6 L1122.01,826.6 L1123.06,826.6 L1124.1,826.6 L1125.15,826.6 L1126.2,826.6 L1127.25,826.6 L1128.3,826.6 L1129.34,826.6 L1130.39,826.6 L1131.44,826.6 L1132.49,826.6 L1133.54,826.6 L1134.58,826.6 L1135.63,826.6 L1136.68,826.6 L1136.85,826.6 L1136.68,826.31 L1135.63,825.35 L1134.8,824.68 L1134.58,824.52 L1133.54,823.78 L1132.49,823.14 L1131.8,822.76 L1131.44,822.57 L1130.46,822.76 L1130.39,822.77 L1129.34,822.98 L1128.3,823.2 L1127.25,823.43 L1126.2,823.64 L1125.15,823.84 L1124.1,824.06 L1123.06,824.28 L1122.01,824.51 L1121.03,824.68 L1120.96,824.69 L1119.91,824.71 L1118.86,824.74 L1117.82,824.76 L1116.77,824.78 L1115.72,824.8 L1114.67,824.82 L1113.62,824.85 L1112.58,824.87 L1111.53,824.79 L1110.48,824.7 L1110.26,824.68 L1109.43,824.61 L1108.38,824.52 L1107.34,824.44 L1106.29,824.35 L1105.24,824.27 L1104.19,824.15 L1103.14,824.04 L1102.1,823.93 L1101.05,823.82 L1100,823.71 L1098.95,823.61 L1097.9,823.51 L1096.86,823.41 L1095.81,823.36 L1094.76,823.34 L1093.71,823.32 L1092.66,823.29 L1091.62,823.27 L1090.57,823.25 L1089.52,823.23 L1088.47,823.21 L1087.42,823.19 L1086.38,823.17 L1085.33,823.15 L1084.28,823.14 L1083.23,823.13 L1082.18,823.13 L1081.14,823.12 L1080.09,823.12 L1079.04,823.11 L1077.99,823.11 L1076.94,823.1 L1075.9,823.1 L1074.85,823.09 L1073.8,823.2 L1072.75,823.33 L1071.7,823.47 L1070.66,823.61 L1069.61,823.76 L1068.56,823.91 L1067.51,824.2 L1066.51,824.68 L1066.46,824.7 L1065.42,825.24 L1064.37,825.84 L1063.32,826.5 Z" fill="#d4bc3a" fill-rule="evenodd" stroke="#000" stroke-width="0.6" stroke-opacity="0.9"/>
<path d="M1066.45,826.6 L1066.46,826.6 L1067.51,826.6 L1068.56,826.6 L1069.61,826.6 L1070.66,826.6 L1071.7,826.6 L1072.75,826.6 L1073.8,826.6 L1074.85,826.6 L1075.9,826.6 L1076.94,826.6 L1077.99,826.6 L1079.04,826.6 L1080.09,826.6 L1081.14,826.6 L1082.18,826.6 L1083.23,826.6 L1084.28,826.6 L1085.33,826.6 L1086.38,826.6 L1087.42,826.6 L1088.47,826.6 L1089.52,826.6 L1090.57,826.6 L1091.62,826.6 L1092.66,826.6 L1093.71,826.6 L1094.76,826.6 L1095.81,826.6 L1096.86,826.6 L1097.9,826.6 L1098.95,826.6 L1100,826.6 L1101.05,826.6 L1102.1,826.6 L1103.14,826.6 L1104.19,826.6 L1105.24,826.6 L1106.29,826.6 L1107.34,826.6 L1108.38,826.6 L1109.43,826.6 L1110.48,826.6 L1110.61,826.6 L1110.48,826.59 L1109.43,826.49 L1108.38,826.39 L1107.34,826.29 L1106.29,826.19 L1105.24,826.09 L1104.19,825.96 L1103.14,825.83 L1102.1,825.7 L1101.05,825.58 L1100,825.46 L1098.95,825.34 L1097.9,825.22 L1096.86,825.1 L1095.81,825.05 L1094.76,825.02 L1093.71,825 L1092.66,824.97 L1091.62,824.95 L1090.57,824.93 L1089.52,824.9 L1088.47,824.88 L1087.42,824.85 L1086.38,824.83 L1085.33,824.8 L1084.28,824.79 L1083.23,824.79 L1082.18,824.78 L1081.14,824.77 L1080.09,824.77 L1079.04,824.76 L1077.99,824.76 L1076.94,824.75 L1075.9,824.75 L1074.85,824.74 L1073.8,824.87 L1072.75,825.02 L1071.7,825.18 L1070.66,825.34 L1069.61,825.5 L1068.56,825.68 L1067.51,826.01 L1066.46,826.59 Z M1120.15,826.6 L1120.96,826.6 L1122.01,826.6 L1123.06,826.6 L1124.1,826.6 L1125.15,826.6 L1126.2,826.6 L1127.25,826.6 L1128.3,826.6 L1129.34,826.6 L1130.39,826.6 L1131.44,826.6 L1132.49,826.6 L1133.54,826.6 L1134.58,826.6 L1134.84,826.6 L1134.58,826.38 L1133.54,825.54 L1132.49,824.8 L1132.31,824.68 L1131.44,824.14 L1130.39,824.37 L1129.34,824.62 L1129.08,824.68 L1128.3,824.87 L1127.25,825.13 L1126.2,825.37 L1125.15,825.6 L1124.1,825.85 L1123.06,826.11 L1122.01,826.37 L1120.96,826.58 Z" fill="#f3c636" fill-rule="evenodd" stroke="#000" stroke-width="0.6" stroke-opacity="0.9"/>
<path d="M1073.24,826.6 L1073.8,826.6 L1074.85,826.6 L1075.9,826.6 L1076.94,826.6 L1077.99,826.6 L1079.04,826.6 L1080.09,826.6 L1081.14,826.6 L1082.18,826.6 L1083.23,826.6 L1084.28,826.6 L1085.33,826.6 L1086.38,826.6 L1087.42,826.6 L1088.47,826.6 L1089.52,826.6 L1090.57,826.6 L1091.5,826.6 L1090.57,826.58 L1089.52,826.55 L1088.47,826.52 L1087.42,826.49 L1086.38,826.46 L1085.33,826.44 L1084.28,826.42 L1083.23,826.42 L1082.18,826.41 L1081.14,826.4 L1080.09,826.4 L1079.04,826.39 L1077.99,826.38 L1076.94,826.38 L1075.9,826.37 L1074.85,826.37 L1073.8,826.51 Z M1127.98,826.6 L1128.3,826.6 L1129.34,826.6 L1130.39,826.6 L1131.44,826.6 L1132.49,826.6 L1132.71,826.6 L1132.49,826.43 L1131.44,825.68 L1130.39,825.95 L1129.34,826.22 L1128.3,826.51 Z" fill="#f5eb28" fill-rule="evenodd" stroke="#000" stroke-width="0.6" stroke-opacity="0.9"/>
</g>
<line x1="1047.3" y1="711.4" x2="1231" y2="711.4" stroke="#000" stroke-width="0.9"/>
<line x1="1047.6" y1="711.4" x2="1047.6" y2="826.6" stroke="#000" stroke-width="0.9"/>
<line x1="1073.8" y1="711.4" x2="1073.8" y2="713" stroke="#000" stroke-width="0.6"/>
<line x1="1073.8" y1="826.6" x2="1073.8" y2="825" stroke="#000" stroke-width="0.6"/>
<line x1="1126.2" y1="711.4" x2="1126.2" y2="713" stroke="#000" stroke-width="0.6"/>
<line x1="1126.2" y1="826.6" x2="1126.2" y2="825" stroke="#000" stroke-width="0.6"/>
<line x1="1178.6" y1="711.4" x2="1178.6" y2="713" stroke="#000" stroke-width="0.6"/>
<line x1="1178.6" y1="826.6" x2="1178.6" y2="825" stroke="#000" stroke-width="0.6"/>
<line x1="1047.6" y1="788.2" x2="1049.2" y2="788.2" stroke="#000" stroke-width="0.6"/>
<line x1="1231" y1="788.2" x2="1229.4" y2="788.2" stroke="#000" stroke-width="0.6"/>
<line x1="1047.6" y1="749.8" x2="1049.2" y2="749.8" stroke="#000" stroke-width="0.6"/>
<line x1="1231" y1="749.8" x2="1229.4" y2="749.8" stroke="#000" stroke-width="0.6"/>
<g font-family='"Liberation Serif", serif' font-weight="bold" font-size="12.8" fill="#111">
<text x="1073.8" y="842.5" text-anchor="middle">300</text>
<text x="1126.2" y="842.5" text-anchor="middle">400</text>
<text x="1178.6" y="842.5" text-anchor="middle">500</text>
<text x="1231" y="842.5" text-anchor="middle">600</text>
<text x="1043" y="831.3" text-anchor="end">200</text>
<text x="1043" y="792.9" text-anchor="end">300</text>
<text x="1043" y="754.5" text-anchor="end">400</text>
<text x="1043" y="716.1" text-anchor="end">500</text>
<text x="1139.3" y="859" text-anchor="middle" font-size="14">Em. (nm)</text>
<text transform="translate(1020.6,769) rotate(-90)" text-anchor="middle" font-size="14">Ex. (nm)</text>
<text x="1074" y="736" font-size="14">C5</text>
</g>
</g>
<g>
<clipPath id="cla1"><rect x="67.6" y="177.4" width="180" height="145"/></clipPath>
<polyline clip-path="url(#cla1)" points="86,307 96.4,223 100.6,212.4 103,231 105,251 107.4,271 111,283 116,291.4 120,300 123,304 126,303 131,298.6 136,297.4 142,300 148,303.6 152,305.2 193,305.4" fill="none" stroke="#000" stroke-width="0.95" stroke-linejoin="round"/>
<polyline clip-path="url(#cla1)" points="104,305.4 119,305.4 123,304.6 128,301 134,293 140,274 146,253 150,242 153.4,238 157,242 160,249 167,261 174,274 180,290 184,299 187,303 191,305.2 229.6,305.4" fill="none" stroke="#f00" stroke-width="0.95" stroke-linejoin="round"/>
<line x1="67.1" y1="177.4" x2="248.1" y2="177.4" stroke="#000" stroke-width="1.0"/>
<line x1="67.1" y1="322.4" x2="248.1" y2="322.4" stroke="#000" stroke-width="1.0"/>
<line x1="67.6" y1="177.4" x2="67.6" y2="322.4" stroke="#bbb" stroke-width="0.6"/>
<line x1="247.6" y1="177.4" x2="247.6" y2="322.4" stroke="#000" stroke-width="1.0"/>
<g font-family='"Liberation Serif", serif' font-weight="bold" font-size="8" fill="#000">
<line x1="85.6" y1="322.4" x2="85.6" y2="324.4" stroke="#000" stroke-width="0.6"/>
<text x="85.6" y="333.8" text-anchor="middle">200</text>
<line x1="121.6" y1="322.4" x2="121.6" y2="324.4" stroke="#000" stroke-width="0.6"/>
<text x="121.6" y="333.8" text-anchor="middle">300</text>
<line x1="157.6" y1="322.4" x2="157.6" y2="324.4" stroke="#000" stroke-width="0.6"/>
<text x="157.6" y="333.8" text-anchor="middle">400</text>
<line x1="193.6" y1="322.4" x2="193.6" y2="324.4" stroke="#000" stroke-width="0.6"/>
<text x="193.6" y="333.8" text-anchor="middle">500</text>
<line x1="229.6" y1="322.4" x2="229.6" y2="324.4" stroke="#000" stroke-width="0.6"/>
<text x="229.6" y="333.8" text-anchor="middle">600</text>
<line x1="65.6" y1="322.4" x2="67.6" y2="322.4" stroke="#999" stroke-width="0.6"/>
<text x="63.4" y="325.1" text-anchor="end">0.1</text>
<line x1="65.6" y1="305.34" x2="67.6" y2="305.34" stroke="#999" stroke-width="0.6"/>
<text x="63.4" y="308.04" text-anchor="end">0.0</text>
<line x1="65.6" y1="288.28" x2="67.6" y2="288.28" stroke="#999" stroke-width="0.6"/>
<text x="63.4" y="290.98" text-anchor="end">0.1</text>
<line x1="65.6" y1="271.22" x2="67.6" y2="271.22" stroke="#999" stroke-width="0.6"/>
<text x="63.4" y="273.92" text-anchor="end">0.2</text>
<line x1="65.6" y1="254.16" x2="67.6" y2="254.16" stroke="#999" stroke-width="0.6"/>
<text x="63.4" y="256.86" text-anchor="end">0.3</text>
<line x1="65.6" y1="237.11" x2="67.6" y2="237.11" stroke="#999" stroke-width="0.6"/>
<text x="63.4" y="239.81" text-anchor="end">0.4</text>
<line x1="65.6" y1="220.05" x2="67.6" y2="220.05" stroke="#999" stroke-width="0.6"/>
<text x="63.4" y="222.75" text-anchor="end">0.5</text>
<line x1="65.6" y1="202.99" x2="67.6" y2="202.99" stroke="#999" stroke-width="0.6"/>
<text x="63.4" y="205.69" text-anchor="end">0.6</text>
<line x1="65.6" y1="185.93" x2="67.6" y2="185.93" stroke="#999" stroke-width="0.6"/>
<text x="63.4" y="188.63" text-anchor="end">0.7</text>
<text x="157.6" y="347" text-anchor="middle" font-size="8">Wavelength (nm)</text>
<text transform="translate(43.1,249.9) rotate(-90)" text-anchor="middle" font-size="7.5">Loading</text>
</g>
<g font-family='"Liberation Sans", sans-serif' font-size="6.9" fill="#000">
<line x1="78" y1="183.6" x2="96" y2="183.6" stroke="#000" stroke-width="0.8"/>
<text x="100.5" y="186">Ex</text>
<text x="100.5" y="195.8">Em</text>
</g>
</g>
<g>
<clipPath id="cla2"><rect x="314.8" y="177.4" width="179.8" height="145"/></clipPath>
<polyline clip-path="url(#cla2)" points="332.4,301 336,304 340,305.4 348,304.4 351,298 352,293 356,265 360,235 365,206 368.6,197 372.4,206 376,235 380,263 384,285 388,301 393,308 397,310.4 436,310.4" fill="none" stroke="#000" stroke-width="0.95" stroke-linejoin="round"/>
<polyline clip-path="url(#cla2)" points="351,310.4 367,310.4 370,309 374,303 380,277 386,245 390,223 393,212 395,209 398,209.4 401,218 404,231 410,257 416,279 422,295 428,305 434,309.4 438,310.4 444,310.4 450,308.6 456,307.8 466,308.6 476,309.2" fill="none" stroke="#f00" stroke-width="0.95" stroke-linejoin="round"/>
<line x1="314.3" y1="177.4" x2="495.1" y2="177.4" stroke="#000" stroke-width="1.0"/>
<line x1="314.3" y1="322.4" x2="495.1" y2="322.4" stroke="#000" stroke-width="1.0"/>
<line x1="314.8" y1="177.4" x2="314.8" y2="322.4" stroke="#000" stroke-width="1.0"/>
<line x1="494.6" y1="177.4" x2="494.6" y2="322.4" stroke="#000" stroke-width="1.0"/>
<g font-family='"Liberation Serif", serif' font-weight="bold" font-size="8" fill="#000">
<line x1="332.4" y1="322.4" x2="332.4" y2="324.4" stroke="#000" stroke-width="0.6"/>
<text x="332.4" y="333.8" text-anchor="middle">200</text>
<line x1="368.4" y1="322.4" x2="368.4" y2="324.4" stroke="#000" stroke-width="0.6"/>
<text x="368.4" y="333.8" text-anchor="middle">300</text>
<line x1="404.4" y1="322.4" x2="404.4" y2="324.4" stroke="#000" stroke-width="0.6"/>
<text x="404.4" y="333.8" text-anchor="middle">400</text>
<line x1="440.4" y1="322.4" x2="440.4" y2="324.4" stroke="#000" stroke-width="0.6"/>
<text x="440.4" y="333.8" text-anchor="middle">500</text>
<line x1="476.4" y1="322.4" x2="476.4" y2="324.4" stroke="#000" stroke-width="0.6"/>
<text x="476.4" y="333.8" text-anchor="middle">600</text>
<line x1="312.8" y1="310.32" x2="314.8" y2="310.32" stroke="#222" stroke-width="0.6"/>
<text x="310.6" y="313.02" text-anchor="end">0.0</text>
<line x1="312.8" y1="286.15" x2="314.8" y2="286.15" stroke="#222" stroke-width="0.6"/>
<text x="310.6" y="288.85" text-anchor="end">0.1</text>
<line x1="312.8" y1="261.98" x2="314.8" y2="261.98" stroke="#222" stroke-width="0.6"/>
<text x="310.6" y="264.68" text-anchor="end">0.2</text>
<line x1="312.8" y1="237.82" x2="314.8" y2="237.82" stroke="#222" stroke-width="0.6"/>
<text x="310.6" y="240.52" text-anchor="end">0.3</text>
<line x1="312.8" y1="213.65" x2="314.8" y2="213.65" stroke="#222" stroke-width="0.6"/>
<text x="310.6" y="216.35" text-anchor="end">0.4</text>
<line x1="312.8" y1="189.48" x2="314.8" y2="189.48" stroke="#222" stroke-width="0.6"/>
<text x="310.6" y="192.18" text-anchor="end">0.5</text>
<text x="404.7" y="347" text-anchor="middle" font-size="8">Wavelength (nm)</text>
<text transform="translate(292.7,249.9) rotate(-90)" text-anchor="middle" font-size="7.5">Loading</text>
</g>
<g font-family='"Liberation Sans", sans-serif' font-size="6.9" fill="#000">
<line x1="324.4" y1="183.6" x2="342.4" y2="183.6" stroke="#000" stroke-width="0.8"/>
<text x="346.9" y="186">Ex</text>
<text x="346.9" y="195.8">Em</text>
</g>
</g>
<g>
<clipPath id="cla3"><rect x="564.6" y="177.4" width="180" height="145"/></clipPath>
<polyline clip-path="url(#cla3)" points="582.4,310.6 593.6,287.4 596,259 600,225 604.2,201.6 608,213 612,222 618,226 624,232 628,240 634,251 642,263 648,275 656,290 664,297 672,301.4 682,305.6 691,307.4" fill="none" stroke="#000" stroke-width="0.95" stroke-linejoin="round"/>
<polyline clip-path="url(#cla3)" points="601,307.4 615,307.4 620,305.6 625,304 630,306 634,307.6 638,305 642,297 646,279 649,261 654,241 659,228 665,219 671,214.4 676,215 681,220 686,233 692,251 698,271 704,289 710,298 716,303 722,305.4 726.6,306.4" fill="none" stroke="#f00" stroke-width="0.95" stroke-linejoin="round"/>
<line x1="564.1" y1="177.4" x2="745.1" y2="177.4" stroke="#000" stroke-width="1.0"/>
<line x1="564.1" y1="322.4" x2="745.1" y2="322.4" stroke="#000" stroke-width="1.0"/>
<line x1="564.6" y1="177.4" x2="564.6" y2="322.4" stroke="#000" stroke-width="1.0"/>
<line x1="744.6" y1="177.4" x2="744.6" y2="322.4" stroke="#000" stroke-width="1.0"/>
<g font-family='"Liberation Serif", serif' font-weight="bold" font-size="8" fill="#000">
<line x1="582.4" y1="322.4" x2="582.4" y2="324.4" stroke="#000" stroke-width="0.6"/>
<text x="582.4" y="333.8" text-anchor="middle">200</text>
<line x1="618.4" y1="322.4" x2="618.4" y2="324.4" stroke="#000" stroke-width="0.6"/>
<text x="618.4" y="333.8" text-anchor="middle">300</text>
<line x1="654.4" y1="322.4" x2="654.4" y2="324.4" stroke="#000" stroke-width="0.6"/>
<text x="654.4" y="333.8" text-anchor="middle">400</text>
<line x1="690.4" y1="322.4" x2="690.4" y2="324.4" stroke="#000" stroke-width="0.6"/>
<text x="690.4" y="333.8" text-anchor="middle">500</text>
<line x1="726.4" y1="322.4" x2="726.4" y2="324.4" stroke="#000" stroke-width="0.6"/>
<text x="726.4" y="333.8" text-anchor="middle">600</text>
<line x1="562.6" y1="307.9" x2="564.6" y2="307.9" stroke="none" stroke-width="0.6"/>
<text x="560.4" y="310.6" text-anchor="end">0.0</text>
<line x1="562.6" y1="278.9" x2="564.6" y2="278.9" stroke="none" stroke-width="0.6"/>
<text x="560.4" y="281.6" text-anchor="end">0.1</text>
<line x1="562.6" y1="249.9" x2="564.6" y2="249.9" stroke="none" stroke-width="0.6"/>
<text x="560.4" y="252.6" text-anchor="end">0.2</text>
<line x1="562.6" y1="220.9" x2="564.6" y2="220.9" stroke="none" stroke-width="0.6"/>
<text x="560.4" y="223.6" text-anchor="end">0.3</text>
<line x1="562.6" y1="191.9" x2="564.6" y2="191.9" stroke="none" stroke-width="0.6"/>
<text x="560.4" y="194.6" text-anchor="end">0.4</text>
<text x="654.6" y="347" text-anchor="middle" font-size="8">Wavelength (nm)</text>
<text transform="translate(542.5,249.9) rotate(-90)" text-anchor="middle" font-size="7.5">Loading</text>
</g>
<g font-family='"Liberation Sans", sans-serif' font-size="6.9" fill="#000">
<line x1="575" y1="183.6" x2="593" y2="183.6" stroke="#000" stroke-width="0.8"/>
<text x="597.5" y="186">Ex</text>
<text x="597.5" y="195.8">Em</text>
</g>
</g>
<g>
<clipPath id="cla4"><rect x="810.4" y="177.4" width="179.6" height="145"/></clipPath>
<polyline clip-path="url(#cla4)" points="828.2,243.6 832,233 835.4,223.4 839,225 842.4,243 846,256.6 850,244 853,236 856,234 859,238 861.4,245 864,265 867,285 870,299 873,306 878,310.4 935,310.4" fill="none" stroke="#000" stroke-width="0.95" stroke-linejoin="round"/>
<polyline clip-path="url(#cla4)" points="846,303 853,290 857,277 862,259 867,245 871,231 875,217.4 878.4,212.4 882.4,216.4 886,233 889,251 893,273 896,289 900,298.6 905,300 910,302 915,306 922,310.2 928,309 934,310.2 972,310.4" fill="none" stroke="#f00" stroke-width="0.95" stroke-linejoin="round"/>
<line x1="809.9" y1="177.4" x2="990.5" y2="177.4" stroke="#000" stroke-width="1.0"/>
<line x1="809.9" y1="322.4" x2="990.5" y2="322.4" stroke="#000" stroke-width="1.0"/>
<line x1="810.4" y1="177.4" x2="810.4" y2="322.4" stroke="#000" stroke-width="1.0"/>
<g font-family='"Liberation Serif", serif' font-weight="bold" font-size="8" fill="#000">
<line x1="828.2" y1="322.4" x2="828.2" y2="324.4" stroke="#000" stroke-width="0.6"/>
<text x="828.2" y="333.8" text-anchor="middle">200</text>
<line x1="864.2" y1="322.4" x2="864.2" y2="324.4" stroke="#000" stroke-width="0.6"/>
<text x="864.2" y="333.8" text-anchor="middle">300</text>
<line x1="900.2" y1="322.4" x2="900.2" y2="324.4" stroke="#000" stroke-width="0.6"/>
<text x="900.2" y="333.8" text-anchor="middle">400</text>
<line x1="936.2" y1="322.4" x2="936.2" y2="324.4" stroke="#000" stroke-width="0.6"/>
<text x="936.2" y="333.8" text-anchor="middle">500</text>
<line x1="972.2" y1="322.4" x2="972.2" y2="324.4" stroke="#000" stroke-width="0.6"/>
<text x="972.2" y="333.8" text-anchor="middle">600</text>
<line x1="808.4" y1="310.32" x2="810.4" y2="310.32" stroke="#222" stroke-width="0.6"/>
<text x="806.2" y="313.02" text-anchor="end">0.0</text>
<line x1="808.4" y1="286.15" x2="810.4" y2="286.15" stroke="#222" stroke-width="0.6"/>
<text x="806.2" y="288.85" text-anchor="end">0.1</text>
<line x1="808.4" y1="261.98" x2="810.4" y2="261.98" stroke="#222" stroke-width="0.6"/>
<text x="806.2" y="264.68" text-anchor="end">0.2</text>
<line x1="808.4" y1="237.82" x2="810.4" y2="237.82" stroke="#222" stroke-width="0.6"/>
<text x="806.2" y="240.52" text-anchor="end">0.3</text>
<line x1="808.4" y1="213.65" x2="810.4" y2="213.65" stroke="#222" stroke-width="0.6"/>
<text x="806.2" y="216.35" text-anchor="end">0.4</text>
<line x1="808.4" y1="189.48" x2="810.4" y2="189.48" stroke="#222" stroke-width="0.6"/>
<text x="806.2" y="192.18" text-anchor="end">0.5</text>
<text x="900.2" y="347" text-anchor="middle" font-size="8">Wavelength (nm)</text>
<text transform="translate(788.3,249.9) rotate(-90)" text-anchor="middle" font-size="7.5">Loading</text>
</g>
<g font-family='"Liberation Sans", sans-serif' font-size="6.9" fill="#000">
<line x1="817" y1="183.6" x2="835" y2="183.6" stroke="#000" stroke-width="0.8"/>
<text x="839.5" y="186">Ex</text>
<text x="839.5" y="195.8">Em</text>
</g>
</g>
<g>
<clipPath id="clb1"><rect x="68.4" y="520.4" width="180" height="145"/></clipPath>
<polyline clip-path="url(#clb1)" points="86.4,653 89,628 92,596 95,568 97,554.4 100.4,552.4 102.4,566 105,594 107.4,614 111,627 117,635 123,641 128,637 133,632.4 137,632.4 142,637 148,643 153,646.4 158,647.4 194,647.4" fill="none" stroke="#000" stroke-width="0.95" stroke-linejoin="round"/>
<polyline clip-path="url(#clb1)" points="109.4,647.4 120,647.4 125,646.4 129,643 135,635 140,625 145,606 150,589 154,580 158,577 163,582 169,594 175,609 180,627 184,640 188,646 193,647.4 230,647.4" fill="none" stroke="#f00" stroke-width="0.95" stroke-linejoin="round"/>
<line x1="67.9" y1="520.4" x2="248.9" y2="520.4" stroke="#000" stroke-width="1.0"/>
<line x1="67.9" y1="665.4" x2="248.9" y2="665.4" stroke="#000" stroke-width="1.0"/>
<line x1="68.4" y1="520.4" x2="68.4" y2="665.4" stroke="#bbb" stroke-width="0.6"/>
<line x1="248.4" y1="520.4" x2="248.4" y2="665.4" stroke="#bbb" stroke-width="0.6"/>
<g font-family='"Liberation Serif", serif' font-weight="bold" font-size="8" fill="#000">
<line x1="86.4" y1="665.4" x2="86.4" y2="667.4" stroke="#000" stroke-width="0.6"/>
<text x="86.4" y="676.8" text-anchor="middle">200</text>
<line x1="122.4" y1="665.4" x2="122.4" y2="667.4" stroke="#000" stroke-width="0.6"/>
<text x="122.4" y="676.8" text-anchor="middle">300</text>
<line x1="158.4" y1="665.4" x2="158.4" y2="667.4" stroke="#000" stroke-width="0.6"/>
<text x="158.4" y="676.8" text-anchor="middle">400</text>
<line x1="194.4" y1="665.4" x2="194.4" y2="667.4" stroke="#000" stroke-width="0.6"/>
<text x="194.4" y="676.8" text-anchor="middle">500</text>
<line x1="230.4" y1="665.4" x2="230.4" y2="667.4" stroke="#000" stroke-width="0.6"/>
<text x="230.4" y="676.8" text-anchor="middle">600</text>
<line x1="66.4" y1="665.4" x2="68.4" y2="665.4" stroke="#999" stroke-width="0.6"/>
<text x="64.2" y="668.1" text-anchor="end">-0.1</text>
<line x1="66.4" y1="647.27" x2="68.4" y2="647.27" stroke="#999" stroke-width="0.6"/>
<text x="64.2" y="649.98" text-anchor="end">0.0</text>
<line x1="66.4" y1="629.15" x2="68.4" y2="629.15" stroke="#999" stroke-width="0.6"/>
<text x="64.2" y="631.85" text-anchor="end">0.1</text>
<line x1="66.4" y1="611.02" x2="68.4" y2="611.02" stroke="#999" stroke-width="0.6"/>
<text x="64.2" y="613.73" text-anchor="end">0.2</text>
<line x1="66.4" y1="592.9" x2="68.4" y2="592.9" stroke="#999" stroke-width="0.6"/>
<text x="64.2" y="595.6" text-anchor="end">0.3</text>
<line x1="66.4" y1="574.77" x2="68.4" y2="574.77" stroke="#999" stroke-width="0.6"/>
<text x="64.2" y="577.48" text-anchor="end">0.4</text>
<line x1="66.4" y1="556.65" x2="68.4" y2="556.65" stroke="#999" stroke-width="0.6"/>
<text x="64.2" y="559.35" text-anchor="end">0.5</text>
<line x1="66.4" y1="538.52" x2="68.4" y2="538.52" stroke="#999" stroke-width="0.6"/>
<text x="64.2" y="541.23" text-anchor="end">0.6</text>
<line x1="66.4" y1="520.4" x2="68.4" y2="520.4" stroke="#999" stroke-width="0.6"/>
<text x="64.2" y="523.1" text-anchor="end">0.7</text>
<text x="158.4" y="690" text-anchor="middle" font-size="8">Wavelength (nm)</text>
<text transform="translate(43.7,592.9) rotate(-90)" text-anchor="middle" font-size="7.5">Loading</text>
</g>
<g font-family='"Liberation Sans", sans-serif' font-size="6.9" fill="#000">
<line x1="78" y1="535.6" x2="96" y2="535.6" stroke="#f00" stroke-width="0.8"/>
<text x="100.5" y="528.2">Ex</text>
<text x="100.5" y="538">Em</text>
</g>
</g>
<g>
<clipPath id="clb2"><rect x="313.4" y="520.4" width="180.6" height="145"/></clipPath>
<polyline clip-path="url(#clb2)" points="331.4,646.4 337,644.4 341,639 346,633.6 350,631 353,622 356,598 359,574 362,554 365,541 368,535.6 371,538 374,552 377,576 380,600 383,620 386,634 389,643 393,649 396.6,651.6" fill="none" stroke="#000" stroke-width="0.95" stroke-linejoin="round"/>
<polyline clip-path="url(#clb2)" points="368,651.6 371,650 375,644 379,633 383,618 387,596 391,572 395,554 400,546 404,550 408,564 412,582 417,606 422,624 428,639 434,646 442,650.4 446,650.4 452,648.6 460,648.4 468,650 476,651.4" fill="none" stroke="#f00" stroke-width="0.95" stroke-linejoin="round"/>
<line x1="312.9" y1="520.4" x2="494.5" y2="520.4" stroke="#000" stroke-width="1.0"/>
<line x1="312.9" y1="665.4" x2="494.5" y2="665.4" stroke="#000" stroke-width="1.0"/>
<line x1="313.4" y1="520.4" x2="313.4" y2="665.4" stroke="#000" stroke-width="1.0"/>
<line x1="494" y1="520.4" x2="494" y2="665.4" stroke="#000" stroke-width="1.0"/>
<g font-family='"Liberation Serif", serif' font-weight="bold" font-size="8" fill="#000">
<line x1="331.4" y1="665.4" x2="331.4" y2="667.4" stroke="#000" stroke-width="0.6"/>
<text x="331.4" y="676.8" text-anchor="middle">200</text>
<line x1="367.4" y1="665.4" x2="367.4" y2="667.4" stroke="#000" stroke-width="0.6"/>
<text x="367.4" y="676.8" text-anchor="middle">300</text>
<line x1="403.4" y1="665.4" x2="403.4" y2="667.4" stroke="#000" stroke-width="0.6"/>
<text x="403.4" y="676.8" text-anchor="middle">400</text>
<line x1="439.4" y1="665.4" x2="439.4" y2="667.4" stroke="#000" stroke-width="0.6"/>
<text x="439.4" y="676.8" text-anchor="middle">500</text>
<line x1="475.4" y1="665.4" x2="475.4" y2="667.4" stroke="#000" stroke-width="0.6"/>
<text x="475.4" y="676.8" text-anchor="middle">600</text>
<line x1="311.4" y1="652.22" x2="313.4" y2="652.22" stroke="#222" stroke-width="0.6"/>
<text x="309.2" y="654.92" text-anchor="end">0.0</text>
<line x1="311.4" y1="625.85" x2="313.4" y2="625.85" stroke="#222" stroke-width="0.6"/>
<text x="309.2" y="628.55" text-anchor="end">0.1</text>
<line x1="311.4" y1="599.49" x2="313.4" y2="599.49" stroke="#222" stroke-width="0.6"/>
<text x="309.2" y="602.19" text-anchor="end">0.2</text>
<line x1="311.4" y1="573.13" x2="313.4" y2="573.13" stroke="#222" stroke-width="0.6"/>
<text x="309.2" y="575.83" text-anchor="end">0.3</text>
<line x1="311.4" y1="546.76" x2="313.4" y2="546.76" stroke="#222" stroke-width="0.6"/>
<text x="309.2" y="549.46" text-anchor="end">0.4</text>
<line x1="311.4" y1="520.4" x2="313.4" y2="520.4" stroke="#222" stroke-width="0.6"/>
<text x="309.2" y="523.1" text-anchor="end">0.5</text>
<text x="403.7" y="690" text-anchor="middle" font-size="8">Wavelength (nm)</text>
<text transform="translate(291.3,592.9) rotate(-90)" text-anchor="middle" font-size="7.5">Loading</text>
</g>
<g font-family='"Liberation Sans", sans-serif' font-size="6.9" fill="#000">
<line x1="324.4" y1="535.6" x2="342.4" y2="535.6" stroke="#f00" stroke-width="0.8"/>
<text x="346.9" y="528.2">Ex</text>
<text x="346.9" y="538">Em</text>
</g>
</g>
<g>
<clipPath id="clb3"><rect x="562.4" y="520.4" width="179.6" height="145"/></clipPath>
<polyline clip-path="url(#clb3)" points="580.2,651.4 586,647.6 591,644 593,624 596,590 599,560 601.6,544.4 605,548 609,562 613,573 617,577 622,578 626,581 631,588 636,596 641,604 646,616 651,628 656,636 662,641 670,645 678,648.4 688,650.4" fill="none" stroke="#000" stroke-width="0.95" stroke-linejoin="round"/>
<polyline clip-path="url(#clb3)" points="598,650.4 625,650.4 629,646 634,638 639,628 644,614 649,596 654,582 659,570 665,562 671,559.6 675,559.6 679,563 683,572 688,585 693,600 698,618 703,632 708,640 713,645 718,647.6 724,649.4" fill="none" stroke="#f00" stroke-width="0.95" stroke-linejoin="round"/>
<line x1="561.9" y1="520.4" x2="742.5" y2="520.4" stroke="#000" stroke-width="1.0"/>
<line x1="561.9" y1="665.4" x2="742.5" y2="665.4" stroke="#000" stroke-width="1.0"/>
<line x1="562.4" y1="520.4" x2="562.4" y2="665.4" stroke="#bbb" stroke-width="0.6"/>
<line x1="742" y1="520.4" x2="742" y2="665.4" stroke="#bbb" stroke-width="0.6"/>
<g font-family='"Liberation Serif", serif' font-weight="bold" font-size="8" fill="#000">
<line x1="580.2" y1="665.4" x2="580.2" y2="667.4" stroke="#000" stroke-width="0.6"/>
<text x="580.2" y="676.8" text-anchor="middle">200</text>
<line x1="616.2" y1="665.4" x2="616.2" y2="667.4" stroke="#000" stroke-width="0.6"/>
<text x="616.2" y="676.8" text-anchor="middle">300</text>
<line x1="652.2" y1="665.4" x2="652.2" y2="667.4" stroke="#000" stroke-width="0.6"/>
<text x="652.2" y="676.8" text-anchor="middle">400</text>
<line x1="688.2" y1="665.4" x2="688.2" y2="667.4" stroke="#000" stroke-width="0.6"/>
<text x="688.2" y="676.8" text-anchor="middle">500</text>
<line x1="724.2" y1="665.4" x2="724.2" y2="667.4" stroke="#000" stroke-width="0.6"/>
<text x="724.2" y="676.8" text-anchor="middle">600</text>
<line x1="560.4" y1="650.9" x2="562.4" y2="650.9" stroke="#999" stroke-width="0.6"/>
<text x="558.2" y="653.6" text-anchor="end">0.0</text>
<line x1="560.4" y1="621.9" x2="562.4" y2="621.9" stroke="#999" stroke-width="0.6"/>
<text x="558.2" y="624.6" text-anchor="end">0.1</text>
<line x1="560.4" y1="592.9" x2="562.4" y2="592.9" stroke="#999" stroke-width="0.6"/>
<text x="558.2" y="595.6" text-anchor="end">0.2</text>
<line x1="560.4" y1="563.9" x2="562.4" y2="563.9" stroke="#999" stroke-width="0.6"/>
<text x="558.2" y="566.6" text-anchor="end">0.3</text>
<line x1="560.4" y1="534.9" x2="562.4" y2="534.9" stroke="#999" stroke-width="0.6"/>
<text x="558.2" y="537.6" text-anchor="end">0.4</text>
<text x="652.2" y="690" text-anchor="middle" font-size="8">Wavelength (nm)</text>
<text transform="translate(540.3,592.9) rotate(-90)" text-anchor="middle" font-size="7.5">Loading</text>
</g>
<g font-family='"Liberation Sans", sans-serif' font-size="6.9" fill="#000">
<line x1="575" y1="535.6" x2="593" y2="535.6" stroke="#f00" stroke-width="0.8"/>
<text x="597.5" y="528.2">Ex</text>
<text x="597.5" y="538">Em</text>
</g>
</g>
<g>
<clipPath id="clb4"><rect x="808" y="520.4" width="179.6" height="145"/></clipPath>
<polyline clip-path="url(#clb4)" points="826.2,549 831,557 836.4,563.4 844,563.4 847.6,561 852,564 855.6,567 858.4,575 861,590 863.4,610 866,630 869,642 873,649 876,650.4 918,650.4" fill="none" stroke="#000" stroke-width="0.95" stroke-linejoin="round"/>
<polyline clip-path="url(#clb4)" points="844,640.6 848,634 852,626 857,610 862,590 867,568 872,548 876.4,541.6 880.4,546.4 884,558 889,575 893,588 897,602 902,614 907,630 912,644 918,650 924,650.4 969.6,650.4" fill="none" stroke="#f00" stroke-width="0.95" stroke-linejoin="round"/>
<line x1="807.5" y1="520.4" x2="988.1" y2="520.4" stroke="#000" stroke-width="1.0"/>
<line x1="807.5" y1="665.4" x2="988.1" y2="665.4" stroke="#000" stroke-width="1.0"/>
<line x1="987.6" y1="520.4" x2="987.6" y2="665.4" stroke="#000" stroke-width="1.0"/>
<g font-family='"Liberation Serif", serif' font-weight="bold" font-size="8" fill="#000">
<line x1="826.2" y1="665.4" x2="826.2" y2="667.4" stroke="#000" stroke-width="0.6"/>
<text x="826.2" y="676.8" text-anchor="middle">200</text>
<line x1="862.2" y1="665.4" x2="862.2" y2="667.4" stroke="#000" stroke-width="0.6"/>
<text x="862.2" y="676.8" text-anchor="middle">300</text>
<line x1="898.2" y1="665.4" x2="898.2" y2="667.4" stroke="#000" stroke-width="0.6"/>
<text x="898.2" y="676.8" text-anchor="middle">400</text>
<line x1="934.2" y1="665.4" x2="934.2" y2="667.4" stroke="#000" stroke-width="0.6"/>
<text x="934.2" y="676.8" text-anchor="middle">500</text>
<line x1="970.2" y1="665.4" x2="970.2" y2="667.4" stroke="#000" stroke-width="0.6"/>
<text x="970.2" y="676.8" text-anchor="middle">600</text>
<line x1="806" y1="650.9" x2="808" y2="650.9" stroke="#555" stroke-width="0.6"/>
<text x="803.8" y="653.6" text-anchor="end">0.0</text>
<line x1="806" y1="621.9" x2="808" y2="621.9" stroke="#555" stroke-width="0.6"/>
<text x="803.8" y="624.6" text-anchor="end">0.1</text>
<line x1="806" y1="592.9" x2="808" y2="592.9" stroke="#555" stroke-width="0.6"/>
<text x="803.8" y="595.6" text-anchor="end">0.2</text>
<line x1="806" y1="563.9" x2="808" y2="563.9" stroke="#555" stroke-width="0.6"/>
<text x="803.8" y="566.6" text-anchor="end">0.3</text>
<line x1="806" y1="534.9" x2="808" y2="534.9" stroke="#555" stroke-width="0.6"/>
<text x="803.8" y="537.6" text-anchor="end">0.4</text>
<text x="897.8" y="690" text-anchor="middle" font-size="8">Wavelength (nm)</text>
<text transform="translate(785.9,592.9) rotate(-90)" text-anchor="middle" font-size="7.5">Loading</text>
</g>
<g font-family='"Liberation Sans", sans-serif' font-size="6.9" fill="#000">
<line x1="817" y1="535.6" x2="835" y2="535.6" stroke="#f00" stroke-width="0.8"/>
<text x="839.5" y="528.2">Ex</text>
<text x="839.5" y="538">Em</text>
</g>
</g>
<g>
<clipPath id="clc1"><rect x="68.2" y="866.4" width="180.2" height="145"/></clipPath>
<polyline clip-path="url(#clc1)" points="86.2,1009 89,984 92,956 95,926 97,910 100.4,901 102.4,916 105,940 107.4,956 111,968 116,973 120,981 123,985 127,986.4 132,985 136,987 142,991.4 148,995 154,998.4 159,1001.2 194,1001.4" fill="none" stroke="#000" stroke-width="0.95" stroke-linejoin="round"/>
<polyline clip-path="url(#clc1)" points="104,999.4 110,1000.4 118,1000.4 122,999.4 129,999.4 133,995 137,990 140,976 143,958 146,940 149,929 154,923 158,927 161,934 165,946 171,959 177,974 182,985 187,994 190,1000.4 194,1001.4 230,1001.4" fill="none" stroke="#f00" stroke-width="0.95" stroke-linejoin="round"/>
<line x1="67.7" y1="866.4" x2="248.9" y2="866.4" stroke="#000" stroke-width="1.0"/>
<line x1="67.7" y1="1011.4" x2="248.9" y2="1011.4" stroke="#000" stroke-width="1.0"/>
<line x1="68.2" y1="866.4" x2="68.2" y2="1011.4" stroke="#000" stroke-width="1.0"/>
<line x1="248.4" y1="866.4" x2="248.4" y2="1011.4" stroke="#ccc" stroke-width="0.6"/>
<g font-family='"Liberation Serif", serif' font-weight="bold" font-size="8" fill="#000">
<line x1="86.2" y1="1011.4" x2="86.2" y2="1013.4" stroke="#000" stroke-width="0.6"/>
<text x="86.2" y="1022.8" text-anchor="middle">200</text>
<line x1="122.2" y1="1011.4" x2="122.2" y2="1013.4" stroke="#000" stroke-width="0.6"/>
<text x="122.2" y="1022.8" text-anchor="middle">300</text>
<line x1="158.2" y1="1011.4" x2="158.2" y2="1013.4" stroke="#000" stroke-width="0.6"/>
<text x="158.2" y="1022.8" text-anchor="middle">400</text>
<line x1="194.2" y1="1011.4" x2="194.2" y2="1013.4" stroke="#000" stroke-width="0.6"/>
<text x="194.2" y="1022.8" text-anchor="middle">500</text>
<line x1="230.2" y1="1011.4" x2="230.2" y2="1013.4" stroke="#000" stroke-width="0.6"/>
<text x="230.2" y="1022.8" text-anchor="middle">600</text>
<line x1="66.2" y1="1001.73" x2="68.2" y2="1001.73" stroke="#222" stroke-width="0.6"/>
<text x="64" y="1004.43" text-anchor="end">0.0</text>
<line x1="66.2" y1="982.4" x2="68.2" y2="982.4" stroke="#222" stroke-width="0.6"/>
<text x="64" y="985.1" text-anchor="end">0.1</text>
<line x1="66.2" y1="963.07" x2="68.2" y2="963.07" stroke="#222" stroke-width="0.6"/>
<text x="64" y="965.77" text-anchor="end">0.2</text>
<line x1="66.2" y1="943.73" x2="68.2" y2="943.73" stroke="#222" stroke-width="0.6"/>
<text x="64" y="946.43" text-anchor="end">0.3</text>
<line x1="66.2" y1="924.4" x2="68.2" y2="924.4" stroke="#222" stroke-width="0.6"/>
<text x="64" y="927.1" text-anchor="end">0.4</text>
<line x1="66.2" y1="905.07" x2="68.2" y2="905.07" stroke="#222" stroke-width="0.6"/>
<text x="64" y="907.77" text-anchor="end">0.5</text>
<line x1="66.2" y1="885.73" x2="68.2" y2="885.73" stroke="#222" stroke-width="0.6"/>
<text x="64" y="888.43" text-anchor="end">0.6</text>
<line x1="66.2" y1="866.4" x2="68.2" y2="866.4" stroke="#222" stroke-width="0.6"/>
<text x="64" y="869.1" text-anchor="end">0.7</text>
<text x="158.3" y="1036" text-anchor="middle" font-size="8">Wavelength (nm)</text>
<text transform="translate(46.1,938.9) rotate(-90)" text-anchor="middle" font-size="7.5">Loading</text>
</g>
<g font-family='"Liberation Sans", sans-serif' font-size="6.9" fill="#000">
<line x1="78.6" y1="872.4" x2="93.6" y2="872.4" stroke="#000" stroke-width="0.7"/>
<line x1="78.6" y1="880" x2="93.6" y2="880" stroke="#f00" stroke-width="0.7"/>
<text x="97.6" y="874.8">Ex</text>
<text x="97.6" y="882.4">Em</text>
</g>
</g>
<g>
<clipPath id="clc2"><rect x="309.4" y="866.4" width="180" height="145"/></clipPath>
<polyline clip-path="url(#clc2)" points="327.4,985 332,988 338,994 342.4,989 346,976 350,960 354,936 357,916 360,898 363.6,888.4 367,894 370,910 373,932 376,954 379,972 383,988 387,996 393,999.4 436,999.4" fill="none" stroke="#000" stroke-width="0.95" stroke-linejoin="round"/>
<polyline clip-path="url(#clc2)" points="345,999.4 365,999.4 370,994 374,984 378,966 381,948 384,930 388,910 392,902 396,902 400,912 404,926 408,944 412,960 417,976 422,986 428,993 432,993.6 437,997.6 442,999.4 459,999.4 466,999.4 471.4,999" fill="none" stroke="#f00" stroke-width="0.95" stroke-linejoin="round"/>
<line x1="308.9" y1="866.4" x2="489.9" y2="866.4" stroke="#000" stroke-width="1.0"/>
<line x1="308.9" y1="1011.4" x2="489.9" y2="1011.4" stroke="#000" stroke-width="1.0"/>
<line x1="309.4" y1="866.4" x2="309.4" y2="1011.4" stroke="#000" stroke-width="1.0"/>
<line x1="489.4" y1="866.4" x2="489.4" y2="1011.4" stroke="#000" stroke-width="1.0"/>
<g font-family='"Liberation Serif", serif' font-weight="bold" font-size="8" fill="#000">
<line x1="327.4" y1="1011.4" x2="327.4" y2="1013.4" stroke="#000" stroke-width="0.6"/>
<text x="327.4" y="1022.8" text-anchor="middle">200</text>
<line x1="363.4" y1="1011.4" x2="363.4" y2="1013.4" stroke="#000" stroke-width="0.6"/>
<text x="363.4" y="1022.8" text-anchor="middle">300</text>
<line x1="399.4" y1="1011.4" x2="399.4" y2="1013.4" stroke="#000" stroke-width="0.6"/>
<text x="399.4" y="1022.8" text-anchor="middle">400</text>
<line x1="435.4" y1="1011.4" x2="435.4" y2="1013.4" stroke="#000" stroke-width="0.6"/>
<text x="435.4" y="1022.8" text-anchor="middle">500</text>
<line x1="471.4" y1="1011.4" x2="471.4" y2="1013.4" stroke="#000" stroke-width="0.6"/>
<text x="471.4" y="1022.8" text-anchor="middle">600</text>
<line x1="307.4" y1="999.32" x2="309.4" y2="999.32" stroke="#222" stroke-width="0.6"/>
<text x="305.2" y="1002.02" text-anchor="end">0.0</text>
<line x1="307.4" y1="975.15" x2="309.4" y2="975.15" stroke="#222" stroke-width="0.6"/>
<text x="305.2" y="977.85" text-anchor="end">0.1</text>
<line x1="307.4" y1="950.98" x2="309.4" y2="950.98" stroke="#222" stroke-width="0.6"/>
<text x="305.2" y="953.68" text-anchor="end">0.2</text>
<line x1="307.4" y1="926.82" x2="309.4" y2="926.82" stroke="#222" stroke-width="0.6"/>
<text x="305.2" y="929.52" text-anchor="end">0.3</text>
<line x1="307.4" y1="902.65" x2="309.4" y2="902.65" stroke="#222" stroke-width="0.6"/>
<text x="305.2" y="905.35" text-anchor="end">0.4</text>
<line x1="307.4" y1="878.48" x2="309.4" y2="878.48" stroke="#222" stroke-width="0.6"/>
<text x="305.2" y="881.18" text-anchor="end">0.5</text>
<text x="399.4" y="1036" text-anchor="middle" font-size="8">Wavelength (nm)</text>
<text transform="translate(287.3,938.9) rotate(-90)" text-anchor="middle" font-size="7.5">Loading</text>
</g>
<g font-family='"Liberation Sans", sans-serif' font-size="6.9" fill="#000">
<line x1="324.4" y1="872.4" x2="342.4" y2="872.4" stroke="#000" stroke-width="0.7"/>
<line x1="324.4" y1="882.6" x2="342.4" y2="882.6" stroke="#f00" stroke-width="0.7"/>
<text x="346.9" y="874.8">Ex</text>
<text x="346.9" y="885">Em</text>
</g>
</g>
<g>
<clipPath id="clc3"><rect x="561.4" y="866.4" width="180.6" height="145"/></clipPath>
<polyline clip-path="url(#clc3)" points="579.4,997.4 584,994 587,990 590.4,979 593,956 596,922 598.4,902 601,892 605,888.4 608,896 612,909 616,917 622,925 628,933 636,940 641,945 646,954 652,963 658,969.6 664,973 670,976 676,981 682,986.4 687,990.6" fill="none" stroke="#000" stroke-width="0.95" stroke-linejoin="round"/>
<polyline clip-path="url(#clc3)" points="597,996.4 611.6,996.4 616,992 619,988.4 622,988.4 626,993 629.6,996.4 640,996.4 644,993 648,986 652,974 656,958 661,938 666,920 671,906 676,898 681,895.6 686,899 691,906 696,920 702,942 708,964 714,978 719,984 724,988.6" fill="none" stroke="#f00" stroke-width="0.95" stroke-linejoin="round"/>
<line x1="560.9" y1="866.4" x2="742.5" y2="866.4" stroke="#000" stroke-width="1.0"/>
<line x1="560.9" y1="1011.4" x2="742.5" y2="1011.4" stroke="#000" stroke-width="1.0"/>
<line x1="561.4" y1="866.4" x2="561.4" y2="1011.4" stroke="#000" stroke-width="1.0"/>
<line x1="742" y1="866.4" x2="742" y2="1011.4" stroke="#000" stroke-width="1.0"/>
<g font-family='"Liberation Serif", serif' font-weight="bold" font-size="8" fill="#000">
<line x1="579.4" y1="1011.4" x2="579.4" y2="1013.4" stroke="#000" stroke-width="0.6"/>
<text x="579.4" y="1022.8" text-anchor="middle">200</text>
<line x1="615.4" y1="1011.4" x2="615.4" y2="1013.4" stroke="#000" stroke-width="0.6"/>
<text x="615.4" y="1022.8" text-anchor="middle">300</text>
<line x1="651.4" y1="1011.4" x2="651.4" y2="1013.4" stroke="#000" stroke-width="0.6"/>
<text x="651.4" y="1022.8" text-anchor="middle">400</text>
<line x1="687.4" y1="1011.4" x2="687.4" y2="1013.4" stroke="#000" stroke-width="0.6"/>
<text x="687.4" y="1022.8" text-anchor="middle">500</text>
<line x1="723.4" y1="1011.4" x2="723.4" y2="1013.4" stroke="#000" stroke-width="0.6"/>
<text x="723.4" y="1022.8" text-anchor="middle">600</text>
<line x1="559.4" y1="1011.4" x2="561.4" y2="1011.4" stroke="#222" stroke-width="0.6"/>
<text x="557.2" y="1014.1" text-anchor="end">-0.05</text>
<line x1="559.4" y1="996.14" x2="561.4" y2="996.14" stroke="#222" stroke-width="0.6"/>
<text x="557.2" y="998.84" text-anchor="end">0.00</text>
<line x1="559.4" y1="980.87" x2="561.4" y2="980.87" stroke="#222" stroke-width="0.6"/>
<text x="557.2" y="983.57" text-anchor="end">0.05</text>
<line x1="559.4" y1="965.61" x2="561.4" y2="965.61" stroke="#222" stroke-width="0.6"/>
<text x="557.2" y="968.31" text-anchor="end">0.10</text>
<line x1="559.4" y1="950.35" x2="561.4" y2="950.35" stroke="#222" stroke-width="0.6"/>
<text x="557.2" y="953.05" text-anchor="end">0.15</text>
<line x1="559.4" y1="935.08" x2="561.4" y2="935.08" stroke="#222" stroke-width="0.6"/>
<text x="557.2" y="937.78" text-anchor="end">0.20</text>
<line x1="559.4" y1="919.82" x2="561.4" y2="919.82" stroke="#222" stroke-width="0.6"/>
<text x="557.2" y="922.52" text-anchor="end">0.25</text>
<line x1="559.4" y1="904.56" x2="561.4" y2="904.56" stroke="#222" stroke-width="0.6"/>
<text x="557.2" y="907.26" text-anchor="end">0.30</text>
<line x1="559.4" y1="889.29" x2="561.4" y2="889.29" stroke="#222" stroke-width="0.6"/>
<text x="557.2" y="891.99" text-anchor="end">0.35</text>
<line x1="559.4" y1="874.03" x2="561.4" y2="874.03" stroke="#222" stroke-width="0.6"/>
<text x="557.2" y="876.73" text-anchor="end">0.40</text>
<text x="651.7" y="1036" text-anchor="middle" font-size="8">Wavelength (nm)</text>
<text transform="translate(532.4,938.9) rotate(-90)" text-anchor="middle" font-size="7.5">Loading</text>
</g>
<g font-family='"Liberation Sans", sans-serif' font-size="6.9" fill="#000">
<line x1="575" y1="872.4" x2="593" y2="872.4" stroke="#000" stroke-width="0.7"/>
<line x1="575" y1="882.6" x2="593" y2="882.6" stroke="#f00" stroke-width="0.7"/>
<text x="597.5" y="874.8">Ex</text>
<text x="597.5" y="885">Em</text>
</g>
</g>
<g>
<clipPath id="clc4"><rect x="804" y="866.4" width="180" height="145"/></clipPath>
<polyline clip-path="url(#clc4)" points="822.2,1005 825,976 828,944 831,920 833,911 836,913 839,923 842.4,926.4 846,923 850.4,917 854,922 857,936 860,954 863,974 866,988 869,995 873,999 876,999.4 930,999.4" fill="none" stroke="#000" stroke-width="0.95" stroke-linejoin="round"/>
<polyline clip-path="url(#clc4)" points="840,996.6 845,991 850,984 855,970 859,956 863,932 866,910 869,894 872.4,886.4 876,896 879,916 882,938 886,964 890,980 894,989 898,992.6 902,989.6 906,987 910,989 915,994 921,997.2 930,998.4 934,999.4 965.6,999.4" fill="none" stroke="#f00" stroke-width="0.95" stroke-linejoin="round"/>
<line x1="803.5" y1="866.4" x2="984.5" y2="866.4" stroke="#000" stroke-width="1.0"/>
<line x1="803.5" y1="1011.4" x2="984.5" y2="1011.4" stroke="#000" stroke-width="1.0"/>
<line x1="984" y1="866.4" x2="984" y2="1011.4" stroke="#000" stroke-width="1.0"/>
<g font-family='"Liberation Serif", serif' font-weight="bold" font-size="8" fill="#000">
<line x1="822.2" y1="1011.4" x2="822.2" y2="1013.4" stroke="#000" stroke-width="0.6"/>
<text x="822.2" y="1022.8" text-anchor="middle">200</text>
<line x1="858.2" y1="1011.4" x2="858.2" y2="1013.4" stroke="#000" stroke-width="0.6"/>
<text x="858.2" y="1022.8" text-anchor="middle">300</text>
<line x1="894.2" y1="1011.4" x2="894.2" y2="1013.4" stroke="#000" stroke-width="0.6"/>
<text x="894.2" y="1022.8" text-anchor="middle">400</text>
<line x1="930.2" y1="1011.4" x2="930.2" y2="1013.4" stroke="#000" stroke-width="0.6"/>
<text x="930.2" y="1022.8" text-anchor="middle">500</text>
<line x1="966.2" y1="1011.4" x2="966.2" y2="1013.4" stroke="#000" stroke-width="0.6"/>
<text x="966.2" y="1022.8" text-anchor="middle">600</text>
<line x1="802" y1="999.32" x2="804" y2="999.32" stroke="#555" stroke-width="0.6"/>
<text x="799.8" y="1002.02" text-anchor="end">0.0</text>
<line x1="802" y1="975.15" x2="804" y2="975.15" stroke="#555" stroke-width="0.6"/>
<text x="799.8" y="977.85" text-anchor="end">0.1</text>
<line x1="802" y1="950.98" x2="804" y2="950.98" stroke="#555" stroke-width="0.6"/>
<text x="799.8" y="953.68" text-anchor="end">0.2</text>
<line x1="802" y1="926.82" x2="804" y2="926.82" stroke="#555" stroke-width="0.6"/>
<text x="799.8" y="929.52" text-anchor="end">0.3</text>
<line x1="802" y1="902.65" x2="804" y2="902.65" stroke="#555" stroke-width="0.6"/>
<text x="799.8" y="905.35" text-anchor="end">0.4</text>
<line x1="802" y1="878.48" x2="804" y2="878.48" stroke="#555" stroke-width="0.6"/>
<text x="799.8" y="881.18" text-anchor="end">0.5</text>
<text x="894" y="1036" text-anchor="middle" font-size="8">Wavelength (nm)</text>
<text transform="translate(781.9,938.9) rotate(-90)" text-anchor="middle" font-size="7.5">Loading</text>
</g>
<g font-family='"Liberation Sans", sans-serif' font-size="6.9" fill="#000">
<line x1="817" y1="872.4" x2="835" y2="872.4" stroke="#000" stroke-width="0.7"/>
<line x1="817" y1="882.6" x2="835" y2="882.6" stroke="#f00" stroke-width="0.7"/>
<text x="839.5" y="874.8">Ex</text>
<text x="839.5" y="885">Em</text>
</g>
</g>
<g>
<clipPath id="clc5"><rect x="1048.4" y="866.4" width="180.2" height="145"/></clipPath>
<polyline clip-path="url(#clc5)" points="1066.4,877 1069,902 1072,930 1075,952 1077,972 1080,985.6 1084,988 1089,988.6 1094,993 1098,995.4 1102,995.4 1152,995.4" fill="none" stroke="#000" stroke-width="0.95" stroke-linejoin="round"/>
<polyline clip-path="url(#clc5)" points="1084,985 1088,978 1092,972 1095,964 1098.4,956 1103,952.4 1110,952.6 1118,953.6 1124,957 1129,959 1135,958.4 1139,954 1142,950 1145,958 1148,974 1151,990 1152.4,995.4 1210.4,995.4" fill="none" stroke="#f00" stroke-width="0.95" stroke-linejoin="round"/>
<line x1="1047.9" y1="866.4" x2="1229.1" y2="866.4" stroke="#000" stroke-width="1.0"/>
<line x1="1047.9" y1="1011.4" x2="1229.1" y2="1011.4" stroke="#000" stroke-width="1.0"/>
<line x1="1048.4" y1="866.4" x2="1048.4" y2="1011.4" stroke="#000" stroke-width="1.0"/>
<line x1="1228.6" y1="866.4" x2="1228.6" y2="1011.4" stroke="#000" stroke-width="1.0"/>
<g font-family='"Liberation Serif", serif' font-weight="bold" font-size="8" fill="#000">
<line x1="1066.4" y1="1011.4" x2="1066.4" y2="1013.4" stroke="#000" stroke-width="0.6"/>
<text x="1066.4" y="1022.8" text-anchor="middle">200</text>
<line x1="1102.4" y1="1011.4" x2="1102.4" y2="1013.4" stroke="#000" stroke-width="0.6"/>
<text x="1102.4" y="1022.8" text-anchor="middle">300</text>
<line x1="1138.4" y1="1011.4" x2="1138.4" y2="1013.4" stroke="#000" stroke-width="0.6"/>
<text x="1138.4" y="1022.8" text-anchor="middle">400</text>
<line x1="1174.4" y1="1011.4" x2="1174.4" y2="1013.4" stroke="#000" stroke-width="0.6"/>
<text x="1174.4" y="1022.8" text-anchor="middle">500</text>
<line x1="1210.4" y1="1011.4" x2="1210.4" y2="1013.4" stroke="#000" stroke-width="0.6"/>
<text x="1210.4" y="1022.8" text-anchor="middle">600</text>
<line x1="1046.4" y1="1011.4" x2="1048.4" y2="1011.4" stroke="#222" stroke-width="0.6"/>
<text x="1044.2" y="1014.1" text-anchor="end">-0.1</text>
<line x1="1046.4" y1="995.29" x2="1048.4" y2="995.29" stroke="#222" stroke-width="0.6"/>
<text x="1044.2" y="997.99" text-anchor="end">0.0</text>
<line x1="1046.4" y1="979.18" x2="1048.4" y2="979.18" stroke="#222" stroke-width="0.6"/>
<text x="1044.2" y="981.88" text-anchor="end">0.1</text>
<line x1="1046.4" y1="963.07" x2="1048.4" y2="963.07" stroke="#222" stroke-width="0.6"/>
<text x="1044.2" y="965.77" text-anchor="end">0.2</text>
<line x1="1046.4" y1="946.96" x2="1048.4" y2="946.96" stroke="#222" stroke-width="0.6"/>
<text x="1044.2" y="949.66" text-anchor="end">0.3</text>
<line x1="1046.4" y1="930.84" x2="1048.4" y2="930.84" stroke="#222" stroke-width="0.6"/>
<text x="1044.2" y="933.54" text-anchor="end">0.4</text>
<line x1="1046.4" y1="914.73" x2="1048.4" y2="914.73" stroke="#222" stroke-width="0.6"/>
<text x="1044.2" y="917.43" text-anchor="end">0.5</text>
<line x1="1046.4" y1="898.62" x2="1048.4" y2="898.62" stroke="#222" stroke-width="0.6"/>
<text x="1044.2" y="901.32" text-anchor="end">0.6</text>
<line x1="1046.4" y1="882.51" x2="1048.4" y2="882.51" stroke="#222" stroke-width="0.6"/>
<text x="1044.2" y="885.21" text-anchor="end">0.7</text>
<line x1="1046.4" y1="866.4" x2="1048.4" y2="866.4" stroke="#222" stroke-width="0.6"/>
<text x="1044.2" y="869.1" text-anchor="end">0.8</text>
<text x="1138.5" y="1036" text-anchor="middle" font-size="8">Wavelength (nm)</text>
<text transform="translate(1023.9,938.9) rotate(-90)" text-anchor="middle" font-size="7.5">Loading</text>
</g>
<g font-family='"Liberation Sans", sans-serif' font-size="6.9" fill="#000">
<line x1="1069.4" y1="872.4" x2="1087.4" y2="872.4" stroke="#000" stroke-width="0.7"/>
<line x1="1069.4" y1="882.6" x2="1087.4" y2="882.6" stroke="#f00" stroke-width="0.7"/>
<text x="1091.9" y="874.8">Ex</text>
<text x="1091.9" y="885">Em</text>
</g>
</g>
<g font-family='"Liberation Serif", serif' font-weight="bold" font-size="20" fill="#000">
<text x="3.4" y="33.4">(a)</text>
<text x="1.8" y="375.2">(b)</text>
<text x="0.2" y="719.6">(c)</text>
</g></svg></body></html>
